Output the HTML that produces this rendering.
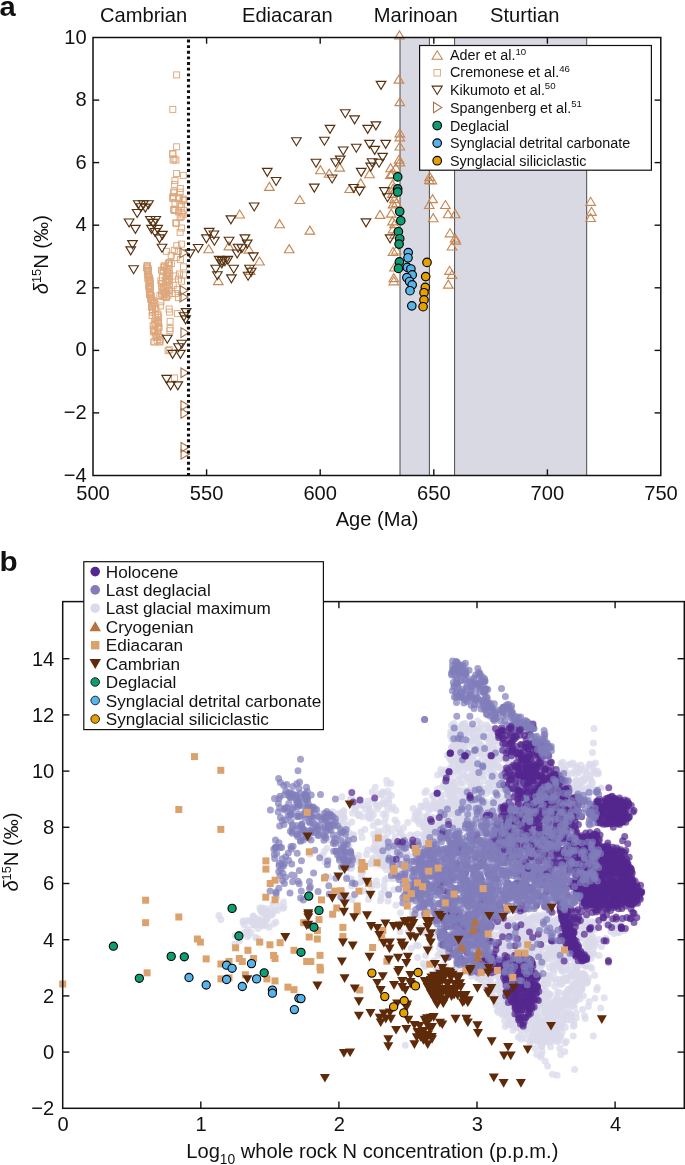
<!DOCTYPE html>
<html lang="en"><head><meta charset="utf-8"><title>Figure</title><style>html,body{margin:0;padding:0;background:#fff}svg{display:block}</style></head><body>
<svg width="685" height="1165" viewBox="0 0 685 1165" font-family='"Liberation Sans", sans-serif' fill="#111">
<rect width="685" height="1165" fill="#fff"/>
<rect x="400.0" y="37.5" width="29.4" height="438" fill="#d9d9e4"/>
<line x1="400.0" y1="37.5" x2="400.0" y2="475.5" stroke="#4a4a4a" stroke-width="1"/>
<line x1="429.4" y1="37.5" x2="429.4" y2="475.5" stroke="#4a4a4a" stroke-width="1"/>
<rect x="454.6" y="37.5" width="132.1" height="438" fill="#d9d9e4"/>
<line x1="454.6" y1="37.5" x2="454.6" y2="475.5" stroke="#4a4a4a" stroke-width="1"/>
<line x1="586.7" y1="37.5" x2="586.7" y2="475.5" stroke="#4a4a4a" stroke-width="1"/>
<g id="a-data">
<rect x="173.6" y="71.9" width="6.0" height="6.0" fill="none" stroke="#dea77c" stroke-width="0.95"/>
<rect x="169.8" y="106.4" width="6.0" height="6.0" fill="none" stroke="#dea77c" stroke-width="0.95"/>
<rect x="173.6" y="143.8" width="6.0" height="6.0" fill="none" stroke="#dea77c" stroke-width="0.95"/>
<rect x="169.8" y="151.1" width="6.0" height="6.0" fill="none" stroke="#dea77c" stroke-width="0.95"/>
<rect x="171.1" y="155.8" width="6.0" height="6.0" fill="none" stroke="#dea77c" stroke-width="0.95"/>
<rect x="169.8" y="150.5" width="6.0" height="6.0" fill="none" stroke="#dea77c" stroke-width="0.95"/>
<rect x="170.1" y="157.1" width="6.0" height="6.0" fill="none" stroke="#dea77c" stroke-width="0.95"/>
<rect x="172.9" y="157.1" width="6.0" height="6.0" fill="none" stroke="#dea77c" stroke-width="0.95"/>
<rect x="173.6" y="170.6" width="6.0" height="6.0" fill="none" stroke="#dea77c" stroke-width="0.95"/>
<rect x="180.3" y="172.4" width="6.0" height="6.0" fill="none" stroke="#dea77c" stroke-width="0.95"/>
<rect x="172.0" y="177.6" width="6.0" height="6.0" fill="none" stroke="#dea77c" stroke-width="0.95"/>
<rect x="171.6" y="181.6" width="6.0" height="6.0" fill="none" stroke="#dea77c" stroke-width="0.95"/>
<rect x="177.3" y="185.5" width="6.0" height="6.0" fill="none" stroke="#dea77c" stroke-width="0.95"/>
<rect x="170.7" y="189.0" width="6.0" height="6.0" fill="none" stroke="#dea77c" stroke-width="0.95"/>
<rect x="170.3" y="193.4" width="6.0" height="6.0" fill="none" stroke="#dea77c" stroke-width="0.95"/>
<rect x="169.8" y="195.6" width="6.0" height="6.0" fill="none" stroke="#dea77c" stroke-width="0.95"/>
<rect x="176.4" y="194.3" width="6.0" height="6.0" fill="none" stroke="#dea77c" stroke-width="0.95"/>
<rect x="180.3" y="196.0" width="6.0" height="6.0" fill="none" stroke="#dea77c" stroke-width="0.95"/>
<rect x="181.2" y="197.4" width="6.0" height="6.0" fill="none" stroke="#dea77c" stroke-width="0.95"/>
<rect x="176.8" y="201.3" width="6.0" height="6.0" fill="none" stroke="#dea77c" stroke-width="0.95"/>
<rect x="178.2" y="203.9" width="6.0" height="6.0" fill="none" stroke="#dea77c" stroke-width="0.95"/>
<rect x="170.7" y="206.5" width="6.0" height="6.0" fill="none" stroke="#dea77c" stroke-width="0.95"/>
<rect x="172.0" y="207.4" width="6.0" height="6.0" fill="none" stroke="#dea77c" stroke-width="0.95"/>
<rect x="179.0" y="210.0" width="6.0" height="6.0" fill="none" stroke="#dea77c" stroke-width="0.95"/>
<rect x="178.2" y="213.5" width="6.0" height="6.0" fill="none" stroke="#dea77c" stroke-width="0.95"/>
<rect x="180.8" y="207.4" width="6.0" height="6.0" fill="none" stroke="#dea77c" stroke-width="0.95"/>
<rect x="171.2" y="189.9" width="6.0" height="6.0" fill="none" stroke="#dea77c" stroke-width="0.95"/>
<rect x="177.1" y="189.2" width="6.0" height="6.0" fill="none" stroke="#dea77c" stroke-width="0.95"/>
<rect x="169.8" y="194.3" width="6.0" height="6.0" fill="none" stroke="#dea77c" stroke-width="0.95"/>
<rect x="175.6" y="195.8" width="6.0" height="6.0" fill="none" stroke="#dea77c" stroke-width="0.95"/>
<rect x="180.0" y="197.2" width="6.0" height="6.0" fill="none" stroke="#dea77c" stroke-width="0.95"/>
<rect x="172.0" y="200.1" width="6.0" height="6.0" fill="none" stroke="#dea77c" stroke-width="0.95"/>
<rect x="178.5" y="201.6" width="6.0" height="6.0" fill="none" stroke="#dea77c" stroke-width="0.95"/>
<rect x="171.2" y="207.4" width="6.0" height="6.0" fill="none" stroke="#dea77c" stroke-width="0.95"/>
<rect x="175.6" y="208.9" width="6.0" height="6.0" fill="none" stroke="#dea77c" stroke-width="0.95"/>
<rect x="180.0" y="211.8" width="6.0" height="6.0" fill="none" stroke="#dea77c" stroke-width="0.95"/>
<rect x="177.1" y="214.7" width="6.0" height="6.0" fill="none" stroke="#dea77c" stroke-width="0.95"/>
<rect x="173.4" y="220.6" width="6.0" height="6.0" fill="none" stroke="#dea77c" stroke-width="0.95"/>
<rect x="178.5" y="225.0" width="6.0" height="6.0" fill="none" stroke="#dea77c" stroke-width="0.95"/>
<rect x="177.1" y="229.3" width="6.0" height="6.0" fill="none" stroke="#dea77c" stroke-width="0.95"/>
<rect x="172.7" y="219.8" width="6.0" height="6.0" fill="none" stroke="#dea77c" stroke-width="0.95"/>
<rect x="166.9" y="327.7" width="6.0" height="6.0" fill="none" stroke="#dea77c" stroke-width="0.95"/>
<rect x="151.8" y="338.8" width="6.0" height="6.0" fill="none" stroke="#dea77c" stroke-width="0.95"/>
<rect x="156.4" y="338.8" width="6.0" height="6.0" fill="none" stroke="#dea77c" stroke-width="0.95"/>
<rect x="166.3" y="346.7" width="6.0" height="6.0" fill="none" stroke="#dea77c" stroke-width="0.95"/>
<rect x="171.5" y="375.0" width="6.0" height="6.0" fill="none" stroke="#dea77c" stroke-width="0.95"/>
<rect x="166.1" y="306.0" width="6.0" height="6.0" fill="none" stroke="#dea77c" stroke-width="0.95"/>
<rect x="166.6" y="309.1" width="6.0" height="6.0" fill="none" stroke="#dea77c" stroke-width="0.95"/>
<rect x="167.1" y="318.3" width="6.0" height="6.0" fill="none" stroke="#dea77c" stroke-width="0.95"/>
<rect x="167.1" y="325.5" width="6.0" height="6.0" fill="none" stroke="#dea77c" stroke-width="0.95"/>
<rect x="174.4" y="310.6" width="6.0" height="6.0" fill="none" stroke="#dea77c" stroke-width="0.95"/>
<rect x="165.1" y="347.7" width="6.0" height="6.0" fill="none" stroke="#dea77c" stroke-width="0.95"/>
<rect x="150.7" y="338.9" width="6.0" height="6.0" fill="none" stroke="#dea77c" stroke-width="0.95"/>
<rect x="156.9" y="338.9" width="6.0" height="6.0" fill="none" stroke="#dea77c" stroke-width="0.95"/>
<rect x="178.5" y="241.1" width="6.0" height="6.0" fill="none" stroke="#dea77c" stroke-width="0.95"/>
<rect x="173.8" y="242.7" width="6.0" height="6.0" fill="none" stroke="#dea77c" stroke-width="0.95"/>
<rect x="171.3" y="247.3" width="6.0" height="6.0" fill="none" stroke="#dea77c" stroke-width="0.95"/>
<rect x="175.4" y="248.3" width="6.0" height="6.0" fill="none" stroke="#dea77c" stroke-width="0.95"/>
<rect x="163.5" y="248.3" width="6.0" height="6.0" fill="none" stroke="#dea77c" stroke-width="0.95"/>
<rect x="168.2" y="252.4" width="6.0" height="6.0" fill="none" stroke="#dea77c" stroke-width="0.95"/>
<rect x="173.3" y="254.5" width="6.0" height="6.0" fill="none" stroke="#dea77c" stroke-width="0.95"/>
<rect x="177.4" y="256.6" width="6.0" height="6.0" fill="none" stroke="#dea77c" stroke-width="0.95"/>
<rect x="180.5" y="263.8" width="6.0" height="6.0" fill="none" stroke="#dea77c" stroke-width="0.95"/>
<rect x="176.4" y="271.0" width="6.0" height="6.0" fill="none" stroke="#dea77c" stroke-width="0.95"/>
<rect x="180.5" y="272.0" width="6.0" height="6.0" fill="none" stroke="#dea77c" stroke-width="0.95"/>
<rect x="172.3" y="273.0" width="6.0" height="6.0" fill="none" stroke="#dea77c" stroke-width="0.95"/>
<rect x="175.4" y="276.1" width="6.0" height="6.0" fill="none" stroke="#dea77c" stroke-width="0.95"/>
<rect x="178.5" y="278.2" width="6.0" height="6.0" fill="none" stroke="#dea77c" stroke-width="0.95"/>
<rect x="170.2" y="282.3" width="6.0" height="6.0" fill="none" stroke="#dea77c" stroke-width="0.95"/>
<rect x="174.4" y="286.4" width="6.0" height="6.0" fill="none" stroke="#dea77c" stroke-width="0.95"/>
<rect x="172.3" y="290.5" width="6.0" height="6.0" fill="none" stroke="#dea77c" stroke-width="0.95"/>
<rect x="175.4" y="294.6" width="6.0" height="6.0" fill="none" stroke="#dea77c" stroke-width="0.95"/>
<rect x="169.2" y="290.5" width="6.0" height="6.0" fill="none" stroke="#dea77c" stroke-width="0.95"/>
<rect x="163.0" y="294.6" width="6.0" height="6.0" fill="none" stroke="#dea77c" stroke-width="0.95"/>
<rect x="156.9" y="292.6" width="6.0" height="6.0" fill="none" stroke="#dea77c" stroke-width="0.95"/>
<rect x="157.9" y="298.8" width="6.0" height="6.0" fill="none" stroke="#dea77c" stroke-width="0.95"/>
<rect x="157.4" y="302.9" width="6.0" height="6.0" fill="none" stroke="#dea77c" stroke-width="0.95"/>
<rect x="144.2" y="262.6" width="6.0" height="6.0" fill="none" stroke="#dea77c" stroke-width="0.95"/>
<rect x="144.2" y="263.1" width="6.0" height="6.0" fill="none" stroke="#dea77c" stroke-width="0.95"/>
<rect x="144.3" y="263.9" width="6.0" height="6.0" fill="none" stroke="#dea77c" stroke-width="0.95"/>
<rect x="143.6" y="264.9" width="6.0" height="6.0" fill="none" stroke="#dea77c" stroke-width="0.95"/>
<rect x="145.0" y="265.8" width="6.0" height="6.0" fill="none" stroke="#dea77c" stroke-width="0.95"/>
<rect x="145.5" y="267.2" width="6.0" height="6.0" fill="none" stroke="#dea77c" stroke-width="0.95"/>
<rect x="144.9" y="267.5" width="6.0" height="6.0" fill="none" stroke="#dea77c" stroke-width="0.95"/>
<rect x="144.8" y="267.7" width="6.0" height="6.0" fill="none" stroke="#dea77c" stroke-width="0.95"/>
<rect x="144.3" y="268.8" width="6.0" height="6.0" fill="none" stroke="#dea77c" stroke-width="0.95"/>
<rect x="144.9" y="271.4" width="6.0" height="6.0" fill="none" stroke="#dea77c" stroke-width="0.95"/>
<rect x="145.4" y="271.9" width="6.0" height="6.0" fill="none" stroke="#dea77c" stroke-width="0.95"/>
<rect x="145.2" y="272.7" width="6.0" height="6.0" fill="none" stroke="#dea77c" stroke-width="0.95"/>
<rect x="146.5" y="274.9" width="6.0" height="6.0" fill="none" stroke="#dea77c" stroke-width="0.95"/>
<rect x="145.3" y="274.6" width="6.0" height="6.0" fill="none" stroke="#dea77c" stroke-width="0.95"/>
<rect x="144.9" y="276.0" width="6.0" height="6.0" fill="none" stroke="#dea77c" stroke-width="0.95"/>
<rect x="146.6" y="276.5" width="6.0" height="6.0" fill="none" stroke="#dea77c" stroke-width="0.95"/>
<rect x="146.9" y="277.4" width="6.0" height="6.0" fill="none" stroke="#dea77c" stroke-width="0.95"/>
<rect x="147.0" y="278.4" width="6.0" height="6.0" fill="none" stroke="#dea77c" stroke-width="0.95"/>
<rect x="146.3" y="279.6" width="6.0" height="6.0" fill="none" stroke="#dea77c" stroke-width="0.95"/>
<rect x="147.1" y="280.5" width="6.0" height="6.0" fill="none" stroke="#dea77c" stroke-width="0.95"/>
<rect x="146.3" y="282.1" width="6.0" height="6.0" fill="none" stroke="#dea77c" stroke-width="0.95"/>
<rect x="146.0" y="282.6" width="6.0" height="6.0" fill="none" stroke="#dea77c" stroke-width="0.95"/>
<rect x="145.9" y="283.8" width="6.0" height="6.0" fill="none" stroke="#dea77c" stroke-width="0.95"/>
<rect x="147.0" y="284.3" width="6.0" height="6.0" fill="none" stroke="#dea77c" stroke-width="0.95"/>
<rect x="147.5" y="284.8" width="6.0" height="6.0" fill="none" stroke="#dea77c" stroke-width="0.95"/>
<rect x="146.3" y="286.7" width="6.0" height="6.0" fill="none" stroke="#dea77c" stroke-width="0.95"/>
<rect x="146.7" y="288.1" width="6.0" height="6.0" fill="none" stroke="#dea77c" stroke-width="0.95"/>
<rect x="146.9" y="289.6" width="6.0" height="6.0" fill="none" stroke="#dea77c" stroke-width="0.95"/>
<rect x="147.1" y="289.9" width="6.0" height="6.0" fill="none" stroke="#dea77c" stroke-width="0.95"/>
<rect x="146.6" y="291.5" width="6.0" height="6.0" fill="none" stroke="#dea77c" stroke-width="0.95"/>
<rect x="147.0" y="291.8" width="6.0" height="6.0" fill="none" stroke="#dea77c" stroke-width="0.95"/>
<rect x="147.3" y="291.7" width="6.0" height="6.0" fill="none" stroke="#dea77c" stroke-width="0.95"/>
<rect x="148.3" y="292.8" width="6.0" height="6.0" fill="none" stroke="#dea77c" stroke-width="0.95"/>
<rect x="147.9" y="294.6" width="6.0" height="6.0" fill="none" stroke="#dea77c" stroke-width="0.95"/>
<rect x="148.5" y="296.1" width="6.0" height="6.0" fill="none" stroke="#dea77c" stroke-width="0.95"/>
<rect x="147.7" y="296.4" width="6.0" height="6.0" fill="none" stroke="#dea77c" stroke-width="0.95"/>
<rect x="150.1" y="297.5" width="6.0" height="6.0" fill="none" stroke="#dea77c" stroke-width="0.95"/>
<rect x="149.9" y="298.9" width="6.0" height="6.0" fill="none" stroke="#dea77c" stroke-width="0.95"/>
<rect x="150.9" y="299.8" width="6.0" height="6.0" fill="none" stroke="#dea77c" stroke-width="0.95"/>
<rect x="149.1" y="300.0" width="6.0" height="6.0" fill="none" stroke="#dea77c" stroke-width="0.95"/>
<rect x="151.4" y="300.6" width="6.0" height="6.0" fill="none" stroke="#dea77c" stroke-width="0.95"/>
<rect x="148.9" y="303.2" width="6.0" height="6.0" fill="none" stroke="#dea77c" stroke-width="0.95"/>
<rect x="149.2" y="303.0" width="6.0" height="6.0" fill="none" stroke="#dea77c" stroke-width="0.95"/>
<rect x="148.4" y="304.2" width="6.0" height="6.0" fill="none" stroke="#dea77c" stroke-width="0.95"/>
<rect x="152.4" y="305.7" width="6.0" height="6.0" fill="none" stroke="#dea77c" stroke-width="0.95"/>
<rect x="152.9" y="305.7" width="6.0" height="6.0" fill="none" stroke="#dea77c" stroke-width="0.95"/>
<rect x="149.8" y="306.8" width="6.0" height="6.0" fill="none" stroke="#dea77c" stroke-width="0.95"/>
<rect x="149.5" y="307.7" width="6.0" height="6.0" fill="none" stroke="#dea77c" stroke-width="0.95"/>
<rect x="149.5" y="309.2" width="6.0" height="6.0" fill="none" stroke="#dea77c" stroke-width="0.95"/>
<rect x="154.8" y="311.0" width="6.0" height="6.0" fill="none" stroke="#dea77c" stroke-width="0.95"/>
<rect x="152.6" y="311.0" width="6.0" height="6.0" fill="none" stroke="#dea77c" stroke-width="0.95"/>
<rect x="149.1" y="312.5" width="6.0" height="6.0" fill="none" stroke="#dea77c" stroke-width="0.95"/>
<rect x="155.1" y="312.8" width="6.0" height="6.0" fill="none" stroke="#dea77c" stroke-width="0.95"/>
<rect x="152.2" y="314.8" width="6.0" height="6.0" fill="none" stroke="#dea77c" stroke-width="0.95"/>
<rect x="155.6" y="314.4" width="6.0" height="6.0" fill="none" stroke="#dea77c" stroke-width="0.95"/>
<rect x="154.1" y="317.0" width="6.0" height="6.0" fill="none" stroke="#dea77c" stroke-width="0.95"/>
<rect x="154.0" y="318.0" width="6.0" height="6.0" fill="none" stroke="#dea77c" stroke-width="0.95"/>
<rect x="151.7" y="319.0" width="6.0" height="6.0" fill="none" stroke="#dea77c" stroke-width="0.95"/>
<rect x="155.4" y="319.5" width="6.0" height="6.0" fill="none" stroke="#dea77c" stroke-width="0.95"/>
<rect x="155.4" y="320.6" width="6.0" height="6.0" fill="none" stroke="#dea77c" stroke-width="0.95"/>
<rect x="152.2" y="321.5" width="6.0" height="6.0" fill="none" stroke="#dea77c" stroke-width="0.95"/>
<rect x="150.2" y="322.5" width="6.0" height="6.0" fill="none" stroke="#dea77c" stroke-width="0.95"/>
<rect x="155.9" y="324.1" width="6.0" height="6.0" fill="none" stroke="#dea77c" stroke-width="0.95"/>
<rect x="155.0" y="324.2" width="6.0" height="6.0" fill="none" stroke="#dea77c" stroke-width="0.95"/>
<rect x="155.8" y="324.4" width="6.0" height="6.0" fill="none" stroke="#dea77c" stroke-width="0.95"/>
<rect x="150.3" y="326.6" width="6.0" height="6.0" fill="none" stroke="#dea77c" stroke-width="0.95"/>
<rect x="151.8" y="327.4" width="6.0" height="6.0" fill="none" stroke="#dea77c" stroke-width="0.95"/>
<rect x="154.6" y="328.8" width="6.0" height="6.0" fill="none" stroke="#dea77c" stroke-width="0.95"/>
<rect x="150.5" y="328.6" width="6.0" height="6.0" fill="none" stroke="#dea77c" stroke-width="0.95"/>
<rect x="152.0" y="329.8" width="6.0" height="6.0" fill="none" stroke="#dea77c" stroke-width="0.95"/>
<rect x="155.2" y="331.4" width="6.0" height="6.0" fill="none" stroke="#dea77c" stroke-width="0.95"/>
<rect x="153.0" y="332.7" width="6.0" height="6.0" fill="none" stroke="#dea77c" stroke-width="0.95"/>
<rect x="153.7" y="333.3" width="6.0" height="6.0" fill="none" stroke="#dea77c" stroke-width="0.95"/>
<rect x="156.7" y="334.3" width="6.0" height="6.0" fill="none" stroke="#dea77c" stroke-width="0.95"/>
<rect x="153.1" y="334.5" width="6.0" height="6.0" fill="none" stroke="#dea77c" stroke-width="0.95"/>
<rect x="156.5" y="336.6" width="6.0" height="6.0" fill="none" stroke="#dea77c" stroke-width="0.95"/>
<rect x="157.2" y="336.9" width="6.0" height="6.0" fill="none" stroke="#dea77c" stroke-width="0.95"/>
<rect x="154.2" y="337.3" width="6.0" height="6.0" fill="none" stroke="#dea77c" stroke-width="0.95"/>
<rect x="166.4" y="259.4" width="6.0" height="6.0" fill="none" stroke="#dea77c" stroke-width="0.95"/>
<rect x="165.3" y="260.7" width="6.0" height="6.0" fill="none" stroke="#dea77c" stroke-width="0.95"/>
<rect x="165.6" y="260.6" width="6.0" height="6.0" fill="none" stroke="#dea77c" stroke-width="0.95"/>
<rect x="168.4" y="260.5" width="6.0" height="6.0" fill="none" stroke="#dea77c" stroke-width="0.95"/>
<rect x="165.8" y="262.2" width="6.0" height="6.0" fill="none" stroke="#dea77c" stroke-width="0.95"/>
<rect x="161.2" y="262.8" width="6.0" height="6.0" fill="none" stroke="#dea77c" stroke-width="0.95"/>
<rect x="160.9" y="264.4" width="6.0" height="6.0" fill="none" stroke="#dea77c" stroke-width="0.95"/>
<rect x="161.4" y="263.7" width="6.0" height="6.0" fill="none" stroke="#dea77c" stroke-width="0.95"/>
<rect x="163.3" y="265.7" width="6.0" height="6.0" fill="none" stroke="#dea77c" stroke-width="0.95"/>
<rect x="166.1" y="267.0" width="6.0" height="6.0" fill="none" stroke="#dea77c" stroke-width="0.95"/>
<rect x="160.3" y="267.0" width="6.0" height="6.0" fill="none" stroke="#dea77c" stroke-width="0.95"/>
<rect x="158.5" y="267.3" width="6.0" height="6.0" fill="none" stroke="#dea77c" stroke-width="0.95"/>
<rect x="159.9" y="268.2" width="6.0" height="6.0" fill="none" stroke="#dea77c" stroke-width="0.95"/>
<rect x="164.6" y="269.0" width="6.0" height="6.0" fill="none" stroke="#dea77c" stroke-width="0.95"/>
<rect x="165.1" y="269.8" width="6.0" height="6.0" fill="none" stroke="#dea77c" stroke-width="0.95"/>
<rect x="166.4" y="270.2" width="6.0" height="6.0" fill="none" stroke="#dea77c" stroke-width="0.95"/>
<rect x="164.6" y="271.1" width="6.0" height="6.0" fill="none" stroke="#dea77c" stroke-width="0.95"/>
<rect x="163.7" y="272.7" width="6.0" height="6.0" fill="none" stroke="#dea77c" stroke-width="0.95"/>
<rect x="163.1" y="273.4" width="6.0" height="6.0" fill="none" stroke="#dea77c" stroke-width="0.95"/>
<rect x="166.6" y="273.8" width="6.0" height="6.0" fill="none" stroke="#dea77c" stroke-width="0.95"/>
<rect x="159.4" y="274.8" width="6.0" height="6.0" fill="none" stroke="#dea77c" stroke-width="0.95"/>
<rect x="163.6" y="275.7" width="6.0" height="6.0" fill="none" stroke="#dea77c" stroke-width="0.95"/>
<rect x="166.1" y="276.4" width="6.0" height="6.0" fill="none" stroke="#dea77c" stroke-width="0.95"/>
<rect x="162.4" y="277.4" width="6.0" height="6.0" fill="none" stroke="#dea77c" stroke-width="0.95"/>
<rect x="166.1" y="277.8" width="6.0" height="6.0" fill="none" stroke="#dea77c" stroke-width="0.95"/>
<rect x="157.9" y="277.9" width="6.0" height="6.0" fill="none" stroke="#dea77c" stroke-width="0.95"/>
<rect x="164.7" y="278.9" width="6.0" height="6.0" fill="none" stroke="#dea77c" stroke-width="0.95"/>
<rect x="165.1" y="278.6" width="6.0" height="6.0" fill="none" stroke="#dea77c" stroke-width="0.95"/>
<rect x="159.0" y="280.3" width="6.0" height="6.0" fill="none" stroke="#dea77c" stroke-width="0.95"/>
<rect x="158.8" y="280.8" width="6.0" height="6.0" fill="none" stroke="#dea77c" stroke-width="0.95"/>
<rect x="164.4" y="282.4" width="6.0" height="6.0" fill="none" stroke="#dea77c" stroke-width="0.95"/>
<rect x="166.5" y="282.8" width="6.0" height="6.0" fill="none" stroke="#dea77c" stroke-width="0.95"/>
<rect x="158.5" y="283.3" width="6.0" height="6.0" fill="none" stroke="#dea77c" stroke-width="0.95"/>
<rect x="160.4" y="284.5" width="6.0" height="6.0" fill="none" stroke="#dea77c" stroke-width="0.95"/>
<rect x="162.6" y="285.5" width="6.0" height="6.0" fill="none" stroke="#dea77c" stroke-width="0.95"/>
<rect x="160.7" y="285.5" width="6.0" height="6.0" fill="none" stroke="#dea77c" stroke-width="0.95"/>
<rect x="166.1" y="286.2" width="6.0" height="6.0" fill="none" stroke="#dea77c" stroke-width="0.95"/>
<rect x="166.6" y="287.4" width="6.0" height="6.0" fill="none" stroke="#dea77c" stroke-width="0.95"/>
<rect x="159.7" y="288.0" width="6.0" height="6.0" fill="none" stroke="#dea77c" stroke-width="0.95"/>
<rect x="163.1" y="287.9" width="6.0" height="6.0" fill="none" stroke="#dea77c" stroke-width="0.95"/>
<rect x="162.1" y="289.6" width="6.0" height="6.0" fill="none" stroke="#dea77c" stroke-width="0.95"/>
<rect x="162.4" y="290.3" width="6.0" height="6.0" fill="none" stroke="#dea77c" stroke-width="0.95"/>
<rect x="158.5" y="291.1" width="6.0" height="6.0" fill="none" stroke="#dea77c" stroke-width="0.95"/>
<rect x="165.0" y="292.2" width="6.0" height="6.0" fill="none" stroke="#dea77c" stroke-width="0.95"/>
<rect x="161.3" y="291.6" width="6.0" height="6.0" fill="none" stroke="#dea77c" stroke-width="0.95"/>
<rect x="163.5" y="293.7" width="6.0" height="6.0" fill="none" stroke="#dea77c" stroke-width="0.95"/>
<rect x="160.0" y="293.4" width="6.0" height="6.0" fill="none" stroke="#dea77c" stroke-width="0.95"/>
<rect x="163.7" y="294.1" width="6.0" height="6.0" fill="none" stroke="#dea77c" stroke-width="0.95"/>
<path d="M234.9 218.0L244.5 218.0L239.7 210.0Z" fill="none" stroke="#c78855" stroke-width="1.15"/>
<path d="M274.8 227.7L284.4 227.7L279.6 219.7Z" fill="none" stroke="#c78855" stroke-width="1.15"/>
<path d="M295.0 203.5L304.6 203.5L299.8 195.5Z" fill="none" stroke="#c78855" stroke-width="1.15"/>
<path d="M203.9 252.7L213.5 252.7L208.7 244.7Z" fill="none" stroke="#c78855" stroke-width="1.15"/>
<path d="M224.0 249.9L233.6 249.9L228.8 241.9Z" fill="none" stroke="#c78855" stroke-width="1.15"/>
<path d="M244.1 253.1L253.7 253.1L248.9 245.1Z" fill="none" stroke="#c78855" stroke-width="1.15"/>
<path d="M254.7 265.0L264.3 265.0L259.5 257.0Z" fill="none" stroke="#c78855" stroke-width="1.15"/>
<path d="M284.4 252.7L294.0 252.7L289.2 244.7Z" fill="none" stroke="#c78855" stroke-width="1.15"/>
<path d="M213.5 284.6L223.1 284.6L218.3 276.6Z" fill="none" stroke="#c78855" stroke-width="1.15"/>
<path d="M245.4 274.4L255.0 274.4L250.2 266.4Z" fill="none" stroke="#c78855" stroke-width="1.15"/>
<path d="M264.6 190.4L274.2 190.4L269.4 182.4Z" fill="none" stroke="#c78855" stroke-width="1.15"/>
<path d="M334.9 171.1L344.5 171.1L339.7 163.1Z" fill="none" stroke="#c78855" stroke-width="1.15"/>
<path d="M315.6 173.7L325.2 173.7L320.4 165.7Z" fill="none" stroke="#c78855" stroke-width="1.15"/>
<path d="M324.4 177.2L334.0 177.2L329.2 169.2Z" fill="none" stroke="#c78855" stroke-width="1.15"/>
<path d="M364.7 177.7L374.3 177.7L369.5 169.7Z" fill="none" stroke="#c78855" stroke-width="1.15"/>
<path d="M355.9 186.9L365.5 186.9L360.7 178.9Z" fill="none" stroke="#c78855" stroke-width="1.15"/>
<path d="M344.9 192.5L354.5 192.5L349.7 184.5Z" fill="none" stroke="#c78855" stroke-width="1.15"/>
<path d="M305.1 234.1L314.7 234.1L309.9 226.1Z" fill="none" stroke="#c78855" stroke-width="1.15"/>
<path d="M375.2 218.4L384.8 218.4L380.0 210.4Z" fill="none" stroke="#c78855" stroke-width="1.15"/>
<path d="M394.7 38.9L404.3 38.9L399.5 30.9Z" fill="none" stroke="#c78855" stroke-width="1.15"/>
<path d="M394.1 83.1L403.7 83.1L398.9 75.1Z" fill="none" stroke="#c78855" stroke-width="1.15"/>
<path d="M395.0 105.6L404.6 105.6L399.8 97.6Z" fill="none" stroke="#c78855" stroke-width="1.15"/>
<path d="M395.0 136.8L404.6 136.8L399.8 128.8Z" fill="none" stroke="#c78855" stroke-width="1.15"/>
<path d="M395.0 140.8L404.6 140.8L399.8 132.8Z" fill="none" stroke="#c78855" stroke-width="1.15"/>
<path d="M395.0 150.0L404.6 150.0L399.8 142.0Z" fill="none" stroke="#c78855" stroke-width="1.15"/>
<path d="M394.3 163.1L403.9 163.1L399.1 155.1Z" fill="none" stroke="#c78855" stroke-width="1.15"/>
<path d="M395.0 165.8L404.6 165.8L399.8 157.8Z" fill="none" stroke="#c78855" stroke-width="1.15"/>
<path d="M385.8 171.7L395.4 171.7L390.6 163.7Z" fill="none" stroke="#c78855" stroke-width="1.15"/>
<path d="M391.0 171.7L400.6 171.7L395.8 163.7Z" fill="none" stroke="#c78855" stroke-width="1.15"/>
<path d="M387.1 177.6L396.7 177.6L391.9 169.6Z" fill="none" stroke="#c78855" stroke-width="1.15"/>
<path d="M387.8 188.1L397.4 188.1L392.6 180.1Z" fill="none" stroke="#c78855" stroke-width="1.15"/>
<path d="M385.7 178.3L395.3 178.3L390.5 170.3Z" fill="none" stroke="#c78855" stroke-width="1.15"/>
<path d="M424.9 180.3L434.5 180.3L429.7 172.3Z" fill="none" stroke="#c78855" stroke-width="1.15"/>
<path d="M424.5 183.6L434.1 183.6L429.3 175.6Z" fill="none" stroke="#c78855" stroke-width="1.15"/>
<path d="M427.1 183.8L436.7 183.8L431.9 175.8Z" fill="none" stroke="#c78855" stroke-width="1.15"/>
<path d="M427.8 202.6L437.4 202.6L432.6 194.6Z" fill="none" stroke="#c78855" stroke-width="1.15"/>
<path d="M424.5 208.5L434.1 208.5L429.3 200.5Z" fill="none" stroke="#c78855" stroke-width="1.15"/>
<path d="M440.6 208.5L450.2 208.5L445.4 200.5Z" fill="none" stroke="#c78855" stroke-width="1.15"/>
<path d="M443.3 217.7L452.9 217.7L448.1 209.7Z" fill="none" stroke="#c78855" stroke-width="1.15"/>
<path d="M450.4 217.7L460.0 217.7L455.2 209.7Z" fill="none" stroke="#c78855" stroke-width="1.15"/>
<path d="M428.4 221.7L438.0 221.7L433.2 213.7Z" fill="none" stroke="#c78855" stroke-width="1.15"/>
<path d="M445.2 236.8L454.8 236.8L450.0 228.8Z" fill="none" stroke="#c78855" stroke-width="1.15"/>
<path d="M450.4 242.0L460.0 242.0L455.2 234.0Z" fill="none" stroke="#c78855" stroke-width="1.15"/>
<path d="M388.3 192.1L397.9 192.1L393.1 184.1Z" fill="none" stroke="#c78855" stroke-width="1.15"/>
<path d="M387.7 197.4L397.3 197.4L392.5 189.4Z" fill="none" stroke="#c78855" stroke-width="1.15"/>
<path d="M389.7 202.6L399.3 202.6L394.5 194.6Z" fill="none" stroke="#c78855" stroke-width="1.15"/>
<path d="M388.3 207.9L397.9 207.9L393.1 199.9Z" fill="none" stroke="#c78855" stroke-width="1.15"/>
<path d="M391.6 206.6L401.2 206.6L396.4 198.6Z" fill="none" stroke="#c78855" stroke-width="1.15"/>
<path d="M386.4 217.1L396.0 217.1L391.2 209.1Z" fill="none" stroke="#c78855" stroke-width="1.15"/>
<path d="M387.7 224.9L397.3 224.9L392.5 216.9Z" fill="none" stroke="#c78855" stroke-width="1.15"/>
<path d="M389.7 227.6L399.3 227.6L394.5 219.6Z" fill="none" stroke="#c78855" stroke-width="1.15"/>
<path d="M388.3 232.8L397.9 232.8L393.1 224.8Z" fill="none" stroke="#c78855" stroke-width="1.15"/>
<path d="M389.7 238.1L399.3 238.1L394.5 230.1Z" fill="none" stroke="#c78855" stroke-width="1.15"/>
<path d="M451.1 244.1L460.7 244.1L455.9 236.1Z" fill="none" stroke="#c78855" stroke-width="1.15"/>
<path d="M447.2 250.0L456.8 250.0L452.0 242.0Z" fill="none" stroke="#c78855" stroke-width="1.15"/>
<path d="M444.8 274.3L454.4 274.3L449.6 266.3Z" fill="none" stroke="#c78855" stroke-width="1.15"/>
<path d="M447.2 278.3L456.8 278.3L452.0 270.3Z" fill="none" stroke="#c78855" stroke-width="1.15"/>
<path d="M443.5 288.1L453.1 288.1L448.3 280.1Z" fill="none" stroke="#c78855" stroke-width="1.15"/>
<path d="M388.3 255.3L397.9 255.3L393.1 247.3Z" fill="none" stroke="#c78855" stroke-width="1.15"/>
<path d="M391.6 254.0L401.2 254.0L396.4 246.0Z" fill="none" stroke="#c78855" stroke-width="1.15"/>
<path d="M389.7 271.0L399.3 271.0L394.5 263.0Z" fill="none" stroke="#c78855" stroke-width="1.15"/>
<path d="M389.0 281.6L398.6 281.6L393.8 273.6Z" fill="none" stroke="#c78855" stroke-width="1.15"/>
<path d="M389.0 284.8L398.6 284.8L393.8 276.8Z" fill="none" stroke="#c78855" stroke-width="1.15"/>
<path d="M585.8 205.3L595.4 205.3L590.6 197.3Z" fill="none" stroke="#c78855" stroke-width="1.15"/>
<path d="M586.7 215.3L596.3 215.3L591.5 207.3Z" fill="none" stroke="#c78855" stroke-width="1.15"/>
<path d="M585.8 221.5L595.4 221.5L590.6 213.5Z" fill="none" stroke="#c78855" stroke-width="1.15"/>
<path d="M133.5 200.7L143.1 200.7L138.3 208.7Z" fill="none" stroke="#55300f" stroke-width="1.15"/>
<path d="M138.6 200.7L148.2 200.7L143.4 208.7Z" fill="none" stroke="#55300f" stroke-width="1.15"/>
<path d="M143.7 200.7L153.3 200.7L148.5 208.7Z" fill="none" stroke="#55300f" stroke-width="1.15"/>
<path d="M136.1 203.7L145.7 203.7L140.9 211.7Z" fill="none" stroke="#55300f" stroke-width="1.15"/>
<path d="M140.5 204.1L150.1 204.1L145.3 212.1Z" fill="none" stroke="#55300f" stroke-width="1.15"/>
<path d="M132.4 209.5L142.0 209.5L137.2 217.5Z" fill="none" stroke="#55300f" stroke-width="1.15"/>
<path d="M145.6 216.5L155.2 216.5L150.4 224.5Z" fill="none" stroke="#55300f" stroke-width="1.15"/>
<path d="M151.0 216.5L160.6 216.5L155.8 224.5Z" fill="none" stroke="#55300f" stroke-width="1.15"/>
<path d="M148.4 219.4L158.0 219.4L153.2 227.4Z" fill="none" stroke="#55300f" stroke-width="1.15"/>
<path d="M146.7 225.3L156.3 225.3L151.5 233.3Z" fill="none" stroke="#55300f" stroke-width="1.15"/>
<path d="M152.9 225.3L162.5 225.3L157.7 233.3Z" fill="none" stroke="#55300f" stroke-width="1.15"/>
<path d="M150.3 228.5L159.9 228.5L155.1 236.5Z" fill="none" stroke="#55300f" stroke-width="1.15"/>
<path d="M157.6 231.4L167.2 231.4L162.4 239.4Z" fill="none" stroke="#55300f" stroke-width="1.15"/>
<path d="M154.7 234.8L164.3 234.8L159.5 242.8Z" fill="none" stroke="#55300f" stroke-width="1.15"/>
<path d="M124.3 219.0L133.9 219.0L129.1 227.0Z" fill="none" stroke="#55300f" stroke-width="1.15"/>
<path d="M130.6 225.3L140.2 225.3L135.4 233.3Z" fill="none" stroke="#55300f" stroke-width="1.15"/>
<path d="M127.7 240.6L137.3 240.6L132.5 248.6Z" fill="none" stroke="#55300f" stroke-width="1.15"/>
<path d="M125.9 246.9L135.5 246.9L130.7 254.9Z" fill="none" stroke="#55300f" stroke-width="1.15"/>
<path d="M157.2 244.2L166.8 244.2L162.0 252.2Z" fill="none" stroke="#55300f" stroke-width="1.15"/>
<path d="M128.8 265.7L138.4 265.7L133.6 273.7Z" fill="none" stroke="#55300f" stroke-width="1.15"/>
<path d="M193.4 244.5L203.0 244.5L198.2 252.5Z" fill="none" stroke="#55300f" stroke-width="1.15"/>
<path d="M185.3 249.8L194.9 249.8L190.1 257.8Z" fill="none" stroke="#55300f" stroke-width="1.15"/>
<path d="M249.4 203.0L259.0 203.0L254.2 211.0Z" fill="none" stroke="#55300f" stroke-width="1.15"/>
<path d="M226.1 215.8L235.7 215.8L230.9 223.8Z" fill="none" stroke="#55300f" stroke-width="1.15"/>
<path d="M204.4 228.4L214.0 228.4L209.2 236.4Z" fill="none" stroke="#55300f" stroke-width="1.15"/>
<path d="M209.1 231.0L218.7 231.0L213.9 239.0Z" fill="none" stroke="#55300f" stroke-width="1.15"/>
<path d="M201.6 234.9L211.2 234.9L206.4 242.9Z" fill="none" stroke="#55300f" stroke-width="1.15"/>
<path d="M209.6 237.2L219.2 237.2L214.4 245.2Z" fill="none" stroke="#55300f" stroke-width="1.15"/>
<path d="M224.3 237.2L233.9 237.2L229.1 245.2Z" fill="none" stroke="#55300f" stroke-width="1.15"/>
<path d="M240.1 234.9L249.7 234.9L244.9 242.9Z" fill="none" stroke="#55300f" stroke-width="1.15"/>
<path d="M242.4 240.1L252.0 240.1L247.2 248.1Z" fill="none" stroke="#55300f" stroke-width="1.15"/>
<path d="M233.3 244.2L242.9 244.2L238.1 252.2Z" fill="none" stroke="#55300f" stroke-width="1.15"/>
<path d="M237.1 244.7L246.7 244.7L241.9 252.7Z" fill="none" stroke="#55300f" stroke-width="1.15"/>
<path d="M232.4 250.0L242.0 250.0L237.2 258.0Z" fill="none" stroke="#55300f" stroke-width="1.15"/>
<path d="M248.5 252.9L258.1 252.9L253.3 260.9Z" fill="none" stroke="#55300f" stroke-width="1.15"/>
<path d="M214.4 256.4L224.0 256.4L219.2 264.4Z" fill="none" stroke="#55300f" stroke-width="1.15"/>
<path d="M217.3 257.3L226.9 257.3L222.1 265.3Z" fill="none" stroke="#55300f" stroke-width="1.15"/>
<path d="M220.1 257.7L229.7 257.7L224.9 265.7Z" fill="none" stroke="#55300f" stroke-width="1.15"/>
<path d="M223.1 256.4L232.7 256.4L227.9 264.4Z" fill="none" stroke="#55300f" stroke-width="1.15"/>
<path d="M217.0 259.9L226.6 259.9L221.8 267.9Z" fill="none" stroke="#55300f" stroke-width="1.15"/>
<path d="M210.9 265.2L220.5 265.2L215.7 273.2Z" fill="none" stroke="#55300f" stroke-width="1.15"/>
<path d="M228.9 265.2L238.5 265.2L233.7 273.2Z" fill="none" stroke="#55300f" stroke-width="1.15"/>
<path d="M244.7 265.2L254.3 265.2L249.5 273.2Z" fill="none" stroke="#55300f" stroke-width="1.15"/>
<path d="M212.6 271.7L222.2 271.7L217.4 279.7Z" fill="none" stroke="#55300f" stroke-width="1.15"/>
<path d="M226.6 274.8L236.2 274.8L231.4 282.8Z" fill="none" stroke="#55300f" stroke-width="1.15"/>
<path d="M243.3 272.2L252.9 272.2L248.1 280.2Z" fill="none" stroke="#55300f" stroke-width="1.15"/>
<path d="M246.4 268.2L256.0 268.2L251.2 276.2Z" fill="none" stroke="#55300f" stroke-width="1.15"/>
<path d="M340.5 109.7L350.1 109.7L345.3 117.7Z" fill="none" stroke="#55300f" stroke-width="1.15"/>
<path d="M349.8 115.8L359.4 115.8L354.6 123.8Z" fill="none" stroke="#55300f" stroke-width="1.15"/>
<path d="M325.2 125.4L334.8 125.4L330.0 133.4Z" fill="none" stroke="#55300f" stroke-width="1.15"/>
<path d="M371.1 121.9L380.7 121.9L375.9 129.9Z" fill="none" stroke="#55300f" stroke-width="1.15"/>
<path d="M362.9 125.4L372.5 125.4L367.7 133.4Z" fill="none" stroke="#55300f" stroke-width="1.15"/>
<path d="M291.6 137.7L301.2 137.7L296.4 145.7Z" fill="none" stroke="#55300f" stroke-width="1.15"/>
<path d="M319.6 137.2L329.2 137.2L324.4 145.2Z" fill="none" stroke="#55300f" stroke-width="1.15"/>
<path d="M364.7 140.3L374.3 140.3L369.5 148.3Z" fill="none" stroke="#55300f" stroke-width="1.15"/>
<path d="M380.9 140.3L390.5 140.3L385.7 148.3Z" fill="none" stroke="#55300f" stroke-width="1.15"/>
<path d="M351.5 144.2L361.1 144.2L356.3 152.2Z" fill="none" stroke="#55300f" stroke-width="1.15"/>
<path d="M369.9 146.4L379.5 146.4L374.7 154.4Z" fill="none" stroke="#55300f" stroke-width="1.15"/>
<path d="M338.4 147.0L348.0 147.0L343.2 155.0Z" fill="none" stroke="#55300f" stroke-width="1.15"/>
<path d="M377.8 153.4L387.4 153.4L382.6 161.4Z" fill="none" stroke="#55300f" stroke-width="1.15"/>
<path d="M335.4 156.1L345.0 156.1L340.2 164.1Z" fill="none" stroke="#55300f" stroke-width="1.15"/>
<path d="M330.8 158.7L340.4 158.7L335.6 166.7Z" fill="none" stroke="#55300f" stroke-width="1.15"/>
<path d="M311.2 159.2L320.8 159.2L316.0 167.2Z" fill="none" stroke="#55300f" stroke-width="1.15"/>
<path d="M367.3 158.7L376.9 158.7L372.1 166.7Z" fill="none" stroke="#55300f" stroke-width="1.15"/>
<path d="M374.3 159.2L383.9 159.2L379.1 167.2Z" fill="none" stroke="#55300f" stroke-width="1.15"/>
<path d="M365.9 163.1L375.5 163.1L370.7 171.1Z" fill="none" stroke="#55300f" stroke-width="1.15"/>
<path d="M356.4 168.3L366.0 168.3L361.2 176.3Z" fill="none" stroke="#55300f" stroke-width="1.15"/>
<path d="M327.3 175.0L336.9 175.0L332.1 183.0Z" fill="none" stroke="#55300f" stroke-width="1.15"/>
<path d="M309.5 184.1L319.1 184.1L314.3 192.1Z" fill="none" stroke="#55300f" stroke-width="1.15"/>
<path d="M348.9 184.5L358.5 184.5L353.7 192.5Z" fill="none" stroke="#55300f" stroke-width="1.15"/>
<path d="M354.7 187.3L364.3 187.3L359.5 195.3Z" fill="none" stroke="#55300f" stroke-width="1.15"/>
<path d="M379.5 187.6L389.1 187.6L384.3 195.6Z" fill="none" stroke="#55300f" stroke-width="1.15"/>
<path d="M382.7 193.7L392.3 193.7L387.5 201.7Z" fill="none" stroke="#55300f" stroke-width="1.15"/>
<path d="M262.5 168.3L272.1 168.3L267.3 176.3Z" fill="none" stroke="#55300f" stroke-width="1.15"/>
<path d="M271.3 177.5L280.9 177.5L276.1 185.5Z" fill="none" stroke="#55300f" stroke-width="1.15"/>
<path d="M361.2 218.8L370.8 218.8L366.0 226.8Z" fill="none" stroke="#55300f" stroke-width="1.15"/>
<path d="M385.3 234.9L394.9 234.9L390.1 242.9Z" fill="none" stroke="#55300f" stroke-width="1.15"/>
<path d="M376.2 81.4L385.8 81.4L381.0 89.4Z" fill="none" stroke="#55300f" stroke-width="1.15"/>
<path d="M162.5 335.2L172.1 335.2L167.3 343.2Z" fill="none" stroke="#55300f" stroke-width="1.15"/>
<path d="M177.0 340.2L186.6 340.2L181.8 348.2Z" fill="none" stroke="#55300f" stroke-width="1.15"/>
<path d="M173.7 343.7L183.3 343.7L178.5 351.7Z" fill="none" stroke="#55300f" stroke-width="1.15"/>
<path d="M167.8 350.3L177.4 350.3L172.6 358.3Z" fill="none" stroke="#55300f" stroke-width="1.15"/>
<path d="M175.6 350.3L185.2 350.3L180.4 358.3Z" fill="none" stroke="#55300f" stroke-width="1.15"/>
<path d="M161.8 375.3L171.4 375.3L166.6 383.3Z" fill="none" stroke="#55300f" stroke-width="1.15"/>
<path d="M165.8 381.8L175.4 381.8L170.6 389.8Z" fill="none" stroke="#55300f" stroke-width="1.15"/>
<path d="M173.0 381.8L182.6 381.8L177.8 389.8Z" fill="none" stroke="#55300f" stroke-width="1.15"/>
<path d="M181.3 308.6L190.9 308.6L186.1 316.6Z" fill="none" stroke="#55300f" stroke-width="1.15"/>
<path d="M179.2 312.7L188.8 312.7L184.0 320.7Z" fill="none" stroke="#55300f" stroke-width="1.15"/>
<path d="M180.8 315.8L190.4 315.8L185.6 323.8Z" fill="none" stroke="#55300f" stroke-width="1.15"/>
<path d="M181.1 442.5L181.1 452.1L189.1 447.3Z" fill="none" stroke="#a8734c" stroke-width="1.15"/>
<path d="M181.1 449.5L181.1 459.1L189.1 454.3Z" fill="none" stroke="#a8734c" stroke-width="1.15"/>
<path d="M181.0 327.8L181.0 337.4L189.0 332.6Z" fill="none" stroke="#a8734c" stroke-width="1.15"/>
<path d="M181.0 367.9L181.0 377.5L189.0 372.7Z" fill="none" stroke="#a8734c" stroke-width="1.15"/>
<path d="M181.0 400.7L181.0 410.3L189.0 405.5Z" fill="none" stroke="#a8734c" stroke-width="1.15"/>
<path d="M181.0 408.6L181.0 418.2L189.0 413.4Z" fill="none" stroke="#a8734c" stroke-width="1.15"/>
<path d="M180.0 248.1L180.0 257.7L188.0 252.9Z" fill="none" stroke="#a8734c" stroke-width="1.15"/>
<path d="M180.0 285.6L180.0 295.2L188.0 290.4Z" fill="none" stroke="#a8734c" stroke-width="1.15"/>
<path d="M180.0 292.3L180.0 301.9L188.0 297.1Z" fill="none" stroke="#a8734c" stroke-width="1.15"/>
<circle cx="397.7" cy="176.9" r="4.25" fill="#109c72" stroke="#000" stroke-width="1.15"/>
<circle cx="397.7" cy="188.8" r="4.25" fill="#109c72" stroke="#000" stroke-width="1.15"/>
<circle cx="397.7" cy="192.0" r="4.25" fill="#109c72" stroke="#000" stroke-width="1.15"/>
<circle cx="399.7" cy="211.5" r="4.25" fill="#109c72" stroke="#000" stroke-width="1.15"/>
<circle cx="400.8" cy="220.7" r="4.25" fill="#109c72" stroke="#000" stroke-width="1.15"/>
<circle cx="398.4" cy="231.7" r="4.25" fill="#109c72" stroke="#000" stroke-width="1.15"/>
<circle cx="399.7" cy="238.7" r="4.25" fill="#109c72" stroke="#000" stroke-width="1.15"/>
<circle cx="399.1" cy="244.1" r="4.25" fill="#109c72" stroke="#000" stroke-width="1.15"/>
<circle cx="399.4" cy="261.8" r="4.25" fill="#109c72" stroke="#000" stroke-width="1.15"/>
<circle cx="398.4" cy="268.4" r="4.25" fill="#109c72" stroke="#000" stroke-width="1.15"/>
<circle cx="408.2" cy="252.6" r="4.25" fill="#56b4e9" stroke="#000" stroke-width="1.15"/>
<circle cx="408.0" cy="257.8" r="4.25" fill="#56b4e9" stroke="#000" stroke-width="1.15"/>
<circle cx="407.3" cy="267.3" r="4.25" fill="#56b4e9" stroke="#000" stroke-width="1.15"/>
<circle cx="410.9" cy="269.0" r="4.25" fill="#56b4e9" stroke="#000" stroke-width="1.15"/>
<circle cx="412.2" cy="274.9" r="4.25" fill="#56b4e9" stroke="#000" stroke-width="1.15"/>
<circle cx="406.9" cy="277.6" r="4.25" fill="#56b4e9" stroke="#000" stroke-width="1.15"/>
<circle cx="409.6" cy="281.5" r="4.25" fill="#56b4e9" stroke="#000" stroke-width="1.15"/>
<circle cx="412.2" cy="284.8" r="4.25" fill="#56b4e9" stroke="#000" stroke-width="1.15"/>
<circle cx="410.0" cy="290.7" r="4.25" fill="#56b4e9" stroke="#000" stroke-width="1.15"/>
<circle cx="411.8" cy="305.8" r="4.25" fill="#56b4e9" stroke="#000" stroke-width="1.15"/>
<circle cx="427.0" cy="262.4" r="4.25" fill="#e69f00" stroke="#000" stroke-width="1.15"/>
<circle cx="425.7" cy="276.6" r="4.25" fill="#e69f00" stroke="#000" stroke-width="1.15"/>
<circle cx="425.3" cy="287.4" r="4.25" fill="#e69f00" stroke="#000" stroke-width="1.15"/>
<circle cx="424.0" cy="292.7" r="4.25" fill="#e69f00" stroke="#000" stroke-width="1.15"/>
<circle cx="424.0" cy="299.9" r="4.25" fill="#e69f00" stroke="#000" stroke-width="1.15"/>
<circle cx="423.1" cy="306.7" r="4.25" fill="#e69f00" stroke="#000" stroke-width="1.15"/>
</g>
<line x1="188.5" y1="39.6" x2="188.5" y2="475.3" stroke="#111" stroke-width="3.1" stroke-dasharray="2.8 2.83"/>
<rect x="93" y="37.5" width="567.8" height="438.0" fill="none" stroke="#111" stroke-width="1.5"/>
<text transform="translate(93.0,499.6) scale(0.987,1)" font-size="20.4" text-anchor="middle">500</text>
<line x1="206.6" y1="475.5" x2="206.6" y2="469.3" stroke="#111" stroke-width="1.4"/>
<line x1="206.6" y1="37.5" x2="206.6" y2="43.7" stroke="#111" stroke-width="1.4"/>
<text transform="translate(206.6,499.6) scale(0.987,1)" font-size="20.4" text-anchor="middle">550</text>
<line x1="320.2" y1="475.5" x2="320.2" y2="469.3" stroke="#111" stroke-width="1.4"/>
<line x1="320.2" y1="37.5" x2="320.2" y2="43.7" stroke="#111" stroke-width="1.4"/>
<text transform="translate(320.2,499.6) scale(0.987,1)" font-size="20.4" text-anchor="middle">600</text>
<line x1="433.8" y1="475.5" x2="433.8" y2="469.3" stroke="#111" stroke-width="1.4"/>
<line x1="433.8" y1="37.5" x2="433.8" y2="43.7" stroke="#111" stroke-width="1.4"/>
<text transform="translate(433.8,499.6) scale(0.987,1)" font-size="20.4" text-anchor="middle">650</text>
<line x1="547.4" y1="475.5" x2="547.4" y2="469.3" stroke="#111" stroke-width="1.4"/>
<line x1="547.4" y1="37.5" x2="547.4" y2="43.7" stroke="#111" stroke-width="1.4"/>
<text transform="translate(547.4,499.6) scale(0.987,1)" font-size="20.4" text-anchor="middle">700</text>
<text transform="translate(661.0,499.6) scale(0.987,1)" font-size="20.4" text-anchor="middle">750</text>
<text transform="translate(86.6,481.5) scale(0.987,1)" font-size="20.4" text-anchor="end">−4</text>
<line x1="93" y1="412.9" x2="99.2" y2="412.9" stroke="#111" stroke-width="1.4"/>
<line x1="660.8" y1="412.9" x2="654.6" y2="412.9" stroke="#111" stroke-width="1.4"/>
<text transform="translate(86.6,418.9) scale(0.987,1)" font-size="20.4" text-anchor="end">−2</text>
<line x1="93" y1="350.4" x2="99.2" y2="350.4" stroke="#111" stroke-width="1.4"/>
<line x1="660.8" y1="350.4" x2="654.6" y2="350.4" stroke="#111" stroke-width="1.4"/>
<text transform="translate(86.6,356.4) scale(0.987,1)" font-size="20.4" text-anchor="end">0</text>
<line x1="93" y1="287.8" x2="99.2" y2="287.8" stroke="#111" stroke-width="1.4"/>
<line x1="660.8" y1="287.8" x2="654.6" y2="287.8" stroke="#111" stroke-width="1.4"/>
<text transform="translate(86.6,293.8) scale(0.987,1)" font-size="20.4" text-anchor="end">2</text>
<line x1="93" y1="225.2" x2="99.2" y2="225.2" stroke="#111" stroke-width="1.4"/>
<line x1="660.8" y1="225.2" x2="654.6" y2="225.2" stroke="#111" stroke-width="1.4"/>
<text transform="translate(86.6,231.2) scale(0.987,1)" font-size="20.4" text-anchor="end">4</text>
<line x1="93" y1="162.6" x2="99.2" y2="162.6" stroke="#111" stroke-width="1.4"/>
<line x1="660.8" y1="162.6" x2="654.6" y2="162.6" stroke="#111" stroke-width="1.4"/>
<text transform="translate(86.6,168.6) scale(0.987,1)" font-size="20.4" text-anchor="end">6</text>
<line x1="93" y1="100.1" x2="99.2" y2="100.1" stroke="#111" stroke-width="1.4"/>
<line x1="660.8" y1="100.1" x2="654.6" y2="100.1" stroke="#111" stroke-width="1.4"/>
<text transform="translate(86.6,106.1) scale(0.987,1)" font-size="20.4" text-anchor="end">8</text>
<text transform="translate(86.6,43.5) scale(0.987,1)" font-size="20.4" text-anchor="end">10</text>
<text transform="translate(100.0,21.8) scale(0.987,1)" font-size="20.4">Cambrian</text>
<text transform="translate(242.0,21.8) scale(0.987,1)" font-size="20.4">Ediacaran</text>
<text transform="translate(373.8,21.8) scale(0.987,1)" font-size="20.4">Marinoan</text>
<text transform="translate(490.0,21.8) scale(0.987,1)" font-size="20.4">Sturtian</text>
<text transform="translate(-0.5,16.0) scale(1.06,1)" font-size="27.5" font-weight="bold">a</text>
<text transform="translate(377.0,526.0) scale(0.987,1)" font-size="20.4" text-anchor="middle">Age (Ma)</text>
<text transform="translate(48.2,294.2) rotate(-90) scale(0.987,1)" font-size="20.4"><tspan font-style="italic">δ</tspan><tspan font-size="13" dy="-7.6">15</tspan><tspan dy="7.6">N (‰)</tspan></text>
<rect x="419.6" y="45.5" width="231.8" height="124.7" fill="#fff" stroke="#111" stroke-width="1.2"/>
<path d="M432.1 59.2L442.3 59.2L437.2 50.8Z" fill="none" stroke="#c78855" stroke-width="1.05"/>
<rect x="433.9" y="69.5" width="6.5" height="6.5" fill="none" stroke="#dea77c" stroke-width="0.95"/>
<path d="M432.1 86.1L442.3 86.1L437.2 94.5Z" fill="none" stroke="#55300f" stroke-width="1.05"/>
<path d="M433.5 102.3L433.5 112.7L441.9 107.5Z" fill="none" stroke="#a8734c" stroke-width="1.05"/>
<circle cx="437.2" cy="125.5" r="4.3" fill="#109c72" stroke="#000" stroke-width="1.15"/>
<circle cx="437.2" cy="143.1" r="4.3" fill="#56b4e9" stroke="#000" stroke-width="1.15"/>
<circle cx="437.2" cy="160.7" r="4.3" fill="#e69f00" stroke="#000" stroke-width="1.15"/>
<text transform="translate(450.0,60.4) scale(0.987,1)" font-size="14.55">Ader et al.<tspan font-size="9.8" dy="-5.8">10</tspan></text>
<text transform="translate(450.0,77.3) scale(0.987,1)" font-size="14.55">Cremonese et al.<tspan font-size="9.8" dy="-5.8">46</tspan></text>
<text transform="translate(450.0,94.9) scale(0.987,1)" font-size="14.55">Kikumoto et al.<tspan font-size="9.8" dy="-5.8">50</tspan></text>
<text transform="translate(450.0,112.6) scale(0.987,1)" font-size="14.55">Spangenberg et al.<tspan font-size="9.8" dy="-5.8">51</tspan></text>
<text transform="translate(450.0,130.6) scale(0.987,1)" font-size="14.55">Deglacial</text>
<text transform="translate(450.0,148.2) scale(0.987,1)" font-size="14.55">Synglacial detrital carbonate</text>
<text transform="translate(450.0,165.8) scale(0.987,1)" font-size="14.55">Synglacial siliciclastic</text>
<g id="b-data">
<g stroke="#dadaeb" stroke-opacity="0.75" stroke-width="7.0" stroke-linecap="round" fill="none">
<path d="M465.2 723.4h0M562.8 1022.8h0M542.6 1031.5h0M454.8 729.1h0M542.4 1027.6h0M397.2 823.1h0M593.5 743h0M526.2 1021.3h0M593.7 954h0M493.9 742h0M498.9 741.2h0M487.5 957.7h0M385.5 818.1h0M361.4 875.5h0M561.8 951.6h0M438.1 976.6h0M449.4 757.8h0M498.7 789.1h0M391.6 874.8h0M502.2 780.4h0M453.9 750.5h0M476.1 781.5h0M455.1 817.7h0M462 756.6h0M555.9 965.2h0M530.7 998.9h0M512.6 922.7h0M579.5 781.3h0M275.9 922.2h0M565.3 994.9h0M581.6 988.9h0M572.6 788.5h0M572.7 992.4h0M514 763.5h0M269.2 927.3h0M501 970.5h0M534.1 933.6h0M518.5 952.3h0M597.5 771.2h0M501.3 784.5h0M542 1045.7h0M491.3 819.2h0M475.2 783.6h0M407.3 873.8h0M442.1 813.2h0M445 949.1h0M591.6 942.5h0M460.6 746.2h0M422.7 840.2h0M283.9 907.2h0M493.1 818.8h0M499.5 810.3h0M501.9 758.6h0M589.7 764.1h0M466.6 768.3h0M581 937.3h0M453.5 726.1h0M487.6 826.9h0M458.1 763.8h0M440.3 836.6h0M516.5 917.2h0M552.7 938h0M433.6 961h0M433.4 889.1h0M413.9 916h0M528.6 797.5h0"/>
<path d="M565.4 940.2h0M500.4 966.5h0M489.1 938.3h0M492.8 735.7h0M561.3 1000.4h0M551.6 1009.9h0M511.8 990.7h0M427.1 842.6h0M458.3 781.8h0M385.8 864.9h0M477.8 729.1h0M555 1035.1h0M454.5 782.3h0M458.4 779.5h0M511.8 800.7h0M470.9 787.1h0M423 843.1h0M482.4 965h0M575.6 944.7h0M571.9 789.8h0M474.9 822.2h0M479 824.3h0M583.7 781.3h0M450.5 834.3h0M475.7 958.1h0M488.8 973.2h0M451.5 725.3h0M547.3 983.6h0M555.4 932.8h0M449.6 828.5h0M474.7 768h0M483.1 980.6h0M558.3 919.2h0M526 805.6h0M516.4 928.9h0M540.2 1021.6h0M489.2 975.8h0M479.3 736.4h0M371.1 863.9h0M464 808.6h0M371.2 886.2h0M532.7 926.4h0M588.1 931.5h0M621 924h0M406.5 845.2h0M492.8 832.1h0M485.1 756.4h0M456.2 729h0M406.6 852.8h0M594 728.5h0M483.5 818.7h0M379.2 805.6h0M570.9 1015.9h0M588.2 941.1h0M443.5 938.1h0M428.2 882.6h0M554.6 1002.3h0M505.3 992.9h0M544.9 994.4h0M577.7 984h0M434 883.9h0M534.6 934.1h0M424.2 870.4h0M498.5 777.4h0M550.5 920.2h0M414.2 895.4h0"/>
<path d="M494.9 809.4h0M454.5 788.1h0M570.8 932.1h0M489.5 729.2h0M388.9 794.8h0M521.5 933.1h0M494.6 817.4h0M516.8 795.4h0M571.4 946.2h0M524.8 995.8h0M444.7 807.5h0M554.2 1040.2h0M450.9 760.5h0M395 820.1h0M528.9 925.9h0M592 930h0M585.7 943.4h0M572.8 983.6h0M535.2 804.3h0M572.1 783.1h0M483 729.3h0M590.7 946.4h0M571.1 976.2h0M433.2 817.4h0M586.4 918.2h0M491.1 779.2h0M516.8 963.5h0M568.6 989.3h0M553.2 948h0M487.7 975.5h0M490.3 755.2h0M576.5 954.7h0M493.3 775.9h0M477.2 779.3h0M391.8 871.1h0M517.3 963.9h0M326.9 848.3h0M546.4 1032.6h0M473.4 798.6h0M552 1004.8h0M508.5 787h0M395.3 836.7h0M477.3 801.7h0M250.8 920.8h0M588.3 978h0M487.1 763.7h0M576.4 952.2h0M499.5 989.9h0M541.5 965.2h0M553.8 941h0M553.8 972.2h0M383.7 863.6h0M499.9 815.1h0M559.7 964.6h0M473.8 739h0M578.6 954.7h0M523.4 808.1h0M457.4 734.9h0M441.6 939h0M601.6 912.6h0M499.2 819h0M378.2 794.1h0M555.5 922.4h0M480.5 820h0M260.4 909.9h0M489.4 754.2h0"/>
<path d="M382.6 792h0M550.7 1003.1h0M493.3 808.6h0M514.3 939.8h0M459.1 742.5h0M579.3 994.2h0M540.4 970.2h0M543 989.9h0M566.5 978.5h0M465.5 790h0M519.1 939h0M473.2 759.1h0M544.6 1039.8h0M273.6 923.9h0M453.7 834.9h0M582 960.4h0M535.2 1027h0M451.8 739.3h0M551.1 1010.8h0M518 928.9h0M566.7 998.5h0M529 961.4h0M532.2 918h0M524.6 938.8h0M368.6 806.3h0M425.8 852.8h0M565.9 962.1h0M564.2 785.5h0M563.6 771.8h0M353.6 834.8h0M431 903.5h0M588.3 1006.4h0M489.8 740h0M471.6 762.6h0M531.2 993.5h0M460.9 790.7h0M550.9 978.9h0M429 913.4h0M522 788.3h0M452.1 780.8h0M518.6 1017h0M556.4 953.3h0M348.6 868.1h0M503.7 746.7h0M483.3 806.5h0M500.2 810.9h0M590 966.7h0M545.6 927.9h0M463.8 727.5h0M465.4 726.4h0M505.2 933.4h0M410.2 924h0M509.7 984.3h0M408.8 872.9h0M486.7 967.6h0M531.9 1028h0M510.3 785.8h0M421.3 908.2h0M519.2 814.4h0M448.9 772.4h0M477.4 959.3h0M431.3 912.4h0M340.4 822.1h0M582.3 958.4h0M360.4 882.3h0M561.8 765.7h0"/>
<path d="M571.8 919.4h0M512.1 764.6h0M494.8 985.3h0M481.9 775.6h0M569.5 933.5h0M530.9 803.6h0M357 858h0M384.6 861.7h0M380.1 858.4h0M488.5 808.7h0M360.9 832h0M567.4 920.7h0M465.2 769.5h0M506.4 790h0M560.3 788.2h0M529.1 827h0M528.2 927.4h0M467.7 764.9h0M451.6 757.5h0M574.5 962.3h0M551.4 927.6h0M550.4 923.2h0M533.5 1009.1h0M522.3 824.3h0M545.8 958.9h0M393.2 878.5h0M462.1 724.7h0M388.7 799.6h0M436.5 807.9h0M541.4 1055.1h0M581.7 933.6h0M529.9 919.1h0M349.8 834.5h0M552.2 1040.4h0M356.6 859h0M571.2 987.8h0M571.8 988.2h0M494.8 833.3h0M535.2 1048.4h0M494.9 824h0M541 935.5h0M564.3 1008.1h0M575.4 930.2h0M531.4 946.2h0M550.3 1035.6h0M474.9 831.3h0M577.8 926.6h0M486.6 806.1h0M479.7 785.2h0M509.3 803.7h0M519.1 811.3h0M513.3 966.4h0M543.3 1012.5h0M442 811h0M520.6 807.6h0M395.6 854.9h0M536.8 1054.4h0M554.7 986.2h0M502.1 928.3h0M397.9 875.6h0M476.8 826.6h0M429.7 854.3h0M471.6 972.4h0M533.4 1004.6h0M532.7 975.6h0M425 910.1h0"/>
<path d="M500.2 822.9h0M496.2 926.9h0M445.6 966.2h0M528.3 804.1h0M559.8 1035.4h0M461.4 801.8h0M254.8 918.2h0M410.7 861.6h0M549.8 1032.5h0M527.9 789.7h0M454 954.5h0M496.9 1004.1h0M530 968.2h0M501.3 786.1h0M548.1 1014.4h0M477.5 977.8h0M461.7 743.4h0M531.4 1035.6h0M478.9 802.9h0M556.7 951.9h0M347.1 876.8h0M530.9 1006.8h0M515.2 1002.6h0M572.1 973.6h0M409.5 903.1h0M492 761.6h0M500.5 1000.7h0M520.6 1029.7h0M492.9 952.6h0M589.6 793h0M549.3 951.2h0M368.9 816.6h0M438.2 841h0M557.2 997h0M557.6 1030.2h0M538.1 969.7h0M512.3 813.3h0M512.3 957.1h0M467.2 777h0M534.2 816.4h0M478.4 965.6h0M597.4 987.6h0M472.9 727.8h0M529.7 961.7h0M498 782.5h0M540.5 1057h0M446.1 825.1h0M572.2 1003.6h0M266.3 918h0M447.9 815.5h0M495.4 935.1h0M596 790h0M553.6 1012.3h0M488.9 991.3h0M515.6 981.5h0M470.8 767.8h0M403.9 861.1h0M557.7 1016.8h0M506.7 922.9h0M576.2 932.6h0M502.8 941.4h0M505.4 975.3h0M455.6 822.5h0M502 1009h0M476 830.3h0M530.6 952.8h0"/>
<path d="M396.6 878h0M276.7 897.6h0M513.6 935.6h0M364.8 829.5h0M485.1 945.1h0M475 750.6h0M537 1038.7h0M480.6 832.9h0M520.8 988.3h0M566.7 921.2h0M545.5 928.3h0M582.8 973.7h0M358.8 815.6h0M490.2 830.4h0M437.6 886.9h0M456.6 946h0M600.7 1008h0M401.8 922.5h0M438.9 804.9h0M468.7 802.1h0M444.7 816.4h0M507.2 821.7h0M512.1 798h0M494.4 776.1h0M492.9 966.5h0M451.2 797.9h0M478.7 798.2h0M534.1 978.8h0M552.9 957.2h0M494 820.5h0M530.8 1041.4h0M503.7 978.8h0M482.8 788.9h0M485.4 770.6h0M537 812.8h0M481.4 957.9h0M567.7 990.1h0M505.5 974.9h0M453.2 794.5h0M409.5 888.4h0M416.9 871.6h0M576.5 969.5h0M574.8 975.3h0M527.4 967h0M421.9 806.5h0M511 811.1h0M437.4 789h0M368 800.9h0M500 779.5h0M512.6 945.4h0M543.7 984.3h0M566.6 787.4h0M488.3 760.2h0M574.9 1000.8h0M393.7 889.7h0M522.2 944.5h0M523.7 914.4h0M552.2 1028.1h0M543.3 989.5h0M439.7 788.5h0M351.6 802.4h0M457.6 767.1h0M536.4 1033.1h0M497.5 815.4h0M512 772.4h0M465.1 971.8h0"/>
<path d="M445.5 957.7h0M479.6 963.4h0M524.9 966.2h0M571.9 951.4h0M518.6 962.8h0M412.1 911.8h0M516.9 979.3h0M386.3 862.2h0M559.8 917.9h0M553.4 965.1h0M531.3 935.4h0M248.5 935h0M255.6 937.4h0M496.1 972.4h0M446.5 788.5h0M342.1 890.9h0M565.9 939.3h0M343.7 856.2h0M570.4 1001.3h0M532.4 936.8h0M505.6 924.4h0M543.3 1035.7h0M542.7 1005.2h0M479.7 813h0M283.6 902h0M478.4 794.9h0M493.8 997.3h0M428.8 810.6h0M455.3 971.1h0M548.5 999.7h0M502.2 1014.9h0M482.9 973.3h0M505.4 977.9h0M416.8 818.9h0M462 806h0M507.6 999.2h0M547.9 957.7h0M570 1020.1h0M529.8 1042.6h0M489.4 929h0M417.7 957.4h0M497 825.9h0M424.9 966.6h0M554.4 938.7h0M584.5 1015.8h0M504 1008.4h0M500.8 823h0M456.4 800.7h0M546.2 929.6h0M530.5 965.7h0M568.3 952.3h0M494 820.6h0M566.2 927.4h0M430 938.9h0M573.6 1020.8h0M387.8 827.6h0M411.4 948.3h0M395.9 905.3h0M383.2 792.4h0M507.7 981.3h0M502 745.2h0M512.3 966.6h0M429 856.3h0M487.8 821.7h0M532.7 812.5h0M574.1 954.9h0"/>
<path d="M341.9 796.7h0M396.8 841.2h0M558.6 962h0M484.8 804.9h0M511.2 807.5h0M475.2 781.6h0M589.2 1001.7h0M525.1 1000.7h0M535.9 974.3h0M453.1 801.8h0M561.1 1027.2h0M497.6 748.3h0M595.5 763h0M554.8 1001h0M499.9 968.3h0M383.5 830.4h0M420.9 852.4h0M560.6 934.5h0M386.2 847.6h0M534.6 920.6h0M368.5 816.6h0M586.5 774h0M541.3 1032.3h0M495.5 756.3h0M264.3 913.2h0M543.8 914.5h0M573.5 949.7h0M365.4 809.2h0M565.2 1014.8h0M504.7 816.5h0M525.2 790.3h0M529.4 946.3h0M392.2 859h0M475.8 788.6h0M359.3 814h0M340.7 843.3h0M537.8 917h0M492.7 961h0M266.3 915.9h0M440.7 769.5h0M247.3 936.8h0M489.9 786.1h0M497.1 800.4h0M435.8 889h0M566.5 979.5h0M508.6 1006.5h0M386.1 828.2h0M518.4 1001.6h0M562.8 937.8h0M527.1 921.1h0M562.4 772.3h0M592.5 752.5h0M524.3 956.1h0M542.3 923.4h0M507.8 1024.2h0M515.4 1008.6h0M528.1 803.1h0M451.8 749.9h0M239.1 935.8h0M513.3 802.7h0M575.5 767.5h0M524.5 796.2h0M482.2 958.1h0M535 997.5h0M538.1 932.9h0M471.7 803.9h0"/>
<path d="M606.5 923.7h0M453.7 830.4h0M527.3 1024.4h0M480.2 979.8h0M540.3 987.5h0M541.2 976.7h0M558.5 940.1h0M540.3 1026.1h0M581.3 916.6h0M439.4 947.8h0M521.6 961h0M560.3 984.6h0M430.2 831.1h0M426.1 840.3h0M516.2 947.2h0M351.8 803.4h0M581.9 989.1h0M593.3 1036.1h0M537.7 1006.9h0M577.3 785.6h0M533.6 810.9h0M563.6 959.8h0M431.3 899.2h0M391 863.2h0M375.4 804h0M433.4 839.5h0M566.9 944.7h0M533 801.5h0M479.6 964.3h0M501.6 963.4h0M566.2 1020h0M563.1 943.8h0M508.8 800.6h0M495.2 831.2h0M419.2 812.9h0M453.4 759.4h0M466.6 796h0M566.8 947.2h0M479.5 775.4h0M594.9 998.2h0M481.8 798.6h0M523.2 930.9h0M583.6 976.9h0M259.5 919.7h0M581.7 977.3h0M479.4 749.1h0M432.2 795.7h0M592.7 765.1h0M548 925.3h0M517.4 1010.4h0M562.2 1005.6h0M548.6 914.8h0M558.8 1040.3h0M585.6 944.8h0M507.1 781.2h0M587.8 981.6h0M556.2 921.7h0M589.8 765h0M408.8 893.4h0M435.5 915.3h0M540.7 964.8h0M577.9 982.1h0M571.5 924.7h0M475.4 798.7h0M498.4 780.4h0M496.8 952.8h0"/>
<path d="M525.1 1017.3h0M499.2 741.4h0M528.3 807h0M568.9 946.5h0M586.1 923.7h0M471.8 800.1h0M386 813.2h0M533.9 816.5h0M481 744.9h0M386.6 878.4h0M450 799.4h0M563.9 1001.4h0M362.6 816.7h0M510.6 1020.6h0M499 959.1h0M347.2 846.3h0M460.5 825.6h0M525.5 1018.1h0M525.3 976.2h0M541.5 1046.7h0M580.9 765h0M529.8 954h0M464.4 819.4h0M551.6 927.1h0M545.8 1015.1h0M438.9 824.7h0M542.7 920.5h0M452 758.4h0M570.7 938.7h0M261.4 912.1h0M518.6 823.6h0M501 768.2h0M451.2 805.2h0M506.7 1004.4h0M568.4 969.4h0M544.7 933.2h0M515.6 769.6h0M566.9 980.8h0M492.1 938.6h0M423.5 817h0M565.4 992.5h0M510.2 786.5h0M564.7 770.3h0M517.2 795.1h0M469.8 828h0M340.1 843.2h0M585.9 980.6h0M452.1 829.6h0M430.4 908.3h0M424.6 835.9h0M506 972.4h0M563.4 1000.8h0M531.6 799.5h0M499.1 813.6h0M542.5 1030.8h0M441.4 795.6h0M462.4 746.2h0M520.2 998h0M497.4 787.2h0M250.4 921.6h0M446 794.5h0M573.4 1026.3h0M560.5 1027.8h0M546.1 1019.8h0M539.6 976.3h0M598.5 773.6h0"/>
<path d="M373.4 814.7h0M492.1 767.6h0M498.4 983h0M336.7 824.2h0M547.9 1034.4h0M486.6 725h0M586.7 983.3h0M480.8 754.6h0M564.9 1043.1h0M405.6 890h0M373.3 848.4h0M547.3 1005.3h0M534.7 944.4h0M570.9 965.7h0M509.6 936.4h0M522.8 933.9h0M434.6 802.3h0M546 1030h0M445 958.1h0M480.5 771.1h0M438.1 928.7h0M382.5 802.9h0M576.2 991.3h0M585 976h0M401.6 846.9h0M469.9 789.9h0M560.7 1026.6h0M474.5 809.8h0M580.9 952.9h0M524.9 1023.9h0M347.5 897.9h0M511.6 953.1h0M449.8 829.5h0M418.3 811.2h0M567.5 774.1h0M366.4 854.6h0M474.8 754.2h0M410.9 856.4h0M497.9 948.9h0M579.4 952h0M515.3 809.8h0M459.5 765.8h0M615.7 927.6h0M430.1 947.5h0M558.4 1025.3h0M458.7 758.7h0M541.4 1028.5h0M534.6 944.4h0M570.5 928h0M478.6 763.5h0M518.9 798.2h0M505.1 781.6h0M460.6 740.7h0M527.5 816.1h0M530.8 996h0M562.3 1031.9h0M513 789.6h0M482.9 766.5h0M550 1023.5h0M482.8 768.7h0M525.9 1020.1h0M500.7 942.5h0M522.3 949.3h0M504.1 776.1h0M585.8 767.9h0M364.6 880.4h0"/>
<path d="M477.2 751.4h0M506.2 759.9h0M443.5 785.3h0M579.8 769.2h0M393.8 828.6h0M409.1 886.5h0M524.3 974.8h0M458.3 769.4h0M496.5 970.6h0M446.7 827.4h0M392.4 830.7h0M573.9 972.9h0M358.4 815.1h0M576 920.2h0M518.2 778.1h0M505.4 781.7h0M528.2 940.3h0M504.1 990.1h0M539.1 1038.9h0M509.8 821.9h0M377.9 822.2h0M451.3 951.6h0M532.5 967h0M388.1 791.1h0M492.8 954.7h0M345.6 829.9h0M488.7 830.6h0M451.6 754.2h0M567.3 794.4h0M508.6 994.9h0M436.8 826.6h0M500.7 933.9h0M575.9 780.5h0M565.9 948.3h0M576.8 991.5h0M418.7 894.4h0M518.8 789.3h0M484.2 948.3h0M538.9 1004.4h0M493.4 799.9h0M445.1 802.3h0M460.6 791.8h0M530.3 1012.9h0M442.6 806.1h0M457.9 831.8h0M279.3 906.3h0M487.4 825.1h0M519.9 792.4h0M436.2 808.1h0M478.5 950.5h0M576.4 967.1h0M462.1 798.4h0M518.3 1027.7h0M542.2 1025.4h0M388 901.1h0M556.1 1020.1h0M546.1 998.2h0M568.1 1004.7h0M550.5 994.5h0M544 981.9h0M484.5 775.5h0M592.8 936.9h0M406.6 845.1h0M589.8 932.7h0M506.4 952h0"/>
<path d="M492.3 752.2h0M489.4 789.4h0M542.1 1051.3h0M423.3 827.3h0M456.3 741.5h0M445.3 769.9h0M456.8 744h0M462.3 764.1h0M411.3 872.1h0M512.4 999.8h0M545.4 1032.2h0M535.8 1014.9h0M416.4 814.8h0M470.5 792.7h0M494.9 791.1h0M506.3 822.5h0M527.5 979.6h0M533.7 942.1h0M555.1 943h0M527.7 919.2h0M491.5 826.6h0M258.1 928.5h0M372.1 792.1h0M535.7 977.4h0M351.1 868.4h0M423.3 963.4h0M447 820.6h0M555 941.4h0M416.1 945.3h0M509.8 1014.2h0M534.5 1025.7h0M577.3 967.2h0M558.3 964.8h0M484 780.8h0M555.3 1028.4h0M385.5 838.5h0M455.6 787.3h0M564.2 768.5h0M377.1 885.2h0M508.5 756.5h0M548.2 984.1h0M599 939.4h0M495.3 740.5h0M494.8 925.3h0M487.1 940.1h0M484.1 753.6h0M518.4 799.7h0M508.6 1009h0M504.7 1005.8h0M499.2 934.7h0M550.6 1036.8h0M545.4 1011.7h0M604.2 997.7h0M500.2 934.6h0M523.2 964.7h0M567 955.5h0M483 951.6h0M429.3 841.1h0M501.4 820h0M458.9 817.4h0M450.5 802.9h0M267.6 911.2h0M469.3 740.9h0M485.2 985.4h0M507.9 926.7h0"/>
<path d="M350.5 799.3h0M452 822.8h0M536.2 999.5h0M504.7 775.9h0M501 984h0M516.7 996.4h0M530.3 812h0M538.5 950.5h0M583.9 779.5h0M516.2 960.1h0M560.1 1023.4h0M511.7 765.8h0M431.6 843.9h0M392.4 842h0M530.4 807.1h0M520.9 923.7h0M235.3 935.4h0M427.2 815.7h0M433.7 796.6h0M499.4 988.5h0M488.6 967.2h0M485.1 965.9h0M358.7 855.2h0M532.2 1020.8h0M552.6 950.6h0M415.1 813.6h0M449.9 938.7h0M530.9 941.9h0M497.9 765.4h0M559.4 1001h0M506.6 773.2h0M538.7 1021.8h0M444.3 928.8h0M525.7 804h0M528.3 975.3h0M476.2 791.8h0M378.5 833.2h0M566.3 970.6h0M505.4 990h0M407.7 822.6h0M556.2 1013.8h0M479.7 956.3h0M546.2 925.1h0M413.1 808.4h0M452 733.1h0M569.2 941.5h0M262.6 926.1h0M344.6 852h0M443.7 914.6h0M596.7 989.8h0M324.9 861.7h0M496.2 751.7h0M560.4 959.3h0M552.6 924.9h0M426 834.5h0M534.8 930.3h0M421.4 844.9h0M496 767.6h0M461.9 822.9h0M378.4 838.8h0M412.6 897.1h0M533.7 1017.3h0M489 952h0M454.8 757.1h0M534.1 999.5h0"/>
<path d="M526 813.9h0M501.1 979.4h0M394.4 849.5h0M457.3 731.1h0M473.8 824.4h0M400 855.7h0M561.9 971.1h0M426.1 933.1h0M545 946.9h0M426.4 842.3h0M424.2 824.8h0M395.9 810.4h0M547.2 932.9h0M328.6 859.9h0M519.3 956.9h0M325.4 821.4h0M523.5 995.9h0M430.4 887.2h0M560.4 773.9h0M494.4 822.3h0M532.9 1018.6h0M429.1 805.2h0M505.9 1005.6h0M554.4 1036.3h0M505.3 923.9h0M511.4 991.7h0M509.5 814.1h0M550.1 959.1h0M520.3 994.8h0M559.9 963.9h0M420 928.1h0M533.4 916.5h0M443.4 964.8h0M458.9 759.2h0M428 841.4h0M513.4 761.1h0M486.3 738.4h0M463.8 741.3h0M528.4 923.8h0M378 831.1h0M520.8 950h0M363.2 805h0M491.2 824.6h0M545 1019.8h0M595 771h0M351 855.5h0M371 811.8h0M468.8 733.2h0M590.2 923.7h0M507.4 994h0M581.9 919h0M488.6 752.8h0M520 941.4h0M428.7 935.9h0M449.5 753.9h0M254.8 924.7h0M483.9 972.6h0M582 984.1h0M362 837.5h0M549.3 1038.4h0M323.7 836.5h0M462.1 728h0M561.9 946.5h0M485.1 789.1h0M402.7 858.4h0"/>
<path d="M387.5 807.3h0M494.9 800.9h0M557.5 992.1h0M494.6 954h0M549 1018.4h0M556.3 981.8h0M419.3 824.1h0M218.8 915.5h0M381.5 844.2h0M441.8 800.6h0M530.6 955.5h0M510.6 1018.8h0M510.3 1007.5h0M435.9 890.8h0M543.3 1028.8h0M453.8 833h0M525.4 954.3h0M585.4 965.9h0M563.6 979.9h0M515.7 809h0M371.3 818.2h0M447.8 772.8h0M510.4 796.7h0M499.7 756.6h0M563.2 958.1h0M505.2 919.9h0M541.9 1028.9h0M352.7 813.3h0M578.2 952.4h0M513.5 1007.3h0M492.2 832.1h0M537.9 931.6h0M541.2 1043.5h0M561.5 1006.6h0M507.5 802.2h0M522.8 997.7h0M253.7 918h0M514.9 803h0M477.6 720.9h0M575.5 937h0M376.4 880.9h0M444.9 774.8h0M520.7 992.1h0M570 957.4h0M562.8 943.5h0M513.3 996.5h0M552.2 1009.8h0M343.2 812.3h0M586.2 789.2h0M440 816.1h0M251.2 932.6h0M387.4 858.3h0M508.7 797.7h0M590.1 786.1h0M539 1005.4h0M551.5 945.3h0M524.5 939h0M569.9 1006.6h0M418.3 819.3h0M563 978.9h0M565.4 961.6h0M452.3 812.7h0M556 1032.3h0M317.6 814.4h0M508.2 1014.3h0"/>
<path d="M428.2 894.7h0M512.9 976h0M443.8 815.1h0M480.8 951.4h0M582.6 976.6h0M499 978.7h0M459.8 738.4h0M475.8 780.7h0M550.8 1038.5h0M408 841.8h0M494.2 775.1h0M487.9 820.3h0M575.4 1000.3h0M559.9 953.5h0M512 968.9h0M624.1 930.8h0M506.9 1004.7h0M351.9 798.4h0M497.3 1010.8h0M522.1 940.7h0M518.1 916.9h0M549.7 1038.2h0M525.4 782.2h0M533.6 969.8h0M537.7 1017.7h0M469.2 831.3h0M524.6 820.6h0M410.6 930h0M523.1 958.4h0M454.5 758.5h0M493.2 750h0M547.9 975.2h0M494.4 775.4h0M262.5 923.9h0M540.6 939.8h0M479.3 744.1h0M384.8 880.3h0M491.2 770.9h0M455.9 791.3h0M426.6 907.8h0M463.5 753.9h0M533.8 986.1h0M492.3 996.4h0M373.8 849.5h0M501.5 825.2h0M559.8 783.9h0M524.1 1011.5h0M417.4 834h0M525.8 922.3h0M369.1 818.3h0M484.1 936.2h0M436.5 806.6h0M472.2 786.7h0M376 850.7h0M520.6 984.6h0M570.9 922.9h0M461 729.8h0M465.1 816h0M472 740.7h0M564.2 979.9h0M576.2 1013.3h0M570.2 794.3h0M492.3 753.1h0M383.9 799.9h0M322.9 828.2h0"/>
<path d="M487.3 961.8h0M452.7 736.5h0M438.2 971.1h0M544.4 993.8h0M450.7 731.8h0M474.6 762.7h0M421.6 843.6h0M414.2 890.4h0M557.1 1075.3h0M253.8 924.9h0M443.5 774.2h0M576 773.8h0M539.4 930.8h0M513.1 937h0M507.9 821.5h0M503.1 769.3h0M524.5 996.5h0M591.4 788.4h0M543 997.8h0M253.2 916h0M579.8 792.2h0M548.2 952.8h0M468.4 779.4h0M498.9 957.1h0M507.7 817.2h0M611.1 920.8h0M453.1 745.6h0M535.8 1010.7h0M420.3 872.5h0M512.9 1030.2h0M277.5 910.4h0M469.8 779.7h0M540.2 1008h0M547.6 957.1h0M487.1 958.7h0M601.4 946.4h0M559.7 961h0M492.4 973.6h0M406.9 878.1h0M595.3 929.1h0M363.1 871.6h0M384.6 803.9h0M403.7 837h0M465 747.6h0M577.9 788.3h0M456.3 814.1h0M513 777.9h0M496.4 957.3h0M453.4 745.6h0M440 794.5h0M426.6 832.6h0M494.6 785.5h0M537.8 1029.6h0M433.4 825.2h0M391.4 795.6h0M243 921.9h0M499.8 954.1h0M355.4 808.6h0M440.1 796.8h0M541.4 956.9h0M384 885.5h0M464.8 732.9h0M472.9 817.4h0M561 763.3h0M500.9 797h0"/>
<path d="M587.4 959.4h0M526.1 821.8h0M508.8 763.8h0M482.9 746.7h0M354.7 809.5h0M400.4 845.3h0M512.4 1024.1h0M530.8 974.1h0M463.9 775.6h0M417.9 821.2h0M494.1 964.8h0M572.6 954h0M551.8 954h0M507.9 807.9h0M517.4 971.1h0M514.9 1012.6h0M574.2 1000.4h0M437.1 819.3h0M488.8 740.6h0M424.6 807.2h0M486.3 801.8h0M506.4 789.2h0M595.4 943.2h0M580.3 921.2h0M562.6 970.2h0M479 832.4h0M497.7 827.5h0M531.8 1034.2h0M466.1 796.5h0M450.6 786.9h0M507.4 822.3h0M564.3 977.5h0M514.5 783.5h0M560.5 1027.5h0M606.2 939.1h0M545 923.4h0M515.6 1017.9h0M477.8 750.3h0M508 961.4h0M511.1 1010.6h0M452 785.2h0M485.5 974.9h0M441.4 903.2h0M519.2 947h0M531.6 984.4h0M398.8 844.2h0M492.7 730.4h0M527.6 997h0M486.1 976.3h0M581 780.1h0M423.1 895.4h0M549.2 1016.2h0M459.6 790.4h0M477.3 738h0M474.4 802.3h0M457.4 815h0M485.3 833.3h0M492.5 989.3h0M575.9 930.7h0M518.8 952.7h0M413.8 884.9h0M553.1 970h0M351.8 867.1h0M381.4 893.7h0M508.8 985.8h0"/>
<path d="M525.8 793.2h0M519.3 951.7h0M508 946.7h0M384 847.9h0M473.5 969.5h0M480.7 950.1h0M582.2 986h0M458 954.7h0M459.7 741.4h0M539 986.1h0M507 965.9h0M542.1 1027.1h0M432.9 876.7h0M454.3 728.3h0M329.2 839.7h0M388.3 852.8h0M345.9 845.4h0M384.3 890.4h0M520 804.8h0M471.2 821.3h0M574.9 946.3h0M559.8 1048.4h0M481.2 747h0M455.6 771h0M476 957.7h0M531.7 1039.8h0M424.8 792.4h0M504.8 998.3h0M504 820.9h0M521 1017.9h0M468.6 729h0M477.7 742.6h0M569.8 788.9h0M536.1 918.9h0M523.8 1010.1h0M397.9 852.6h0M388.7 802.5h0M576.8 952h0M499.4 781.6h0M477.3 806.4h0M478.9 772.4h0M479 740.1h0M460.7 737.2h0M373.2 800.2h0M459.4 816.2h0M560.1 933h0M454.8 837.1h0M363.7 891.1h0M490.6 754.4h0M508.3 922.3h0M503 950.8h0M434.5 921.8h0M546.8 1036.5h0M525.2 818.1h0M544.3 983.5h0M252 920.4h0M387.2 783.2h0M544.6 923.1h0M471.6 802h0M485.8 806.1h0M493.2 821.8h0M386.7 780.5h0M562.8 917.6h0M516.6 790h0M509.4 758.4h0"/>
<path d="M533.4 917.6h0M561.9 962.1h0M492.8 746.4h0M540.1 1003.3h0M347.2 839.1h0M511.5 1002.7h0M500.3 780.8h0M529.2 931.5h0M566.4 1041.5h0M564.1 770.5h0M320.2 813.8h0M517.3 776h0M572.4 956.9h0M545.6 955.2h0M534.4 964.5h0M509.9 810.4h0M491.6 991.4h0M505.2 1026.5h0M450.5 735.8h0M539.7 932.6h0M448.1 785.8h0M518 1017.8h0M432.2 932.6h0M511.7 796h0M504.6 1020.8h0M540.3 1041.9h0M261.6 921.3h0M486.8 764.5h0M443.4 967.3h0M341.9 846.7h0M446.2 828.3h0M541.4 955.4h0M431 914.8h0M440.7 953.8h0M513.8 756.6h0M515.1 784.6h0M573.1 985.9h0M557.2 1014.2h0M474.3 973.3h0M578.7 972.7h0M459.2 803.8h0M592.3 938.8h0M506.3 944.5h0M505.9 941.7h0M470.2 825.5h0M454 723.5h0M546 990.4h0M485.2 986.9h0M567 938.2h0M581.8 973.7h0M386.5 869.8h0M520.6 966.6h0M544 937.3h0M511.5 771.6h0M420.8 806.1h0M505.7 782.3h0M535.6 941.9h0M557.3 958.9h0M418.2 898.3h0M375 849.1h0M432.4 818.3h0M507.6 992h0M570.9 996.2h0M557.9 1010.3h0M568.5 764.8h0"/>
<path d="M381.5 856.9h0M509.4 1024.4h0M471.1 760.3h0M478.5 787.3h0M515.5 1017.3h0M445.9 814.7h0M544.7 1021.9h0M522.6 794.2h0M512.8 803.9h0M468.9 969.1h0M519.9 790h0M455.5 967.8h0M343.8 810.7h0M491.4 775.3h0M343.1 814.4h0M505.8 948h0M526.8 1028.9h0M549.5 1031.1h0M470.7 813.7h0M537.4 955.5h0M491.3 728.8h0M447.2 973.6h0M509.2 922.9h0M455.5 805h0M549.9 928.2h0M564.6 942.2h0M465.6 742.3h0M482.3 748.6h0M499.9 961.3h0M463.8 762.3h0M517.6 935.5h0M495.9 989.8h0M459.7 817.6h0M506.9 1010.6h0M560.5 1008.2h0M456.7 823.6h0M520.7 964.5h0M497.7 805h0M348.4 832h0M433.6 835.7h0M410.4 866.3h0M510.2 953.6h0M585.7 966.1h0M488.6 729.3h0M234.8 944.3h0M588.1 947h0M459.1 815h0M452.5 789.4h0M396.5 848.1h0M549.3 994.5h0M471.7 786.2h0M495.3 972.3h0M490.3 928.7h0M532.7 1001.4h0M341.4 818.5h0M519 827.4h0M537.4 1040.9h0M443.6 978.5h0M343.4 823.5h0M576.3 1018h0M572.5 1003.7h0M547.7 1028.6h0M440.8 773.4h0M592.9 773.1h0M490.1 791.3h0"/>
<path d="M577.2 991h0M477.6 783.3h0M390.9 783.4h0M544.4 1023.1h0M563.3 963.7h0M574.1 1025h0M532.3 997.9h0M465.5 799.9h0M459.2 777.3h0M429.9 833.6h0M496 781.7h0M468.9 782h0M488.1 727.3h0M504.6 746.5h0M487 813.7h0M440.4 802h0M502.5 953.3h0M512.4 962.8h0M455.1 805.2h0M529.1 953.3h0M502.3 926.8h0M489.4 805.1h0M465.2 741.5h0M581.8 927.9h0M554.1 921.5h0M403.5 827.7h0M400.1 832.7h0M475.2 974.3h0M562.4 945.5h0M505.5 999.7h0M574 999.3h0M465.5 758.1h0M434.5 830.8h0M447.3 837h0M566.5 936.9h0M570.3 764.3h0M437.8 955.6h0M394.9 846.9h0M420.1 868h0M541.4 1045.5h0M579.4 926.7h0M601 788h0M577.1 977.6h0M571.1 1000.2h0M504 918.8h0M445.2 808.1h0M259.2 924.6h0M481.3 760.7h0M401.6 862.8h0M258.8 924.3h0M445.4 783.5h0M511.8 945h0M472.6 734.6h0M454.6 761.3h0M579.1 772.6h0M538.8 1024.2h0M513.5 764.5h0M542 1041.3h0M541.4 1032.5h0M538.4 938.1h0M424.8 822.4h0M510.3 931.2h0M451.1 757.3h0M545.9 1034.6h0M463 801.5h0"/>
<path d="M468.2 756.5h0M574.5 772.1h0M401.2 833.1h0M562.1 983.7h0M384.4 822.6h0M482.4 934.1h0M425.6 955.6h0M428.3 886.2h0M552 938.6h0M507.5 784.6h0M513.8 979.6h0M423 834.6h0M507.9 928.6h0M540.9 1040.1h0M401.4 868.9h0M517.1 809.5h0M561.1 950.8h0M540.4 1001.9h0M500 984.9h0M426.4 790.7h0M381.6 794.6h0M494.6 817.5h0M490.2 735.8h0M549.5 954.7h0M523.7 821.6h0M421.3 892.4h0M502.5 936.4h0M441.4 821.7h0M619.5 932h0M457.3 750.1h0M495.6 988.4h0M585.1 951.9h0M509.9 1021.2h0M566.1 944.6h0M530.2 982.8h0M542.7 954.2h0M518.2 1037.2h0M549.1 1042.5h0M507.9 777.2h0M441.7 812.8h0M519.2 820.4h0M352.2 899.6h0M498.4 967h0M438 833.9h0M478.2 745.4h0M478.8 768.8h0M420.2 851.5h0M572.9 763.1h0M545.8 1020.1h0M513.6 991.5h0M523.3 953h0M477.4 965.2h0M537.4 1013.5h0M486.7 976.7h0M479.5 939.4h0M457.5 810.1h0M487.7 767.2h0M452.6 835.7h0M464.8 828.4h0M544.3 1035.1h0M541.5 954h0M501.5 921.1h0M554.4 921.1h0M577.2 947.3h0M494 730.1h0"/>
<path d="M549.1 994h0M508.6 780.5h0M492.8 820h0M533.5 800.8h0M403.3 890.5h0M564.8 1051.7h0M391.4 873.4h0M520.5 989.8h0M615.1 929.3h0M570.9 975.4h0M555.4 964.3h0M525 822.5h0M540.4 931.7h0M447.3 785.1h0M545.7 958.9h0M539.1 985.8h0M422.3 822.4h0M498.2 802.2h0M566 963.9h0M526.6 1003.2h0M534.7 1027.4h0M528.3 792.9h0M526.3 1029.6h0M522 984.1h0M347.7 825.2h0M462.4 736.3h0M571 1014.5h0M560.3 1004.2h0M429.3 825.5h0M274.5 910.2h0M534.8 1013.2h0M456.2 744.1h0M610.9 931.5h0M370.4 816.1h0M498.6 1006.3h0M478 762.1h0M405.1 878.5h0M340.4 813.7h0M372.6 858.4h0M486.2 941.1h0M455 754.9h0M260.4 923.7h0M438 970.3h0M375.2 787.2h0M432.8 980.8h0M477.9 731.8h0M509.7 1011.2h0M492.8 997.8h0M560.5 966.7h0M519.5 809.7h0M574.6 1007.1h0M534.5 1024.2h0M433.3 833.3h0M578.7 790.8h0M408.6 931.6h0M454.8 796.7h0M534.1 956.7h0M503.5 1001.2h0M495.4 1004.7h0M545.5 1012.5h0M529.3 1021.1h0M451.8 771.6h0M429.6 921.2h0M442.2 825.9h0M544.1 963.7h0"/>
<path d="M525.2 811.2h0M342.3 830.5h0M507.4 932.2h0M504.6 942.2h0M501 978.5h0M563.9 1019.9h0M571.5 773.2h0M540.9 930.7h0M409.1 878.6h0M495.9 966.7h0M567.6 945.8h0M509.3 1023.7h0M391.5 809h0M460.7 827.7h0M523.4 941.5h0M477.6 950.5h0M430.4 911.7h0M495.6 775.2h0M370.7 862.7h0M539.1 938.5h0M316.1 831h0M461.4 744h0M501.1 952.8h0M489.9 804.2h0M575.6 920.8h0M384 866.6h0M417.9 889.7h0M523.7 1010.2h0M509.5 785.6h0M333.2 821.1h0M439.1 837h0M475.6 794.8h0M444.1 834.6h0M415.8 848.1h0M481.7 968.6h0M560.2 968.4h0M515.2 966.4h0M524.9 1033.2h0M540.4 916.9h0M491.5 750.2h0M427.9 859h0M341.4 865.9h0M449.7 823.8h0M513 962.3h0M399.1 829.5h0M498.4 990.1h0M463.6 739.6h0M457 979.1h0M469.8 822.9h0M503 770.9h0M433.7 801.7h0M259.8 908.1h0M322.7 854.9h0M493.3 833.6h0M457.9 965.2h0M522.3 810.1h0M571.9 787.4h0M493.2 759h0M614 933.4h0M474.9 822.4h0M522.9 778.4h0M433 805.6h0M482.2 770.3h0M419.4 915h0M472.6 968.2h0"/>
<path d="M561.1 952.7h0M446.3 803.7h0M533.7 808.4h0M561.3 1001.6h0M504.5 780.7h0M592.3 767.8h0M488.1 961.5h0M403.5 838.3h0M557 919.8h0M512.5 800h0M454.4 791.7h0M451.2 805.7h0M476.9 750.1h0M418.3 945.8h0M475.2 972.2h0M471.1 754.5h0M496.6 813h0M522.1 952.9h0M476.5 974.9h0M580.1 788.2h0M502.7 824.4h0M529.1 929h0M526.1 957.8h0M575.7 967.4h0M344.6 830.9h0M495.1 759.7h0M543.8 1027.2h0M364.3 864.7h0M478.5 977.9h0M529.3 925.7h0M525.8 1038.6h0M534.9 944.5h0M481.4 811.9h0M471.5 976.3h0M549.7 1030.6h0M544.2 1041.9h0M462.6 972.1h0M451.5 747.7h0M518.9 803.7h0M521.5 969.4h0M392.8 874.4h0M476.6 773.8h0M479.5 752.5h0M487 761.4h0M491.2 771.1h0M467.9 754.7h0M491.3 758.3h0M410.4 863h0M452.2 761.5h0M384.5 857.1h0M539.5 998h0M585.3 1018.5h0M551.7 967.1h0M239.3 941.1h0M560.7 1054.5h0M391.7 845.3h0M540.3 1005.8h0M579.3 956.1h0M254.4 925.1h0M427.9 819.5h0M505.5 777h0M574.2 788.5h0M506.2 824.3h0M324.3 851.4h0M513.6 831.1h0"/>
<path d="M400.6 873.4h0M525 938.9h0M400.7 848.2h0M270.7 912.8h0M414 915.7h0M547.7 1066h0M549.5 967.7h0M494.5 819.1h0M536.5 1029.4h0M406.9 882.3h0M429.6 822h0M489.7 965.7h0M508 799.5h0M529.9 942.3h0M538.2 975.4h0M576 933.7h0M529 805.6h0M503.5 790.2h0M424.7 827.2h0M528.4 1000.5h0M535 998.2h0M551.1 966.1h0M502.4 826.1h0M530.2 919.9h0M516.5 964.6h0M510.1 762.3h0M431.7 977.1h0M454.9 745.3h0M532.6 815.2h0M567 916.7h0M490.4 790.3h0M562.6 980.3h0M583.9 778.2h0M547.6 958.1h0M272.9 903.9h0M527.1 961.9h0M583.8 778.9h0M520.4 950.1h0M452.9 774.3h0M406.6 873.7h0M558.8 979.5h0M523.1 798.4h0M486.3 793.6h0M480.1 977.4h0M257.7 919h0M512.3 777.6h0M481.6 944.1h0M574.9 983.7h0M490 959.7h0M505.4 970h0M432.3 868.2h0M478.5 958.2h0M579.6 982.9h0M462.4 829.7h0M446.9 780.6h0M521.9 999.5h0M544.7 1033.3h0M480.6 957.8h0M475.3 825.5h0M432.3 818.6h0M558.1 918.7h0M533.2 1033.3h0M481.3 797.6h0M479.7 804.3h0M343.9 816.8h0"/>
<path d="M462.3 726.3h0M558.7 952.5h0M551.7 1018.8h0M559.2 992.5h0M528.4 989.4h0M358.9 804.4h0M522.9 919.5h0M493.4 801h0M450.4 795h0M504.1 777.6h0M573.9 976.4h0M377.4 808.9h0M525.2 792.8h0M437.6 774.9h0M434.5 934h0M506.9 796.5h0M589.4 954.9h0M518.6 955.3h0M547.4 939.7h0M581.8 786.9h0M502.5 977.7h0M538.7 985.8h0M506.1 825.3h0M558.2 948.7h0M426.4 923.7h0M323.3 835.9h0M490.1 953.1h0M574.1 789.8h0M490.9 943.5h0M254.6 921.5h0M525.1 942.9h0M494 804.8h0M525.3 929.9h0M460.6 762.7h0M506.2 813.3h0M550.6 1046.7h0M591.6 929.9h0M505.8 823.8h0M479.4 970.7h0M375.8 850.4h0M510.4 1019.8h0M567.7 790.8h0M561.8 934.7h0M574.6 1069.5h0M549.3 948.8h0M591.2 931.6h0M503.7 752.9h0M596.7 773.8h0M540.9 1042.3h0M540.5 920.2h0M538.4 965h0M515.6 995.2h0M576.3 920.5h0M446.3 829.4h0M437.1 793.9h0M501.7 967.6h0M345.2 849h0M557.5 965.7h0M520.6 1000.6h0M515.9 952.7h0M488.4 784h0M437.8 894.7h0M506 1000.1h0M543.3 956.9h0M501.8 810.7h0"/>
<path d="M524.5 785.9h0M257.7 938.7h0M377.8 847.7h0M592.8 943.5h0M515.5 1027.6h0M575.2 790.5h0M443 950.6h0M389.5 865.9h0M451 805.8h0M388 846.4h0M474.7 769.3h0M579.9 983h0M537 1036.6h0M566.2 930.8h0M585.5 794.5h0M590.2 779.3h0M522.6 805.6h0M522.8 933.1h0M471.9 756.2h0M372.4 860.7h0M515.3 1020.6h0M569.5 945h0M502.8 801.6h0M349.2 862.7h0M534.7 970.5h0M379.9 854.3h0M407.4 881.5h0M583.4 995.8h0M484.3 976h0M564.5 997.9h0M425.6 890.8h0M360.2 800.1h0M480.6 973.6h0M523.4 949.9h0M437.9 833.8h0M490.2 982.1h0M351.7 822h0M529.6 989.8h0M528 814.5h0M369.2 809.1h0M586.3 951.5h0M447.4 755.3h0M538 936.5h0M547.8 1019h0M480 767.5h0M399.4 849h0M431.2 870.6h0M458.1 816.2h0M488.8 825.6h0M515.8 778.9h0M412.8 914.7h0M488.3 737.1h0M502.5 980.1h0M536.7 810.9h0M381.4 794.4h0M471.5 787.9h0M563.9 939.8h0M542.7 941.3h0M442.3 826.9h0M446 814.2h0M497.4 927h0M574.6 936.8h0M471.9 775.2h0M370.9 884.4h0M568.4 956h0"/>
<path d="M523.8 995.5h0M533 1038h0M546.6 1040.8h0M406.6 893h0M430.4 826.2h0M584.6 981.7h0M576.7 781.2h0M430.8 808.8h0M547.9 939.8h0M536.1 928.5h0M543 916.5h0M418.8 843.9h0M524.5 820.5h0M563.2 785.3h0M518.5 933.4h0M516 1020.1h0M505.6 939.9h0M522.5 1024.2h0M584 926.4h0M533.9 992.2h0M423.9 931.1h0M493.7 739.1h0M357.4 861.6h0M416.6 842.7h0M544.9 1007h0M482.4 794.8h0M562 922.8h0M500.1 944.2h0M512.6 929.5h0M466.6 760.2h0M244.2 924.7h0M518.1 947.5h0M346.9 840.9h0M443 824.3h0M490.3 745.1h0M527.6 810.5h0M514.2 982.8h0M444.5 832.4h0M451.4 813.9h0M541.8 947.8h0M494 774.7h0M460.4 742.9h0M555.3 945.6h0M429.5 840.6h0M524.4 803.6h0M491.8 749h0M397.2 850.3h0M500.3 993.1h0M562.8 762.2h0M375.3 838.5h0M433.1 806.6h0M500.4 808.4h0M508.3 776.1h0M245 932.6h0M427.9 828.9h0M449.6 805h0M373.3 825.4h0M528.6 805.8h0M473 781.1h0M521.6 946.1h0M342.2 815.2h0M565.6 783.8h0M385.2 852.9h0M565.1 770.1h0M511.2 1002.6h0"/>
<path d="M576.6 998.8h0M526.6 1027.2h0M536.2 922.5h0M485.7 956.8h0M348.2 864.3h0M479 830h0M463 808.5h0M492 948.7h0M565.8 781.7h0M505.8 821.2h0M487.6 823.5h0M525.3 809.1h0M556.1 955.1h0M511.2 975h0M489.5 825.6h0M510.7 919.1h0M575.7 1000.8h0M552.9 1030.1h0M556.3 1005.7h0M560.9 1037.1h0M518.9 818.3h0M507.8 925.3h0M375.2 840.5h0M495.5 975.4h0M498.4 955.9h0M392.1 878.7h0M338.5 813.8h0M509 1013.3h0M483.7 734.5h0M466.7 728.5h0M491.4 969.8h0M561.8 959.7h0M594.5 922.6h0M554.6 1029h0M490.8 977.8h0M463.1 802.4h0M554.2 1007h0M498.2 824.6h0M528.8 939h0M502.1 817.1h0M592.9 941.6h0M496.6 828.1h0M563.1 928.7h0M414.2 818.9h0M499.4 958.3h0M484.2 734.4h0M384.7 866h0M427.9 817.4h0M497.5 806.6h0M432.6 847.4h0M577.4 934.5h0M481.1 724.1h0M247.8 929.1h0M499.5 787.5h0M451.4 796.5h0M565 1013.4h0M270.5 908.7h0M436.2 808.4h0M503 946.8h0M594.6 975.2h0M407.2 855h0M439.8 953.6h0M506.1 932.3h0M503.9 974.8h0M558.2 1012.3h0"/>
<path d="M505.9 1007.3h0M568.7 1001.7h0M470.4 811.4h0M524.3 1003.4h0M517.5 942.8h0M451.9 747.2h0M503.1 996.9h0M570.9 1019.2h0M466 758.9h0M263.5 921.9h0M465.4 776.9h0M491.9 781.6h0M271.2 915.6h0M426.7 839.7h0M414.8 835.7h0M253.3 916.6h0M521.3 1039.3h0M461.7 794.3h0M490.7 985.4h0M538.2 1038.6h0M454.8 806.9h0M558.1 949.1h0M511.2 792.3h0M524.2 787.9h0M522.7 827.6h0M552.8 1021.3h0M498.9 759.2h0M520 1035.7h0M501.3 1011.7h0M417.8 855.9h0M544.9 1031.9h0M351.6 885.9h0M475.9 788.1h0M527.2 946.5h0M509.4 957.2h0M462.8 724.6h0M573.2 1036h0M503.4 755.3h0M580 989.9h0M399.9 931.8h0M592.2 921.7h0M525.2 979.2h0M505.1 778.6h0M528.5 927.9h0M419.5 881.3h0M575.6 786.3h0M525.3 961.7h0M266.6 919.5h0M499.1 758.4h0M380.1 865h0M497 965.2h0M533.5 949.2h0M577.2 785.2h0M510.8 941.9h0M589.7 946.5h0M373.7 834.2h0M493.3 772.7h0M565.4 1027.3h0M557.5 1008.6h0M586.3 928.4h0M380.3 900.8h0M468.8 766.4h0M383.1 814.2h0M563.9 787.1h0M500 961.8h0"/>
<path d="M518.3 1012.8h0M455 748.3h0M426.3 804.2h0M266.3 925.6h0M547.7 977.5h0M569.1 780.2h0M562.6 1019.5h0M510.7 1016.9h0M496.8 947h0M465.3 751.3h0M265.3 912.6h0M239.7 933.7h0M558.1 1024.9h0M512.5 827.2h0M548.2 915.1h0M507.7 948.6h0M473.3 730.5h0M410.5 835h0M541.3 963h0M565.6 960.4h0M577.5 940.5h0M469.4 763.4h0M583.1 964.2h0M494.7 815.1h0M494 762.1h0M535.3 1028.7h0M552.4 1074.2h0M518.4 790h0M473.6 797.8h0M591.3 780.4h0M545.2 1061.3h0M481.5 807.7h0M536.7 1002.5h0M533.8 995.1h0M499.4 767.6h0M502.5 958.7h0M449.8 785.4h0M400.5 912.7h0M463.6 724.2h0M434.5 827.2h0M513.3 1004.8h0M488.2 945.2h0M580.7 782.3h0M511.1 1023.7h0M495.7 754.5h0M477.9 748.4h0M519.7 944.6h0M443.6 772.5h0M577.8 944.2h0M449.1 791.1h0M458.8 821.5h0M325.2 814.7h0M505.5 819.5h0M272.5 913.9h0M497.8 948.6h0M500.8 940.6h0M582.5 1009.6h0M496.6 821.4h0M538.1 1035.8h0M513.7 1020.1h0M582.5 964.8h0M577.6 994.8h0M618 932.7h0M517.3 996.9h0M565.9 935.4h0"/>
<path d="M220.9 919.6h0M493.1 960.5h0M573.7 989.9h0M375.8 856.9h0M542.1 1025.9h0M415 844.4h0M450.9 795.5h0M487.8 959.8h0M522.6 988.2h0M463.8 732.6h0M538.3 915.2h0M478.7 936.1h0M472.1 728.7h0M556.3 929.2h0M580.2 983.9h0M417.9 903h0M532.8 980.6h0M475.2 777.2h0M546.3 1023.2h0M512.6 926.6h0M578.1 956.3h0M345.2 853.4h0M530.9 941.2h0M392.9 869.8h0M259.2 921.7h0M487.4 815.2h0M571.9 947.7h0M521.4 1009.9h0M554.7 948.4h0M525.9 797.5h0M582.7 979.4h0M384.9 845.7h0M565.8 1013.7h0M505.1 781.2h0M504.9 808h0M573.3 931.1h0M530.3 983.3h0M433 832.1h0M384.2 838.3h0M569.2 945.1h0M247.6 920.4h0M489.2 979h0M509.6 1001.5h0M561.5 1015.4h0M591.8 968.5h0M544.9 979.5h0M552.5 1014.8h0M450.5 767.8h0M505.6 982.1h0M282.9 908.3h0M457.4 824.3h0M360.2 805.2h0M478.6 975.9h0M352 879.6h0M434.9 892.5h0M529.1 803.6h0M580.7 975.7h0M605.7 938.5h0M447.9 789.4h0M499.8 948.8h0M524.4 925.1h0M508.2 1024.8h0M574.5 925.8h0M512.4 955.7h0M533.1 807.8h0"/>
<path d="M515.7 989.3h0M587.9 936.9h0M571.1 947.8h0M548 954.3h0M505.9 1016.2h0M534.8 964.2h0M554.9 978.4h0M563.5 772.2h0M547.1 1007.1h0M478.9 777h0M267.2 918.7h0M549.4 976.2h0M429.4 828.7h0M557 926.5h0M368.4 899.4h0M519.3 979.3h0M611.1 927.7h0M525.1 1002.6h0M516.6 945.6h0M263.7 922.3h0M503.6 929.8h0M567.7 994.7h0M568.6 790.7h0M473.5 773.2h0M490.2 945.6h0M476.9 777.6h0M537.5 937.1h0M310 854.3h0M510.2 827.8h0M459.7 802.2h0M548.6 927h0M377.9 821.9h0M533 822.5h0M539.6 917.6h0M531.3 803.6h0M352 804.9h0M544.3 934.4h0M585.9 771.2h0M557 1011.9h0M523.9 983.7h0M541.1 922.8h0M542.1 936.1h0M515.6 958h0M503.1 757.6h0M501.4 993.2h0M468.1 799.3h0M558.3 920.8h0M545.7 977.4h0M461.4 727.7h0M502.2 781.5h0M528.7 985h0M528.8 937h0M459.1 771h0M494 813.1h0M495.8 1003.5h0M511 799h0M498.5 1012.4h0M486 820.1h0M350.4 878.8h0M573 974.5h0M488.4 806.3h0M499.7 996.6h0M581.1 769.8h0M567.8 777.7h0M348.6 841h0"/>
<path d="M318.3 821.1h0M568.5 1012h0M485.3 763.2h0M526.2 788.5h0M536.4 1041.4h0M524.4 967.9h0M581.6 938.2h0M544.2 1002.3h0M474.9 789.5h0M499.4 977.6h0M377 805.9h0M402.1 867.9h0M508.7 821.4h0M405.3 1045.2h0M585.5 799.4h0M368.4 814.5h0M591.1 958.2h0M479.8 736.3h0M403.4 855.8h0M462.3 783.1h0M573.1 931.8h0M557.5 1034.2h0M594.7 945.3h0M505.5 777.6h0M579.9 999h0M471.6 745.6h0M492.8 970.3h0M576.6 765.8h0M500.6 964.9h0M455.8 798.5h0M451.6 735.3h0M436.9 970.3h0M547 921h0M438.1 919.7h0M511.3 766.6h0M555 1014.3h0M473.5 736.4h0M367.8 849.9h0M449.5 773.7h0M614.5 924.1h0M499.9 753.6h0M510.9 797.4h0M592.8 953.2h0M386.7 851h0M561.7 1006.6h0M246.9 932.3h0M446.9 788h0M501.4 757.4h0M417.3 881.6h0M416.8 898.2h0M469.3 753.9h0M480.9 978.1h0M326.6 817.9h0M349 845.7h0M467 807.4h0M475.4 751.1h0M577 789.5h0M455.3 746.8h0M507.7 1015.9h0M515.6 988.4h0M401.6 860.7h0M572.5 1005.2h0M575.2 971.1h0M567.3 933.4h0M546.5 1040.6h0"/>
<path d="M530.5 995.9h0M484.3 809.4h0M567.5 977.8h0M528.4 1020.8h0M451 768h0M578.8 791.1h0M394.4 843.5h0M491.2 804.8h0M592.5 941.9h0M489.7 782.8h0M558.1 941.2h0M493.2 765.2h0M581.9 927.1h0M452.4 950.7h0M491 985.1h0M534.3 945.3h0M454.7 827.3h0M556.9 999h0M491.4 828.6h0M243.4 920.7h0M490.9 933.5h0M501.7 787h0M464.5 806.1h0M454.1 783.3h0M444.7 773.6h0M570 1013.8h0M410.7 871.5h0M433.5 833.9h0M484.7 974.6h0M329.1 877.2h0M527.3 819.4h0M506.8 979.2h0M569.3 794.2h0M542.2 1032.8h0M557.4 1041.8h0M344.4 819.1h0M344.2 831.9h0M381.1 898.5h0M520 804.9h0M478.6 953.7h0M521.9 955.8h0M425.2 932.9h0M532.9 1010h0M460.2 802.6h0M494.5 810h0M562.3 772.2h0M511.6 804.2h0M574.7 984.7h0M265.1 908.5h0M555.1 1026.9h0M537.7 819.1h0M520.4 937.8h0M590 776h0M389.5 842.4h0M461.3 766.8h0M429.1 863.7h0M507.2 942.8h0M484.5 789.2h0M525 1010h0M352.8 835h0M464.1 753.5h0M263.6 913.8h0M513 770.2h0M528.4 931h0M332.9 811.8h0"/>
<path d="M503 930.7h0M393.1 806.9h0M359.1 815.5h0M374.6 845.7h0M599 955.6h0M503.5 1007.3h0M262.6 908.1h0M520.5 943.6h0M517 970.4h0M574.7 932.3h0M597.1 789.9h0M471.8 773.6h0M479.3 727.8h0M570.1 1004.2h0M504.3 805.8h0M587.7 951.8h0M503.6 1013.5h0M457.9 727.7h0M521.6 991.7h0M425.9 801h0M587.9 788.2h0M453.4 764.3h0M375.5 842.9h0M539.5 1017.7h0M526.5 946.7h0M533.5 919.4h0M592.5 783h0M470.9 971h0M453.2 746.3h0M387.8 833.1h0M411.8 864.1h0M564.5 925h0M473.4 764.8h0M432.6 911.2h0M414.2 872.8h0M593.7 948.1h0M584.5 973.9h0M369.4 894.3h0M567 958.7h0M460.9 783.3h0M588.7 797.7h0M495.5 834.3h0M510.5 976.1h0M269.3 912.5h0M588 926.4h0M462.6 775h0M528.6 1028.3h0M584.6 928.5h0M477.8 819.2h0M521.8 979.2h0M341.1 838.1h0M497.6 815.6h0M540.5 1026.4h0M511.5 952.5h0M451.1 813.4h0M426.7 826.9h0M589.4 944.7h0M502.8 824.4h0M487.7 746.4h0M553.9 1023.6h0M532.8 795.1h0M566.3 921.2h0M439.3 985.1h0M502.3 946.1h0M559.3 1005.2h0"/>
</g>
<g stroke="#54278f" stroke-opacity="0.7" stroke-width="7.0" stroke-linecap="round" fill="none">
<path d="M496.6 829.2h0M611.3 874.8h0M592.8 862.6h0M607.7 909.1h0M585 900.2h0M588.9 839.5h0M515.1 985.8h0M585.8 881.6h0M622.5 893.1h0M466 880.1h0M524.1 987.2h0M507.7 968.6h0M579.8 844.9h0M522.3 973.5h0M612 852.5h0M510.4 980.7h0M613.5 882.9h0M533.3 981.6h0M600.1 852.3h0M602 806.3h0M574.9 948.3h0M611.4 867.6h0M488.6 967h0M578.6 867h0M572.5 938.2h0M446.9 920.8h0M598.7 869.5h0M593.5 813.4h0M601 848.3h0M587.5 879.9h0M624.5 852.5h0M568.4 871.8h0M633.8 884.3h0M458.8 918.3h0M612.2 796.2h0M624.2 864.2h0M591.8 810.3h0M562.8 913.8h0M519.4 999.1h0"/>
<path d="M513.3 974.4h0M502.3 870.9h0M618.4 816.1h0M576.2 851.2h0M628 873.9h0M611.6 853.5h0M571.3 910.3h0M449.5 921.2h0M617.7 868.6h0M580.8 882.8h0M583.7 893.8h0M609.9 816.1h0M572.3 936.4h0M615.9 854.9h0M624 883.4h0M573.3 838.8h0M606.3 885h0M545.6 817.9h0M576.4 813.4h0M587.3 886.6h0M508.4 751.2h0M594.1 811.5h0M555.9 790.9h0M601.7 810.5h0M617.9 869.3h0M530.5 868.3h0M498.8 961.5h0M539.8 879.2h0M519.1 974.9h0M618.3 864.3h0M483.9 961h0M511.6 967h0M613.6 897h0M581.1 848.2h0M593.4 814.2h0M597.6 874.4h0M563.9 862.4h0M533 791.9h0M620.1 852.8h0"/>
<path d="M534.2 988.9h0M613.9 894.8h0M601.9 853h0M609.2 872.3h0M588 842.9h0M571.6 944h0M577.7 909.7h0M639.8 897.5h0M587.5 885h0M471.8 901.1h0M580.2 877h0M526.6 973.7h0M469.7 884.6h0M614.9 901.5h0M584.1 958.1h0M606.8 884h0M530.3 979.9h0M597.4 877.4h0M603.9 867.9h0M514.1 835.1h0M539 859.7h0M496.5 916.5h0M602.6 912.5h0M455.2 914.3h0M567 944.8h0M510.1 975.4h0M468.1 935.2h0M578.4 855.4h0M509.3 996.7h0M500.9 849.6h0M516.2 966.7h0M607.6 904.9h0M547.1 903.7h0M534.7 808.5h0M594.2 848.2h0M530.4 871.6h0M579.9 897.7h0M575.6 870.6h0M482.9 865.3h0"/>
<path d="M590.5 905.1h0M572.7 887h0M518.6 791.4h0M618.6 869.4h0M568.2 945.6h0M614.3 874h0M597.8 897.9h0M636.7 891.4h0M630.2 867.7h0M539.3 790h0M526.9 874h0M608.2 807.1h0M583.1 863.3h0M628.3 877.1h0M529.4 1006.9h0M532.8 889.4h0M517.9 882.9h0M620 813.1h0M590.4 882.6h0M617 870.6h0M531.2 986.3h0M510 968.7h0M587.3 908.7h0M607.5 847h0M540.5 805.8h0M625.9 868.3h0M622.5 809.7h0M475.3 916.1h0M497.5 921.4h0M614.2 886.9h0M516.5 1002.2h0M620 814.9h0M515.3 998.3h0M525.2 971.2h0M591.2 880.1h0M573.1 918h0M578.7 947.2h0M587.2 858.8h0M525.6 966.1h0"/>
<path d="M616.4 817.5h0M591.7 875.3h0M609.1 818.8h0M610.7 854.6h0M592.8 859.3h0M561.2 826.6h0M591.3 885.7h0M599.1 892.6h0M607.8 857.5h0M511.5 971.8h0M635 881.1h0M609 818.4h0M595.9 850.1h0M606.5 814.6h0M580.6 842.1h0M568.8 791.6h0M630.9 908.7h0M506 979.9h0M624.5 874.7h0M632.3 872.9h0M605.5 855.6h0M604.5 897.5h0M570 936.6h0M568.4 921.8h0M504 961.8h0M553.9 823.5h0M525.9 762.2h0M526.5 828.2h0M599.7 799.3h0M584.7 868.5h0M629.2 857.3h0M606.6 807.2h0M525.3 776.8h0M589.1 898.1h0M498.6 904.5h0M616.9 819.4h0M623.3 859.9h0M636.6 884h0M523.3 965.6h0"/>
<path d="M606 802.6h0M522.5 874.9h0M635.3 895.8h0M590.4 840.1h0M570.7 807.6h0M548.5 843.1h0M596.4 856.3h0M508.3 1002.5h0M526.8 846.1h0M576.7 855.4h0M589.8 842.2h0M546.1 868.6h0M536.4 986.4h0M595.6 861.1h0M526.9 998.2h0M613.6 866.7h0M620.2 864.9h0M600.1 807.1h0M536.6 992.9h0M461 926.9h0M582 869.7h0M580.4 956.1h0M604.3 872.3h0M528.6 1012.9h0M575.3 843h0M619.1 816.2h0M622.5 882.7h0M505.3 909.7h0M508 993.5h0M552.6 802h0M593 865.4h0M623.5 808.9h0M490.7 961h0M532.4 813.7h0M613.9 810.8h0M536.7 873.3h0M570.6 931h0M505 955.6h0M535.1 985h0"/>
<path d="M522.8 1010h0M607.7 866.5h0M603.6 901h0M566.4 794h0M521.4 756.7h0M581.5 843h0M612.2 900.3h0M621.5 862.8h0M584.7 849.7h0M565.6 926.8h0M566.7 827.5h0M464.6 845.4h0M522 970.6h0M565.2 916.2h0M500 855.6h0M523.2 982.6h0M494.3 957.2h0M525.8 1017.6h0M621.1 858.8h0M521.8 764.3h0M626.5 809.8h0M550.1 861h0M572.3 822.9h0M575.9 810.6h0M593.9 902.3h0M622.9 874.1h0M527.1 962.7h0M621.6 858.2h0M538.2 976.3h0M537.5 794.3h0M614.2 872.9h0M569.3 860.2h0M527.5 1006h0M504.5 900.3h0M610.3 892.2h0M636.7 894.8h0M619.3 869.9h0M630.9 893.2h0M453.6 953.4h0"/>
<path d="M623.5 876.8h0M473.3 887h0M578.6 882.4h0M537.5 987.3h0M613 859.8h0M492.4 918.5h0M520.8 752.9h0M622.5 870.4h0M610.8 819.4h0M505.9 973.2h0M601.7 860.7h0M615.4 900.2h0M592.6 887.1h0M484.9 844.2h0M468.9 916.2h0M587.9 845.6h0M516.1 730.8h0M587.4 863.7h0M494.9 846.7h0M540 874.1h0M521.7 757.8h0M624 810.8h0M536.3 796.7h0M539.2 869.2h0M576.9 952.2h0M589.3 890.7h0M615.7 816.2h0M573.5 886h0M558 805h0M630.6 897.6h0M590.7 890h0M573.9 828.3h0M582.9 866.2h0M624.7 873.5h0M621.1 926.8h0M540.3 837.4h0M554.1 849.3h0M529.6 776.8h0M580 887.5h0"/>
<path d="M494.4 964.1h0M537 807.7h0M523.8 971.8h0M628.9 871.5h0M623.3 896.2h0M519.1 795.5h0M503.7 963.5h0M543.9 752.6h0M627.7 875.1h0M565.9 939.7h0M591.6 810.8h0M569.6 848.5h0M537.2 838.3h0M575.5 859h0M589 877.2h0M587.4 836.4h0M578.4 811h0M588.9 836.7h0M620.1 860.4h0M604.4 875.2h0M492.6 963.9h0M623.3 901.5h0M600.3 862.2h0M448.1 871.1h0M605.9 860.7h0M583.9 899h0M594.2 882.8h0M615.1 884.8h0M534.2 1006.9h0M491.7 876.5h0M571.7 949h0M579.3 838h0M636.4 898.7h0M595.3 884.2h0M586.9 835.9h0M503.8 785.1h0M593.3 903.3h0M452.3 922.5h0M539.9 790.1h0"/>
<path d="M531.6 992.9h0M574.7 857.7h0M581.5 878.9h0M603.2 853.9h0M604.2 846.8h0M569.2 867.6h0M586.4 900.4h0M618.8 899.4h0M491.7 969.6h0M602.8 808.5h0M584 957.4h0M502.4 846.7h0M506.6 840.1h0M618.7 801.7h0M588.1 871.3h0M613.1 883.4h0M529.4 962.8h0M563.9 914.6h0M600 812.3h0M534.3 984h0M465.6 873.1h0M613.3 866.5h0M510.8 788.2h0M598.5 862.7h0M609.4 814.2h0M581.9 961.1h0M436.3 920.4h0M589.6 856.4h0M584 901.9h0M512.7 972.9h0M587.6 885.8h0M597.6 853.4h0M617 905.2h0M525.1 866.1h0M515.6 995h0M492.6 968.2h0M585.7 880.4h0M612.1 896.9h0M580.2 841.2h0"/>
<path d="M573.3 938.4h0M485 964.4h0M626.1 868.2h0M602.3 857.6h0M527.1 825.5h0M618.7 884.8h0M625.9 850.6h0M601.6 904.5h0M610.7 824h0M608.2 805.6h0M623.6 876h0M507.7 973.8h0M545.3 771.8h0M607 904.6h0M564.1 926.6h0M551.4 795.5h0M623.9 861.4h0M526.8 758.9h0M550.3 909.5h0M517.8 890h0M625.6 866.2h0M567.3 929.5h0M606.1 897.8h0M519.6 1018.3h0M612.1 804h0M626.1 865h0M595.8 851.1h0M601 853.3h0M596.2 907.4h0M514.6 853.4h0M568.1 926.1h0M621.7 803.5h0M562.4 908.4h0M547.7 777.8h0M580.4 920.6h0M603.5 897.1h0M537.7 809.6h0M622 802.3h0M530.4 779.4h0"/>
<path d="M627.2 881.9h0M584.8 874.9h0M549.1 808.9h0M561.5 908.9h0M446.1 917.8h0M499.2 836.9h0M526.4 799.1h0M590.8 866.4h0M528.6 972h0M602.2 852.4h0M501.6 730.3h0M561.3 909.1h0M574.6 942.7h0M509.6 830.1h0M566 912.3h0M530.2 989.4h0M595 811.3h0M595.4 888h0M619.2 820.5h0M625.4 906h0M561.5 910.3h0M609.9 853.8h0M564.5 824.1h0M517.5 724.5h0M532.7 868.2h0M609.1 805.2h0M553.9 862h0M527.4 987.1h0M518.3 774.6h0M575.7 863h0M568.5 852.3h0M631.7 903.8h0M517.8 1014.8h0M562.7 883.1h0M575.4 954.8h0M599.4 839.9h0M597.2 836.4h0M528.3 769.9h0M613 902h0"/>
<path d="M521.8 775.8h0M608.6 889.1h0M607.5 798.6h0M594.6 818h0M542 803.9h0M561.7 781h0M598.8 879.4h0M605.4 850.1h0M597.1 877h0M607.8 843.1h0M526.5 964.7h0M564.8 911.4h0M531.4 963h0M478 963.8h0M608.4 816.1h0M617.7 900.8h0M632.8 912.6h0M601.4 903.8h0M499.9 838.1h0M583.1 960.6h0M523 971.5h0M575.5 874.2h0M598.6 885.6h0M556.6 792.6h0M460.7 959.6h0M549.1 797.4h0M558.2 823.8h0M573 950.7h0M595.5 895.7h0M601.3 881.7h0M600.4 813.3h0M568.4 927.9h0M603.7 858.9h0M592.2 815.5h0M625.8 822.2h0M612.2 884.7h0M531.1 1001.7h0M586 906.6h0M613.1 817.9h0"/>
<path d="M565.2 930.4h0M461.1 926h0M451.1 912.4h0M591.2 876.7h0M613.9 806.9h0M509 801.9h0M640.7 892h0M503.4 918.3h0M631.9 903.9h0M529.7 784.4h0M614.5 900.4h0M591.3 893h0M570.2 936.7h0M577.5 953h0M512.1 968.9h0M522.1 829.1h0M505 980.8h0M583.3 888.1h0M632.9 895.9h0M529.9 851.2h0M606.9 817.5h0M489 941.6h0M612.6 878h0M564.3 911.3h0M620.5 822.8h0M452.5 916.9h0M575.7 949.1h0M622.2 885.7h0M595.6 834.5h0M498.8 735.6h0M544.8 881h0M585.2 880.2h0M576.4 814.5h0M592.6 837.2h0M577.3 841.9h0M616 806.8h0M620.4 853.9h0M536.3 773.2h0M534.7 746.7h0"/>
<path d="M608.9 860.5h0M532.2 889.8h0M560.7 890.3h0M537 999.5h0M510.9 960.1h0M597.9 854.8h0M608 907.5h0M597.2 882.6h0M617.8 899.8h0M614.4 855.6h0M530.7 888h0M522.9 844.8h0M566.4 931.2h0M586.6 873h0M540.3 822.2h0M529.7 795.5h0M585 846.6h0M510.1 846.9h0M553.6 876h0M586.6 959.4h0M479.8 902.9h0M606.9 893.2h0M511.2 1000.6h0M606.4 823.4h0M608.9 902.9h0M542.7 813h0M578.9 954.1h0M596.2 845.7h0M579.8 851.6h0M632.9 881.9h0M491.4 917.1h0M561.1 907.6h0M622.3 822h0M589.6 837.2h0M612.7 864.2h0M589.4 877.2h0M589 845.3h0M627.4 875.6h0M513.3 1002.6h0"/>
<path d="M595.6 888.8h0M605.4 861.9h0M502.9 812.3h0M578.8 856.8h0M494 954.1h0M561.1 838.2h0M589.3 883.5h0M585.6 877.4h0M626 901.7h0M527.4 811.7h0M455.9 897.7h0M597.5 851.5h0M533.8 782.1h0M599.9 889.9h0M595.5 861.1h0M514.1 999.6h0M560.6 901.9h0M604.4 872.6h0M594.3 840.8h0M550.6 809.4h0M525.4 878h0M614 905.2h0M541 895.9h0M567.3 831.3h0M529.1 966.3h0M489.1 957.3h0M491.6 872.9h0M609.6 883.1h0M570.4 939h0M581.7 842.5h0M601.3 880.8h0M598.5 886.8h0M511 991.1h0M616.5 898.1h0M641.7 892.5h0M561.5 910h0M510 814h0M570.1 860.8h0M578.6 802.4h0"/>
<path d="M588.1 839.7h0M583.9 877h0M494.3 962.6h0M619.3 816.2h0M593.7 811h0M589.7 856.1h0M615.1 889.8h0M528 786.7h0M510 780.5h0M594.1 852.2h0M626.7 862.2h0M561.7 919.3h0M603.5 883.6h0M517.8 963.6h0M553.7 813.7h0M566.1 887.8h0M520.2 735.3h0M597.2 863.7h0M640.3 899.3h0M583.5 955.6h0M527.4 993.3h0M544.4 838.8h0M521 823.7h0M608 850.2h0M571.1 865.8h0M542.2 833.1h0M532.3 962.8h0M546.7 821.3h0M618.6 805.6h0M596.8 868.4h0M624.7 880.7h0M513.6 963.6h0M522.2 758.7h0M516.4 955.5h0M439.1 890h0M586.1 884.5h0M585.1 867.4h0M607.3 845.8h0M584.5 865.6h0"/>
<path d="M586.1 873.5h0M602.1 852.9h0M573.8 858.5h0M515.4 958.8h0M556.1 879h0M527.8 748.5h0M581.2 893.7h0M542.3 819.5h0M523 988.9h0M513.8 962.7h0M583.5 847.7h0M582.9 843.6h0M576.1 941h0M640.6 885.3h0M440.6 885.2h0M621.1 812.7h0M596.7 863.6h0M517.3 768.2h0M531.1 851.6h0M526.2 792.1h0M528.8 756.6h0M584.2 844h0M506 985.6h0M531.8 1001.2h0M611.4 820.7h0M531 970.3h0M589.7 869.2h0M544.3 753.5h0M628.4 886.8h0M517 842.4h0M621.4 879.8h0M597.1 831.5h0M576 922.8h0M577.8 921.6h0M573.4 799.1h0M500.6 860.1h0M613.4 863.6h0M563.4 907.5h0M618.6 858.2h0"/>
<path d="M571 936.2h0M480.8 862.6h0M584.1 959h0M620.5 890.1h0M506.2 979.6h0M610.9 818.7h0M606.6 915h0M518.1 962.1h0M523.3 843.2h0M519 784.1h0M631.5 881.6h0M611.8 867.2h0M587.4 853.7h0M599.5 863.9h0M522.5 955.1h0M536.6 747.6h0M576.8 864.4h0M585.1 890h0M528.8 960.1h0M622 812h0M604.3 879.4h0M516.2 986.2h0M613.3 800.3h0M552.8 794.8h0M511.3 733.3h0M508.7 746h0M601.1 855.8h0M516.9 848h0M603 858.8h0M618.6 816.7h0M634.5 895h0M575.2 884h0M512.7 976.3h0M622 870.4h0M608.4 804.9h0M543.2 780.1h0M511.9 991.4h0M538.8 991.5h0M580 847.1h0"/>
<path d="M535.1 797.3h0M575.3 946.7h0M536.5 993h0M594.4 805.8h0M597.2 885.8h0M506 811.2h0M624.9 896.8h0M615.9 859.5h0M547.1 820.4h0M613.3 827.3h0M625.9 816h0M578.4 824.5h0M462 853.6h0M627.7 864.7h0M596.3 804.7h0M506.5 835.5h0M613.7 854.5h0M467.1 952.7h0M583.8 895h0M536.5 765.5h0M498.7 732.7h0M529.4 899.7h0M494 971.5h0M580.2 838.4h0M460.8 958.5h0M507 962.8h0M448.4 917.2h0M505 772.9h0M600.4 904.8h0M562.7 935.9h0M491.6 972.7h0M595.4 900.7h0M532 1006.6h0M564.4 912.2h0M554.9 803h0M624.9 890.6h0M609.1 861.7h0M510.4 775.4h0M513.2 973.3h0"/>
<path d="M623.6 812.9h0M541.7 775.6h0M476.6 879.5h0M606.4 851.9h0M571.7 858.5h0M527.6 966.4h0M574.4 919.4h0M529.1 976.5h0M532.9 966.1h0M567.3 927.4h0M562.1 916.4h0M620.3 865.3h0M579.4 847.6h0M527.2 774.8h0M605.8 874.1h0M455.2 939.7h0M620.6 817.7h0M574.7 797.6h0M561.4 819h0M511.4 846.7h0M576 853.2h0M556.3 834.6h0M513.8 986.3h0M542.9 873.2h0M598.4 800.2h0M549.9 778.1h0M583 860.4h0M565.8 939.5h0M581.3 957.3h0M511.8 1001.2h0M544 813.5h0M628.5 803.1h0M577.1 849.6h0M615.1 851.8h0M449.1 904.8h0M536.7 865.2h0M588.7 904.7h0M563.7 810.2h0M511.7 832.6h0"/>
<path d="M512.8 740.4h0M482.1 896.2h0M563.8 836.4h0M581.5 872h0M520 764.8h0M556.8 832h0M563.7 850.2h0M442.6 902.9h0M529.9 999.5h0M612 881.7h0M564.1 923.7h0M617.2 810.6h0M534.2 974.7h0M601 900.8h0M601.1 856.1h0M508.9 989.9h0M633 811.9h0M466.9 865.7h0M476.7 971.6h0M451.4 878.7h0M617.5 863.7h0M601.1 812.7h0M594.4 876.9h0M558 805.8h0M560.9 909.7h0M591.8 810.8h0M610.6 862.5h0M627.5 870h0M571.6 798.1h0M510.3 970.9h0M614.7 798.5h0M524.8 986.4h0M542.2 787.7h0M577.8 895h0M617.2 823.7h0M507.4 819.8h0M608.8 850.8h0M596.7 857.2h0M498.4 961.9h0"/>
<path d="M564.3 919.2h0M483.5 962.2h0M603.3 882.9h0M447 924.1h0M526 827.9h0M617 803.5h0M618.5 895.1h0M600.1 817.3h0M600 806.8h0M599.7 811.9h0M592.5 884.2h0M455.2 916.6h0M593.8 908h0M596.1 813.3h0M532 900.3h0M586.9 889.4h0M557.3 852h0M609.3 870.4h0M562.6 910.5h0M627.7 899.9h0M624.9 892.3h0M616.4 811.8h0M599.4 902.5h0M597.1 816h0M565.6 908.8h0M575.1 945.3h0M617.1 851.9h0M575.7 865.7h0M501.4 807.2h0M546.2 801.7h0M581.2 842.5h0M529.7 961.6h0M527.9 1005.8h0M583.9 848.5h0M575.1 821.6h0M444.3 891h0M554.5 815.2h0M523.9 1005.9h0M454.2 914.7h0"/>
<path d="M568.6 813.8h0M594.4 884.2h0M526.9 835.8h0M588.7 855.1h0M606.8 854.4h0M531.7 975.2h0M592.9 859.2h0M592.6 851h0M503.6 977.4h0M583.1 959.8h0M610.2 852.7h0M611.9 868.8h0M518.3 830.2h0M588.2 858.3h0M622.1 866.7h0M596.3 855.4h0M616.6 817.6h0M526.4 993.5h0M522.2 798.1h0M617 815.6h0M524.9 991.7h0M549.8 802.3h0M627 865.5h0M583.7 891h0M612.9 900.4h0M564.6 915.9h0M587.8 877.5h0M502.9 842.9h0M600.8 810.3h0M581.2 853.9h0M518.6 983.9h0M595.6 859.2h0M622.7 806.4h0M638.8 891.5h0M598.2 907.1h0M536.5 785.6h0M616.6 860.3h0M518.9 976.5h0M557.9 901.1h0"/>
<path d="M549.5 777.8h0M501.2 736h0M630.7 884.4h0M598 822.7h0M514.3 975h0M506.1 735.8h0M578.4 852h0M507.7 989.9h0M572 935.8h0M593 882h0M630.3 893.4h0M515 1007.9h0M580.8 951.2h0M442.6 945h0M634 810.4h0M485.4 966.1h0M440.2 936h0M604.5 893.2h0M611.2 805.4h0M498.5 970h0M606.9 894.1h0M626.8 882.1h0M581.2 887.2h0M591.5 876.7h0M579.4 854h0M576.3 868.4h0M566.2 794.3h0M595.1 899.3h0M633.9 895.8h0M605.4 807.5h0M576.2 880h0M596.1 886.4h0M584.8 856.3h0M535.8 778.8h0M529 764.1h0M585.1 842h0M530.4 1013.6h0M611 881.6h0M600.7 905.9h0"/>
<path d="M520.6 1006.2h0M597.5 899.9h0M576.5 851.3h0M530.6 979.1h0M592.4 852.5h0M591.2 889.4h0M501.1 968.2h0M545.7 769h0M560.6 910h0M592.1 868.3h0M620.7 808.7h0M605.4 815.5h0M569.4 935.8h0M618.5 908.8h0M593.3 846.6h0M605.8 800.8h0M496.2 962.1h0M618.5 861.3h0M630.8 892.3h0M516.5 736.7h0M559.2 799h0M515 1004.9h0M447.9 891.9h0M519.5 848.9h0M636.7 896.4h0M637.3 893.6h0M527 760.8h0M629.9 894.1h0M532 963.5h0M582.2 905.7h0M575.3 926.7h0M585.8 833h0M515.9 883.4h0M519.4 908.5h0M597.4 898.2h0M601.4 879.5h0M537.1 753.5h0M519.3 753.7h0M588.1 852.6h0"/>
<path d="M441.8 917.8h0M617.2 799.9h0M444.8 915.1h0M579.3 887h0M606.1 805.5h0M603 885.4h0M570.1 935.9h0M634 922.4h0M526.7 769.8h0M631.6 904.5h0M588.2 843.6h0M609.2 879.9h0M604.8 891.9h0M624.7 879.9h0M564 913.2h0M555.1 801.4h0M559.2 790.6h0M615 898.6h0M578.1 945.3h0M621.8 891.1h0M618.9 866.4h0M538.4 757.7h0M636 897.8h0M609.8 849.2h0M475.3 839.7h0M622.6 882.1h0M573.9 840.3h0M519.4 1004.2h0M516.9 1002.4h0M513.2 750.3h0M532.5 780.4h0M630.2 900.9h0M581.4 956.3h0M630.2 878.2h0M618.1 823.1h0M517.2 990.2h0M606.1 823.9h0M632.5 891.4h0M486.3 969.1h0"/>
<path d="M564.3 881.4h0M611.7 899.1h0M597.9 803.6h0M513.9 816.4h0M604.1 820h0M619.9 895.1h0M503.7 965.7h0M562.4 913.4h0M551.4 865.4h0M590 832.4h0M570.6 936.7h0M634 913.3h0M613 847.2h0M544 828.2h0M533.9 765.9h0M491.1 925.7h0M571.9 935h0M521.9 861.2h0M595.6 839h0M608.4 899.5h0M587.3 890.1h0M536.8 789.3h0M582.9 860.5h0M536.7 979.1h0M591.9 871.2h0M615 890.4h0M592.5 846h0M588.8 873.4h0M566.5 920.4h0M623.5 814.5h0M594.9 891.2h0M537.8 799.4h0M607.6 823.8h0M564.9 922.2h0M550.3 762.2h0M520.6 778h0M511.4 755.8h0M520.4 1002.4h0M614.6 881h0"/>
<path d="M454 943.1h0M455.4 845h0M591.7 850.4h0M608.8 861.7h0M562.3 914.1h0M513.5 765.2h0M630.4 867.9h0M595.5 893.1h0M621.4 857.1h0M522.6 1017.6h0M559.8 940.7h0M549.4 794.6h0M451.2 843.7h0M593.4 900.8h0M460.4 936.4h0M621.9 908.4h0M612.3 817h0M446.3 902.5h0M533.6 990h0M601.2 876.5h0M527.1 889.1h0M540.1 813.9h0M594.8 899.4h0M507.9 969h0M525.5 744.1h0M511.7 752h0M623.5 881.7h0M613.2 860.5h0M575.9 954.7h0M629.9 886.2h0M585.1 885h0M575.8 833.9h0M580.3 867.4h0M490.7 891.5h0M566 926.7h0M523.7 1001.9h0M498.6 942.5h0M597.2 802h0M491.4 913.5h0"/>
<path d="M598.8 891.8h0M622.2 903.5h0M614.9 798.7h0M599.8 871.8h0M531.9 774.2h0M511.9 728.8h0M618.8 810.2h0M603.8 868.3h0M609.3 867.7h0M517.2 726.4h0M529.2 961.2h0M568.9 944.7h0M586.5 840.7h0M488 873.9h0M609 797.6h0M603.2 824.3h0M522.3 759.5h0M624.4 873.3h0M613.9 883.4h0M531.4 960.2h0M569.6 930.9h0M631.3 805.6h0M580.4 893.7h0M598.6 893h0M607.3 888.4h0M510.1 823.9h0M620.4 800.2h0M591.5 899h0M563 906.6h0M502 731.1h0M560.9 936.6h0M620.7 875.3h0M534.5 770.7h0M590.8 836.5h0M570.9 908.8h0M521.1 954.7h0M628.1 895.3h0M565.6 930.3h0M543.7 802h0"/>
<path d="M582.3 847.9h0M528.1 852.2h0M628.7 893.2h0M558.7 859.1h0M622.7 871.1h0M562.5 782h0M615.6 882h0M587.3 891.1h0M494.2 916.2h0M489.8 968.9h0M529.3 1008.8h0M579.4 857.4h0M538.1 838h0M574.1 859.5h0M599.7 805.3h0M536.9 846.8h0M436.7 915.5h0M595 862.4h0M504 965.2h0M498.2 850.6h0M443.3 943.6h0M448.3 957.2h0M632 887.7h0M557.9 875.6h0M598.6 927.6h0M600.5 879.2h0M583.4 840.9h0M518.4 965.7h0M570.1 926.6h0M507.4 893.6h0M486.6 833.2h0M587.7 876.9h0M597.6 858.4h0M584.3 896.4h0M606 804.8h0M596.9 878.8h0M572.3 934.3h0M611.9 814.3h0M619.5 809.1h0"/>
<path d="M537.3 752h0M573.8 916.9h0M580.1 843.8h0M614.7 865.2h0M580.2 876.2h0M616.7 811.8h0M519.1 1008.6h0M609.2 904.9h0M598.8 920.5h0M516.5 975.9h0M507.4 957h0M626.2 874.8h0M558 821.3h0M586.3 843.9h0M621.7 851.7h0M593.7 834.9h0M626.2 891.1h0M561.9 798h0M600.1 879h0M595.6 841h0M579.8 877.4h0M598.7 812.7h0M586.6 914.8h0M577.3 869h0M602.3 876.3h0M515.4 960.3h0M456.9 863.7h0M589.5 813.7h0M442.6 881.3h0M565.8 921h0M480.5 891.9h0M540.3 833.2h0M571.4 931.8h0M586.8 957.4h0M529.8 999.9h0M527.6 1003.9h0M566.7 912.5h0M556.2 861.8h0M477.7 928.9h0"/>
<path d="M600.3 880.1h0M606.6 806.1h0M510.8 887.7h0M514.9 995h0M607.5 902.3h0M617.2 863.6h0M570.2 931.9h0M486.9 968.7h0M623.8 809h0M521.7 973h0M591.9 904.1h0M627 874.2h0M582.7 842.4h0M576.8 947.8h0M632.8 881.2h0M615.3 872.9h0M583.2 874h0M584.9 845.2h0M524.7 865.7h0M472.3 935.5h0M611 802h0M608.3 889.8h0M592.3 900.4h0M518.9 973.2h0M595.2 872.8h0M592.4 839.3h0M611.4 821.5h0M534.3 867.5h0M591.4 884.6h0M572 934.9h0M582.1 881.3h0M608.1 862.1h0M622.7 876.7h0M513.9 973.8h0M576 863.6h0M569.4 946.5h0M438.9 890.2h0M546.3 892.4h0M517.4 1010.2h0"/>
<path d="M621.1 903.7h0M518.7 856.7h0M513.7 1001.5h0M483.3 961.4h0M615.8 803.7h0M490.9 941.3h0M588.9 903.7h0M613.5 856h0M622.6 879.7h0M631.3 903.7h0M456.7 851.9h0M626 902.1h0M572.6 950.3h0M469.6 888.4h0M577.3 884h0M557.4 811.3h0M444.8 921.3h0M597.4 903.9h0M592.1 912.5h0M615.6 884h0M532.5 991h0M593.3 869h0M591 858.2h0M603.9 849.6h0M521.3 972.6h0M515.4 993.2h0M518.7 809h0M520.7 983.7h0M522.3 1001.1h0M580.7 865.1h0M573.1 931.4h0M612.7 857.5h0M520.5 1024.1h0M530.8 827.9h0M632.7 882.2h0M499.9 905.8h0M565.9 923.7h0M606.7 813.4h0M592.7 877.9h0"/>
<path d="M631.5 869.4h0M566.3 935.5h0M504.8 966.7h0M585.4 850.2h0M616.4 890h0M577.9 868.8h0M529.3 785.3h0M635.2 896.1h0M589.2 844.2h0M583.5 884.4h0M609.1 883.8h0M533 985.7h0M499.7 860h0M596.1 805.8h0M622.7 889.4h0M619.7 876.4h0M620 862.1h0M522.1 891.9h0M541.4 777.2h0M605 857.3h0M601.9 846.7h0M563.8 924.3h0M626.4 818.9h0M605.8 885.1h0M588.9 894.6h0M640.6 893h0M590.2 895.2h0M536.2 768.2h0M593 858.3h0M624.9 804.4h0M635.7 886.3h0M616.5 888.3h0M583.5 873.1h0M484.2 970.3h0M456.3 926.7h0M630.3 869.1h0M599 808h0M623 865.2h0M490 963.4h0"/>
<path d="M553.9 782h0M626 886.1h0M574 931.9h0M594.9 874.1h0M510.2 964.3h0M545.8 794.6h0M523.8 757.9h0M616.5 890.7h0M519 991.6h0M576.3 892.2h0M594.8 902.7h0M583.3 837.4h0M440.5 912.2h0M635.7 895h0M454 909.4h0M617.1 888.8h0M600.1 902.2h0M529.1 1010.3h0M632.1 879.4h0M619.5 889.3h0M518.7 1018.5h0M560.2 808.1h0M563.1 914.5h0M579.3 884.9h0M549.4 789.1h0M582.6 874.9h0M620.5 808.4h0M448.8 853.9h0M453.7 920.9h0M621.6 813.6h0M621.7 884.2h0M620.8 849.8h0M529.2 848.5h0M625.6 886.1h0M614 816.9h0M543.9 844.8h0M625.2 894.2h0M581.4 853h0M597.3 894.3h0"/>
<path d="M552.4 834.6h0M564.2 917.3h0M617.4 881.3h0M503.5 738.2h0M608.6 904.8h0M618.8 817.3h0M509.1 739.9h0M548.6 885.1h0M612.9 800.7h0M504 863h0M616.2 906.2h0M573.5 863h0M505 822.6h0M533.3 777.1h0M465 941.9h0M620.1 878.8h0M518.4 971.5h0M601.1 877.9h0M584.4 903.1h0M620.8 889.2h0M565.6 811.3h0M621.2 858.1h0M528.9 813.5h0M522.3 792.3h0M530.7 832.9h0M561.7 814.4h0M621.5 878.4h0M593.5 810.4h0M563.9 912.4h0M594.7 857.5h0M529.2 995.9h0M578.6 916.7h0M616.6 894.7h0M506.5 768.1h0M524.2 988.9h0M637.1 886.8h0M509.1 980.8h0M620 851.5h0"/>
<path d="M459.6 914h0M600.8 878.7h0M628 863.5h0M610 893.4h0M570.9 935.4h0M575.8 829.5h0M627.8 804.9h0M596.7 801.3h0M457 917h0M526.1 766.3h0M499.8 844.1h0M587.6 849.4h0M628.9 804.1h0M597.1 870.5h0M591.3 878.9h0M613 804.9h0M440.3 871.1h0M516.1 996.2h0M452.4 918.1h0M451.4 917.9h0M592.8 852.5h0M540.5 854.8h0M601.4 861.9h0M633 889.8h0M618.4 860.7h0M531.9 782.7h0M629 817h0M525.4 988.3h0M476.9 942.2h0M519.9 988.7h0M451 918.4h0M572.5 952.5h0M539.4 763.9h0M616.1 861.4h0M505.2 894.2h0M561.5 916.2h0M493.4 958.4h0M610.2 860.7h0"/>
<path d="M593.5 862.8h0M517.3 959h0M606.3 805.6h0M456.9 918.8h0M488.2 851.9h0M486.5 927.4h0M605.2 856.8h0M518.8 849.3h0M620.1 864h0M524.9 858.5h0M612.4 900.5h0M581.6 848.1h0M528.8 733.8h0M535.8 976.1h0M564 913.6h0M567.8 908.2h0M513.8 981.1h0M519.6 974.9h0M611.5 796.8h0M615.5 858.8h0M590.9 888.4h0M627.2 892.6h0M596.2 817.4h0M558.6 803.2h0M608.2 924.9h0M618 905.3h0M629.6 876.9h0M458.3 923.4h0M571.2 947.1h0M624.3 802.3h0M564.8 915.1h0M592.8 842.7h0M622.4 918.4h0M507 872.3h0M512.9 728.8h0M628.7 879.8h0M621.9 875.5h0M580.4 845.3h0"/>
<path d="M597.6 898.8h0M459.7 924.3h0M559 785.1h0M584.8 903.1h0M517.3 874.3h0M521.4 858.6h0M584.6 954.7h0M576.2 876.8h0M573.9 932.9h0M605.8 798.7h0M595.5 804.5h0M617.8 819.2h0M528.4 984.6h0M599.2 868.9h0M453.9 912.1h0M583 875.7h0M617.6 863.8h0M514.7 788.1h0M535.2 766.5h0M605 864.9h0M536.9 811.3h0M600.1 835.1h0M576.7 885.7h0M575.7 882.5h0M557.6 805.3h0M545 852.3h0M616.8 847.9h0M580.6 875.9h0M528.6 962.4h0M514.1 820.2h0M614.4 902.4h0M595.5 875.6h0M492.6 967.6h0M585.3 865.3h0M615.1 848.7h0M568.5 928.6h0M484.9 958.3h0M455.7 917.6h0"/>
<path d="M566.9 811.7h0M523.3 976.7h0M539.4 874.6h0M523.4 988.9h0M619.5 798.1h0M553.9 829.6h0M565.9 848.7h0M515.6 982h0M530.7 994.4h0M522.5 978.9h0M486.9 957.1h0M615.7 813h0M505.3 964h0M602.3 861.2h0M625.2 809.8h0M589.7 845h0M526.5 831.1h0M518.4 964.8h0M581 880.1h0M573.5 884.9h0M578.2 841.5h0M587.2 858h0M529.5 959h0M598.6 809.8h0M592.7 862.2h0M616.8 883.1h0M605.8 806.2h0M611.3 870.2h0M609.4 798.4h0M616.7 865.4h0M516.8 984.3h0M635.3 901.8h0M509.4 973.7h0M520.6 760.4h0M628.9 904.1h0M598.7 819.7h0M518.3 756.2h0M574.7 945.2h0"/>
<path d="M637.5 903.3h0M613.7 907.5h0M609.8 875.6h0M602.9 854.1h0M526.7 968.5h0M621.1 894.6h0M596 873.1h0M621.8 890.1h0M619 893.2h0M587.4 896.9h0M623.3 821.8h0M620.6 862.5h0M607.3 854.7h0M582.7 872.9h0M535.5 974.5h0M621.4 881.8h0M576.6 873.9h0M495.8 966.6h0M612.9 823.5h0M568.2 787.8h0M563 920.7h0M607.8 892h0M608.1 853.9h0M616.3 869.8h0M508 841.9h0M619 811.1h0M444.7 882.4h0M615.8 810.4h0M556.5 794.4h0M532.7 840.1h0M621 890.2h0M570.2 924h0M598 816.2h0M528.2 1015.2h0M582.6 899.6h0M569 922.9h0M568.5 934.7h0M630.1 887.5h0"/>
<path d="M544.3 804.5h0M584.2 897.9h0M627.9 872.8h0M551.4 828.3h0M586.9 860.4h0M587.8 872.2h0M578.1 864.6h0M597 854.6h0M632.8 901.4h0M491.6 956.9h0M517.2 770.3h0M487.4 942.4h0M514.6 770.2h0M634.9 898.5h0M603 917.4h0M523.7 769.4h0M515.4 777.2h0M549.1 870.5h0M591.3 904.4h0M468.4 850.8h0M471.7 916.9h0M471.4 944.4h0M593.1 900.4h0M512.3 818.4h0M499.7 853.1h0M602.4 822.4h0M595.9 881.6h0M585.4 958.2h0M639.1 890.9h0M461.8 847.6h0M566.4 913.5h0M600.4 813.7h0M622.9 860h0M598.3 839.4h0M622.7 868.9h0M586 881.6h0M615.3 903.1h0M586.1 855.6h0"/>
<path d="M603.2 870.2h0M589.3 883.5h0M617.1 862.9h0M603.3 882.3h0M570.9 940.5h0M531.3 813.4h0M619.2 817.4h0M556.3 790.7h0M592.9 851.2h0M450.2 898.4h0M568.7 933.2h0M450.5 880.1h0M628.5 903.3h0M517.4 792.9h0M532 995.7h0M527.1 976.1h0M518.6 959.8h0M611.2 808.4h0M603.5 890h0M625.4 815.9h0M561.5 915.2h0M520.4 1001.4h0M618.3 896.4h0M625 799.9h0M583 894h0M572.6 937.4h0M521.2 997h0M621.1 866h0M600.5 850.1h0M558.4 781.8h0M522.4 987.9h0M508.3 851.2h0M613.2 855.3h0M552.5 831.2h0M613.9 858.1h0M611.4 888.2h0M540.9 795.4h0M524 776.8h0"/>
<path d="M569.1 917.4h0M447 926.5h0M457.8 851.8h0M623.2 898.5h0M602 901.1h0M578.5 888h0M620.2 804.4h0M579.8 870.6h0M578 893h0M443.5 931.4h0M575.9 865.5h0M609.8 876.3h0M609.1 898.3h0M598.6 886h0M526.7 987.1h0M606.5 901.1h0M511.2 767.1h0M638.9 894.5h0M619.3 855.9h0M620.6 873.2h0M583.7 887h0M528 749.2h0M571.5 884h0M515.3 997.2h0M536.5 905.5h0M595.8 910.2h0M517.9 973.6h0M581.8 898.6h0M599.5 805.7h0M574 948.9h0M592.6 867.7h0M508.6 783.9h0M566.4 935.1h0M548.1 848.6h0M610.2 877.2h0M584.6 837.5h0M584.8 901.1h0M575.8 956.2h0"/>
<path d="M620.3 810.7h0M588.4 886.4h0M479.7 875.7h0M581.1 867.5h0M483.7 936.7h0M454.8 922h0M562.2 927.9h0M456.8 869.3h0M630.4 890h0M586.6 848.4h0M595.7 856.1h0M526.6 847.1h0M581.5 845.8h0M598.1 871.8h0M580.6 959.1h0M465 961.6h0M610.7 850.7h0M583.5 850.1h0M532.7 974.2h0M520.3 910.9h0M575.8 911.7h0M540.3 799.3h0M613.3 815.6h0M604.4 888.2h0M523.1 986.9h0M515.6 1008.9h0M597.8 891.7h0M611 866.1h0M605.8 850.6h0M522.2 978.8h0M597.2 845.5h0M532.1 994.7h0M517.7 1007.5h0M514.5 976.1h0M498.8 965.1h0M589.5 849.5h0M564.3 851.4h0M605.9 908.8h0"/>
<path d="M522.9 756.8h0M589.9 865.8h0M536.2 984.9h0M610.9 890.6h0M627.5 801h0M596.9 811.1h0M621.7 887.5h0M513.3 997.6h0M586.2 896.7h0M526.8 999h0M578.2 960.8h0M486.5 954.6h0M584.4 897h0M562.2 911.5h0M581.5 870h0M625.9 884h0M459.8 918h0M522.8 977h0M534.1 999.2h0M438.2 878h0M563.3 920.8h0M461.8 946.8h0M517.1 830.8h0M524.3 825h0M482.9 962.7h0M619.6 824.4h0M623.1 864.8h0M509.7 836h0M563.3 917.9h0M625.4 928.6h0M579.8 861.3h0M620.7 820.9h0M616.9 803h0M563.9 915.6h0M602.5 873.2h0M545.7 802.6h0M565.7 934.9h0M524.3 998h0"/>
<path d="M528 818.2h0M612.9 810.8h0M599.1 808h0M508.3 992.4h0M517.1 789.9h0M509.5 744.1h0M592.4 809.4h0M614.5 887.6h0M627.9 818.4h0M589.7 867.9h0M597.3 843.9h0M620.5 815.9h0M608.1 806.3h0M593.5 873h0M603.7 848.7h0M577 864.6h0M627 814.9h0M566.8 925.3h0M598.1 884.4h0M617.6 850.1h0M518 775h0M454.7 922.5h0M610.3 804.9h0M615.3 804.3h0M557.6 847.9h0M577.2 857.5h0M610.3 815.1h0M565.9 926h0M547.6 798.4h0M576.7 951.1h0M607.2 871.4h0M525.8 826.5h0M573.8 868.4h0M602.3 859.6h0M581.2 953.2h0M587.5 887h0M593.8 866.9h0M444 914.5h0"/>
<path d="M504.3 974.8h0M537.3 806.1h0M547.7 755.7h0M600.9 907h0M486.6 960h0M599.6 900h0M514.5 990.7h0M569.3 915h0M517.3 967.3h0M592.4 856h0M590.3 901.3h0M566.4 931.5h0M596.2 847.9h0M531.9 812.8h0M518 833.2h0M531.1 973.8h0M595.8 890h0M576.9 946.8h0M626.9 917.6h0M597.5 809.5h0M449.5 948.5h0M517.4 753.5h0M516.8 985h0M575.1 842.7h0M593.2 882h0M521.6 817.9h0M564.1 914.7h0M451.1 926h0M595.2 873.3h0M595.6 852.1h0M603.9 809.7h0M576.7 832.6h0M579.8 852.5h0M588.2 867.7h0M616.5 812.8h0M614.2 855h0M524 909.3h0M564.6 911.5h0"/>
<path d="M549 875.4h0M582.5 868.5h0M575.3 838.9h0M578.7 881.6h0M571.9 881.3h0M607.2 902.1h0M604.3 870.4h0M506.2 991.6h0M636.6 901h0M582.9 845.6h0M522 1010h0M575.6 861.8h0M621 893.5h0M550.2 907.1h0M621.5 869.5h0M596.3 843.9h0M556.2 769.5h0M526.3 1003.2h0M627.7 875h0M592.9 877h0M589.5 898.2h0M611.8 892.5h0M531.4 774.3h0M592.8 874h0M513.9 855.3h0M455.7 915.4h0M600.4 823h0M567.1 912.1h0M623.6 812.6h0M628.9 894.2h0M600.1 808.9h0M588.4 898.1h0M531.3 984.8h0M605.5 882.6h0M436.6 918.2h0M609.9 869.3h0M616.5 902.6h0M524.1 1022h0"/>
<path d="M594.1 834.1h0M598.9 895.7h0M563.3 921.6h0M519 957.5h0M520.3 883.5h0M613 890.9h0M569.3 922.8h0M579.2 836.5h0M614.6 800.5h0M596.5 836h0M520.8 980.5h0M528.2 1002h0M558.3 844.8h0M619.8 875.7h0M595 865.7h0M631.2 872.2h0M527.9 886.5h0M529.5 754.4h0M622.2 898.1h0M615.7 880.2h0M518.8 1020.3h0M514.9 1013.9h0M582.4 841.5h0M511.8 742.9h0M572.1 944.4h0M495.9 949.7h0M528 997.8h0M532.2 854.3h0M571.2 821.1h0M598.2 863h0M533.3 993.3h0M580.6 887.4h0M611.2 853.2h0M583.9 866.9h0M593.8 867.3h0M450 873.1h0M575.5 805.8h0M536.6 840h0"/>
<path d="M631.8 877.5h0M545 806.7h0M585.9 958.9h0M587 848.4h0M614.6 904.9h0M564.1 911.9h0M575.3 881.9h0M496.3 945.2h0M492.7 841.2h0M569.4 934.5h0M492.8 889.2h0M575 860.8h0M569.7 947.3h0M601.6 816.1h0M584.7 875.4h0M513.9 988.7h0M632.9 892h0M597.3 858.2h0M565.8 943.3h0M565.8 924.8h0M482.6 886.3h0M538.1 800.2h0M519.3 794.4h0M582.1 842.8h0M497.7 969.5h0M629.7 872.8h0M517.6 970h0M622 821h0M608 892.7h0M545.4 769.1h0M579.9 852.5h0M548.9 810.3h0M516.2 845.6h0M629.2 816.9h0M614.6 872.4h0M624.7 871.8h0M575.2 871h0M513.2 992.4h0"/>
<path d="M595.7 874.5h0M623.6 815.3h0M562.1 796h0M505.1 857.4h0M514.6 955.3h0M531.7 783.4h0M596.7 904.9h0M542.8 802h0M595.5 886.7h0M509.2 972.5h0M584.8 894.4h0M579.4 877.8h0M604 883.8h0M597.7 862.3h0M544 778.3h0M595.7 868.1h0M519.9 826.1h0M512.6 775.2h0M518.6 993.7h0M583.5 847.9h0M599.9 854.3h0M490 899.8h0M601.6 884.1h0M466.7 903.4h0M495.6 968.3h0M594.3 902.1h0M521.3 834h0M592 893.9h0M623.5 814.8h0M538.8 896.2h0M624.2 804h0M598.4 860.9h0M516.1 998.4h0M626.2 892h0M571.8 932.2h0M485.8 962.7h0M527.3 988.8h0M574.4 939.9h0"/>
<path d="M522.2 904.5h0M620.6 808.2h0M522.8 1024.5h0M617.8 874.2h0M541.1 757.9h0M583.2 870.6h0M562.5 917.4h0M599.9 894.7h0M457.8 846.5h0M569.9 929.5h0M516 961.1h0M546.4 838.6h0M505.7 995.9h0M511.4 965.9h0M610.8 807.6h0M522.5 993.3h0M540.9 774.6h0M560.8 908.3h0M590.7 898.1h0M521 1012.8h0M624.7 814.7h0M575.1 952.6h0M599 844.9h0M518.9 768h0M518 802.2h0M522.3 965.3h0M570.5 824.1h0M618.7 810.1h0M605.8 863.7h0M524.7 981.4h0M619.8 807.4h0M552.1 912.3h0M567 913.6h0M507.7 770.1h0M619.9 900.2h0M598.9 808.7h0M520.2 853.3h0M534.2 867.3h0"/>
<path d="M508 853.7h0M545.6 790.5h0M606.2 849.5h0M622.4 803.6h0M502.3 731.3h0M601.4 859.6h0M536 826.8h0M578.6 952.5h0M594.6 858.7h0M578.2 845h0M503.1 960.8h0M504.3 960.7h0M576.5 892.1h0M609.3 800.5h0M603.6 866.5h0M532.5 974.3h0M615.5 804.7h0M593.2 813h0M519.7 886.3h0M447.3 916h0M624.7 882.9h0M618.1 896.5h0M594.6 855.3h0M568.9 800.3h0M558 778.8h0M567.6 895.5h0M507.3 977h0M559.4 815.4h0M618.1 883.5h0M575.8 868.6h0M484.1 899.8h0M553.7 853.9h0M536.4 977.4h0M525.1 1018.1h0M617.7 803.9h0M601.4 875.6h0M549.5 823.3h0M577.3 839.1h0"/>
<path d="M511.4 805.6h0M573.7 869.7h0M606.2 804.2h0M599 900.8h0M623.9 869h0M515.9 1005.9h0M592.9 897.6h0M536.5 864.9h0M597.2 803.7h0M588.7 858.8h0M623 877.5h0M586.2 890.2h0M590.3 873.8h0M633.2 896.6h0M588.5 844.6h0M613.1 813.3h0M499 850.3h0M626.6 859.2h0M448.1 910.2h0M448.1 851.4h0M502.7 860.7h0M599.1 861.8h0M522.5 775.9h0M502.6 936.7h0M565.4 935.1h0M447.1 921.7h0M571.2 947.1h0M539.8 854.4h0M518.9 986.9h0M513.1 960.9h0M604.7 904.1h0M527.3 985.5h0M518.1 966.4h0M587.2 861.7h0M526.3 970h0M461.3 847.8h0M526.2 994.1h0M587.1 871.6h0"/>
<path d="M458.2 851.8h0M475.9 911.5h0M628.4 868.1h0M481.3 879h0M487.7 955.7h0M619.5 897.8h0M526.3 759.7h0M579.9 841.3h0M580.5 865.2h0M583 891.1h0M634.4 897.3h0M577.3 892.2h0M576.4 951.6h0M610.5 810h0M520 997.3h0M533.9 1000.4h0M533 742.9h0M596.8 880.8h0M531.9 1008.4h0M609.3 811.8h0M571.3 863h0M526.4 1006.9h0M568.7 947.4h0M518.3 792.1h0M535.5 841.3h0M550.5 791.1h0M512.8 997.6h0M524 819.9h0M583.5 840.9h0M551 782.6h0M587.6 894.8h0M589 883.2h0M551 882.7h0M611.7 927.6h0M526.1 739.4h0M604.3 894.7h0M501.8 970.3h0M541.4 885.1h0"/>
<path d="M550.5 824.2h0M602.6 898.4h0M483.7 860h0M596.9 879.6h0M628.7 903.3h0M579 850h0M584.6 890h0M575.2 950.1h0M525.1 973.2h0M516.1 966.3h0M513.8 979.6h0M609.2 813.5h0M618.8 884.2h0M478.1 867h0M583.7 853.8h0M538.5 787.5h0M601.6 896.2h0M501.3 816.2h0M442.5 879.2h0M590.3 840h0M630.9 871.1h0M607.1 806h0M606.7 877.2h0M537.4 775.7h0M587.1 888.7h0M597.9 849.1h0M469.1 894.5h0M590.6 843.2h0M605 879.4h0M636.8 917.4h0M630.6 894h0M503 829.9h0M596.5 817.8h0M616.3 919.1h0M576.8 895.9h0M560.1 911.3h0M604.8 880h0M594.4 887.4h0"/>
<path d="M586.2 884h0M599.8 864.6h0M577.5 890.8h0M510.9 786.2h0M624.2 854.2h0M559.9 907h0M537.2 791.5h0M522.1 959.5h0M625.3 887.2h0M597.7 872.4h0M545.8 843.5h0M570 925.1h0M496.4 878.5h0M636.3 899.4h0M502.8 738.7h0M590.6 883.2h0M521.2 964.2h0M534.8 880.5h0M620.1 853.5h0M602.6 801.9h0M468.3 914.7h0M533.6 823.3h0M548.6 786.6h0M574.6 886.7h0M508.5 883.6h0M623.6 804.5h0M463.9 929.1h0M476.8 834.7h0M603.7 859.8h0M605.7 867.6h0M560.9 872.8h0M502.8 811.8h0M534.2 850.8h0M508.3 836.9h0M602.4 864.3h0M633.1 904.3h0M596.3 912.1h0M559 775.5h0"/>
<path d="M534.5 972.8h0M590.5 851.8h0M620.2 815h0M442.1 913h0M619.6 867h0M559.4 796.6h0M618.2 887.7h0M615.3 804.1h0M512.1 993.4h0M621.9 821.4h0M615.5 822.5h0M590.5 810.8h0M544.7 906.6h0M554.7 812.4h0M538.8 877h0M599.3 815.7h0M537.5 986.5h0M529 842.8h0M494.6 835.8h0M475.4 858h0M557.2 791.4h0M581.2 911.8h0M585.6 876.7h0M619.4 859.6h0M621.9 818.6h0M577.1 853.3h0M606 821.8h0M626.3 803.6h0M538.6 800h0M544.8 763.7h0M573.1 932h0M610.6 910.4h0M634.2 900h0M599.8 885.3h0M549.2 871.2h0M615.7 821.8h0M607 891.4h0M628.1 805.9h0"/>
</g>
<g stroke="#807dba" stroke-opacity="0.7" stroke-width="7.0" stroke-linecap="round" fill="none">
<path d="M290 893h0M558.3 819.6h0M482.5 702h0M297.7 801.7h0M458.9 670.4h0M492.5 826.6h0M549.5 861.1h0M499.5 784.7h0M484.6 864.8h0M278.3 803.2h0M548.3 865.9h0M464.4 895h0M509.9 728.2h0M484.5 690.5h0M573.3 824h0M296.7 834.4h0M513.7 849.3h0M506.3 811.6h0M552.9 830.3h0M476.9 940.3h0M528.2 867.1h0M285.5 877.2h0M501.8 782.7h0M391.4 875.8h0M468.9 825.3h0M547.8 899.5h0M480.3 937.9h0M568.8 862.5h0M565.3 781.1h0"/>
<path d="M452.8 850.8h0M506.3 823.1h0M427.2 903.1h0M538.5 881.7h0M510.4 873h0M522.2 827h0M461.6 872h0M572.3 899.3h0M484.6 924.9h0M501.7 857.9h0M508.3 706.9h0M470 904.8h0M434 873.7h0M456.8 716.2h0M472.4 869.2h0M455.8 850.5h0M444.8 923.3h0M547.8 882h0M464.9 852.1h0M463.7 674.3h0M436.7 916.8h0M453.5 901.1h0M525.2 884.3h0M497.3 879.3h0M480.1 673.7h0M533.6 796.8h0M416.5 859.8h0M544.7 815h0M453.5 865.5h0"/>
<path d="M486.3 912.6h0M478.2 685.7h0M445.7 852.9h0M335.5 818.8h0M474.9 962.2h0M506.6 704.9h0M566.9 876.9h0M513.2 885.7h0M352.5 860h0M519.8 866.8h0M570.5 850.2h0M342.9 859.3h0M558.6 882.8h0M556.9 865.6h0M568.4 846.7h0M446.7 939.5h0M438.6 851.6h0M539.6 819.5h0M504.9 841.7h0M525.6 730.8h0M482.8 767.1h0M451.7 901.6h0M304.6 812.4h0M508 708.8h0M490.5 957.3h0M484.1 853.5h0M434 841.9h0M454.2 728h0M423.8 864.8h0"/>
<path d="M424.4 905.2h0M455.9 697.6h0M401.9 874.3h0M427.3 886.7h0M503.4 853.2h0M569.6 904.6h0M550.7 886.4h0M467.7 753h0M495.6 893.8h0M395.4 875.1h0M570 820.4h0M445.4 898.7h0M472.6 945.3h0M427.7 865.2h0M508.9 831.8h0M482.5 906h0M525.6 784.5h0M506.4 894.1h0M522.7 899.1h0M290.5 797.8h0M436.6 847.9h0M486.8 837.2h0M506.5 854.7h0M513.1 869.6h0M428.2 855.4h0M302.9 830.3h0M420.3 888.6h0M518.8 721.6h0M485.2 885.7h0"/>
<path d="M502.3 820.2h0M432.1 857.5h0M454.4 697.1h0M574.5 902.6h0M523.6 828.2h0M511.8 864.1h0M452.7 880.5h0M455.2 696.5h0M482.7 933.2h0M478.7 840.1h0M438.8 903.5h0M557.6 849.5h0M457.7 950.9h0M562.9 796.9h0M522.6 803.6h0M471.1 845.2h0M555.2 798.8h0M557.8 810.1h0M421.3 880.9h0M555.5 844.6h0M455.2 888.6h0M276.2 846.8h0M467.8 698.8h0M491 841.1h0M388.4 847.2h0M333.3 843.4h0M291.3 813.4h0M534.2 874.9h0M314.8 850.2h0"/>
<path d="M402.8 897.5h0M491.4 856h0M389.2 858h0M526.5 908.6h0M340 855.4h0M562.6 842.2h0M444.4 913h0M534.8 893h0M301.8 824.1h0M297.1 825.8h0M504.7 899.9h0M479.9 898.2h0M525.2 866.4h0M492.2 776.3h0M463.7 923h0M538.6 842.7h0M418.8 865.5h0M524 833.8h0M456 661.5h0M552.8 811.2h0M465.5 824.8h0M472.5 929.7h0M473.9 903.9h0M342 853.1h0M304.7 817.8h0M427.9 864.6h0M464.1 878.8h0M301.3 890.9h0M521.7 867.8h0"/>
<path d="M491.4 707.6h0M528.9 727.3h0M543.2 830.5h0M452.5 921.8h0M559.6 801.8h0M474.4 704.7h0M449.9 849h0M516.2 846.6h0M339.5 857.8h0M446.4 940.3h0M536.4 812.9h0M336 851.1h0M480.1 691.5h0M560.9 862.6h0M343.9 857.2h0M394 845.9h0M470.1 868.6h0M561.9 851.7h0M426.6 894.5h0M329.3 893.9h0M505.3 836h0M463.2 883.5h0M539 869.7h0M475.2 799.5h0M459.1 674.4h0M546 907.3h0M520.5 894.7h0M335.5 843.3h0M553.9 839.2h0"/>
<path d="M432.7 891.7h0M572.7 894.2h0M565.2 820.3h0M421.9 905.1h0M456.3 679.9h0M311.4 832.9h0M526.9 862.8h0M456 938.1h0M310.6 806.8h0M292.2 833.2h0M511.6 705.9h0M436.3 861h0M421.9 858.7h0M532.8 869h0M509.3 803.8h0M482.4 953.1h0M429.8 837.6h0M413.1 871.1h0M521.2 784.3h0M458.1 738.5h0M418.9 907.5h0M526.4 872.9h0M556.7 886.5h0M531.3 728.2h0M468.9 916.3h0M486.5 826.8h0M544.5 843.9h0M308.4 838h0M487.1 714.5h0"/>
<path d="M468.3 869.3h0M328.8 885.7h0M551 816.7h0M451.7 674.9h0M516.6 877.1h0M446.3 869.6h0M325.4 820.8h0M441.1 933.7h0M436.1 895.3h0M456 847.7h0M445.4 882.8h0M560.9 885.5h0M491.6 848.8h0M329.7 814.9h0M504.7 826.6h0M528.6 856.9h0M524.9 726.9h0M548.1 843h0M513.8 843.9h0M525.3 720.6h0M464.4 698h0M479.1 904.2h0M560.9 851.9h0M327.6 861h0M476.3 854.7h0M479.1 789.3h0M303.3 840h0M570 857.2h0"/>
<path d="M510.1 823.6h0M503.7 853.9h0M404.1 848.5h0M427 911.8h0M470.7 922.5h0M469.2 847.9h0M476 699.5h0M282.6 880.4h0M307.1 813.6h0M485.3 946.1h0M539.8 803.9h0M488.7 926.5h0M542.3 902.3h0M329.9 824.9h0M452.5 661h0M472.2 845.2h0M414.9 884.8h0M290.4 814.8h0M413.6 876.3h0M548.1 842.8h0M501.8 862.6h0M279 865.5h0M284.1 808.8h0M552.9 787.2h0M474 678h0M461.8 808.1h0M309.4 881.4h0M406.9 861.4h0"/>
<path d="M542.3 875.6h0M473.4 913.9h0M462.4 759.8h0M338 835h0M471.8 937.6h0M548.7 790.6h0M424.7 719.6h0M488 886.1h0M333.2 834.9h0M506.6 883.8h0M276 893.8h0M572.8 837.6h0M332.8 824.8h0M527 807.9h0M492.9 709.4h0M503.7 894.7h0M502.5 840.7h0M470.7 972.5h0M566.3 837.5h0M480.5 688.8h0M481.4 680.8h0M525.4 815.5h0M463.4 892.3h0M449.6 940.3h0M470.7 849.7h0M485.2 913.7h0M467.2 791.9h0M346.6 878.5h0"/>
<path d="M530.5 875.5h0M545 848.2h0M457.8 936.8h0M432 885.9h0M441.1 880.6h0M464.5 948.5h0M571.9 826.1h0M412 898.9h0M565.6 900.8h0M460.8 696.3h0M545.2 889.1h0M502.9 707.3h0M521.5 865.7h0M497.2 898.2h0M494 911.8h0M464.1 886h0M547.1 791.5h0M559.7 880.7h0M526.8 888.2h0M500.2 903.4h0M544.7 817.1h0M569.5 841.8h0M303.5 829.4h0M302.5 805.9h0M433.1 862.4h0M459.3 941.6h0M517.9 893.5h0M448.7 839.4h0"/>
<path d="M507.9 814.4h0M459.5 955.8h0M438.9 918.6h0M446.7 905.9h0M460.8 666.6h0M507.5 791.4h0M276.7 853.6h0M527.1 893.8h0M469.7 927.2h0M404.4 840.5h0M554.7 789.2h0M477.8 698h0M434 887.9h0M566.1 856.1h0M388.2 842.1h0M305.4 795.2h0M462 856.1h0M473.7 699.6h0M460.7 696.9h0M317.3 826.6h0M460.2 941.6h0M280 847.5h0M491.5 883.8h0M473.1 682.7h0M533.2 896.9h0M458.2 812.4h0M529.2 839.9h0M520.6 856.5h0"/>
<path d="M563.8 773.6h0M276 892h0M422.5 906.7h0M553.9 901.4h0M440.6 873.7h0M445.4 848.9h0M519.7 844.8h0M473.3 842.1h0M279.7 826.1h0M532.3 802.9h0M347.1 844.8h0M344.4 862.2h0M508.8 856.8h0M482.5 884.8h0M401.8 846.4h0M532.8 857.1h0M516.3 816.6h0M532.2 725.6h0M494.8 712.1h0M483.5 891h0M290.5 797.1h0M424.5 719.5h0M305.8 812.1h0M552.5 850.6h0M479.5 841.9h0M429.9 896.7h0M408 884.1h0M563.9 780.6h0"/>
<path d="M558.9 853.5h0M481.6 935h0M453.9 853h0M344.9 852.2h0M459.5 673.3h0M426.9 883h0M501.8 829.2h0M555.6 817.5h0M307.7 798.9h0M464.4 918.2h0M458 959.3h0M293.1 846.3h0M492.8 910.4h0M545 857.7h0M320.5 794.6h0M463.5 935.5h0M523.6 882.1h0M433.9 911.9h0M421.2 858.8h0M469.9 696.2h0M530.4 804.6h0M537 841.8h0M556.6 839.4h0M416.9 886.7h0M280 875.4h0M317.5 816.1h0M534.7 884.2h0M497.9 913.3h0"/>
<path d="M285.9 807.5h0M518.8 858.5h0M329.8 827.9h0M535.6 817h0M449 892.2h0M346.1 829.6h0M485.9 866.6h0M523.9 815.5h0M480.3 840.8h0M549.6 830.3h0M564.1 861.4h0M530.2 802.8h0M510.6 840.8h0M468.4 912.2h0M435.9 883h0M270 891h0M463.6 671.1h0M569 882h0M524.3 894.8h0M490.5 706.7h0M415.4 881.1h0M490.8 958.8h0M309.5 888.6h0M466.1 849.8h0M341.4 847.7h0M477 879.5h0M329 829.5h0M556.1 786.6h0"/>
<path d="M502.5 709.9h0M467.3 863.5h0M521.6 867.9h0M478.6 853.9h0M562 842.6h0M492.8 835.2h0M465.3 691h0M557.3 804.3h0M540.4 878.5h0M484.8 693.9h0M495.7 829.2h0M554.5 897.8h0M444.2 925.5h0M353.7 839h0M495.2 714.2h0M489.8 856.7h0M464.2 869.3h0M457.6 683.6h0M306.2 836.3h0M484.7 967.6h0M457 869.3h0M443.5 921.4h0M298.7 800h0M547.7 868.8h0M551.2 801.7h0M457 942.3h0M565.2 899.6h0M426.6 901.9h0"/>
<path d="M462.1 937.5h0M467.9 906.7h0M473.7 894.4h0M481.2 882.6h0M552.8 893.2h0M478.5 684.1h0M294.2 875.5h0M341.6 866.9h0M297.6 836.6h0M275.5 839.9h0M464.5 865.7h0M570.1 862.1h0M328 824.8h0M291.7 875.1h0M556.1 872.8h0M458.2 687.2h0M570.9 836.7h0M487.6 933.7h0M494.9 835.8h0M280 796.3h0M554.7 860.9h0M314.7 809.4h0M325.5 876.8h0M455.2 939.5h0M462.4 942.5h0M559.4 776.4h0M447.4 809.1h0M415.8 853.5h0"/>
<path d="M473 906.1h0M421.1 874.5h0M514.3 820.4h0M285.8 791.1h0M471.2 690.4h0M505.7 844.4h0M444.1 902.8h0M471.8 824.1h0M292.8 786.5h0M515.1 824.5h0M445.6 835.8h0M485.3 830.4h0M479.1 807.9h0M505.2 852.1h0M458.3 935.1h0M535.8 830.8h0M486.3 954.6h0M562.6 883.1h0M488.6 905.8h0M481.8 825.6h0M477.5 845.5h0M282.9 873.2h0M313.4 806.9h0M433.2 844.9h0M528 901.2h0M569.5 813.6h0M466.6 945.9h0M485.8 915.8h0"/>
<path d="M469.2 838.9h0M327.2 814.5h0M546.1 861.1h0M400 854.7h0M438.4 880.2h0M520.8 857.9h0M319.7 857.7h0M455.2 666h0M298.2 834.3h0M528.4 807.1h0M501.2 808.1h0M557.1 873.6h0M458 868h0M441.9 934.8h0M444.7 936.5h0M414.3 889.2h0M526.9 891.9h0M510.6 708.2h0M448.6 952.2h0M309.5 830.4h0M511.3 858.7h0M550.8 819.9h0M300.7 840.4h0M531.2 861.2h0M520.6 858.6h0M414.8 914.1h0M294 807.3h0M448.3 897.8h0"/>
<path d="M472.4 682h0M572.9 855.9h0M518.7 888h0M497.7 858.8h0M326.8 811.4h0M565.2 906.5h0M453.7 671.5h0M274.7 858.5h0M493 852.8h0M542.7 819.5h0M299.6 782.1h0M471.1 971.5h0M425.5 877.6h0M324.6 827.1h0M567.3 846.5h0M484.9 847.2h0M279 842.7h0M492.2 847.8h0M496.1 829.3h0M471 894.5h0M546.2 861.7h0M506.2 875.6h0M448.7 849.9h0M430.9 875h0M487.3 698.4h0M460.7 883.4h0M455 890.8h0M490.6 902.2h0"/>
<path d="M492.6 715h0M484.6 748.5h0M482.6 843.8h0M418.4 883.1h0M502.4 860h0M449.3 864.3h0M393.2 863.2h0M415.7 909.6h0M397.7 876.4h0M477.8 668.4h0M414.8 871.8h0M566.2 815.9h0M452.7 828.1h0M494.4 713.9h0M475.8 700.3h0M284.5 794.8h0M467.9 944.8h0M462.9 670.6h0M476.3 967.6h0M319.6 825.1h0M537.5 893h0M526.4 867.3h0M399.2 879.7h0M550.1 816.4h0M485.9 929h0M412.3 845.2h0M558.3 864.9h0M507.6 795.4h0"/>
<path d="M460.7 752.4h0M539.1 872.6h0M559.2 796h0M561.8 873h0M300.6 898h0M461 931.1h0M471.4 686.4h0M551.2 878.5h0M520.2 845.5h0M301.7 825.9h0M532.7 872.3h0M478.6 674.1h0M471.3 840.5h0M472.9 955.1h0M480.7 859.6h0M511.4 715.3h0M542.2 818.2h0M481.5 934.5h0M497 832.9h0M442.4 857h0M442.2 857.7h0M419.7 906.4h0M299.1 788.3h0M329.1 825.5h0M533.1 726.8h0M518.7 723.4h0M309.9 822.8h0M422.2 852.3h0"/>
<path d="M467.7 814.3h0M489 703.7h0M304.3 837h0M517.6 810.3h0M484.4 856.8h0M464.2 900.7h0M428.9 852.9h0M499.3 856.2h0M450.7 842.9h0M458 665.7h0M492.6 890.8h0M452.4 690.8h0M515.5 793h0M459.6 672.7h0M563.3 902.7h0M480 682.4h0M472.3 969.7h0M510.9 835.5h0M441.5 859.9h0M422.3 882.5h0M511.2 841.8h0M572.9 844.8h0M566.1 857.7h0M487.4 706.4h0M412.3 889.8h0M495.8 851.4h0M476.9 888.4h0M551.1 883.9h0"/>
<path d="M323.9 840.2h0M446.8 855.3h0M484.4 846.6h0M474 708.6h0M545.5 836.9h0M467.1 836.4h0M493.8 830.3h0M284.5 863.8h0M542.5 819.4h0M499.5 894.9h0M545 796.8h0M308.4 804.1h0M454.3 685.8h0M548.4 826h0M533.9 809.7h0M299.5 804.9h0M483.4 926h0M570.9 872.6h0M527.9 872.2h0M434.5 882.9h0M522.1 725.2h0M457.9 839.5h0M443.3 931.6h0M561.6 902.8h0M510.6 854.3h0M461 916.9h0M575.3 895.9h0M566.3 811.4h0"/>
<path d="M435.9 876.9h0M465 851.3h0M573.2 897.7h0M485.3 856.2h0M515.5 716.2h0M335.9 878.2h0M566.9 837.1h0M481.4 914.6h0M399.3 876.7h0M565.7 854.8h0M486.7 893.8h0M561.9 801.6h0M305 793.7h0M419.4 858.7h0M528.3 722.8h0M517.3 864.6h0M500.9 721.1h0M449.4 880.4h0M279.3 863.3h0M556.2 898.6h0M558.2 802h0M523.3 840h0M468.7 959.6h0M495.5 868.9h0M462 880.4h0M461.6 866.9h0M491.2 856.8h0M567.8 879.7h0"/>
<path d="M467.2 847.5h0M562.9 830.4h0M526.9 859.9h0M424.1 870.1h0M503.9 707.6h0M291.1 814.8h0M554.1 778.5h0M549.8 864.8h0M553.5 890.7h0M490.7 898.4h0M506.1 836.9h0M333.7 851.3h0M489 951.1h0M298.6 828.3h0M494 851.3h0M421.6 893.5h0M474.5 750.4h0M423 873.8h0M498 858.6h0M527 721.5h0M520.6 716.9h0M541.8 801.3h0M544.7 801h0M492.8 901.8h0M482.2 676.8h0M538.5 833.3h0M462 924.8h0M522.9 884.6h0"/>
<path d="M563.3 850h0M543.1 896.7h0M511.7 888.9h0M497.3 864h0M465.1 902.9h0M561.1 866.5h0M278.6 778.6h0M324.6 817.5h0M453.3 682.6h0M532 797.9h0M479.1 840.3h0M283.9 824.5h0M481.1 685h0M480.7 923h0M491.1 866.9h0M301.7 824.6h0M518.7 717.2h0M503.1 708.2h0M564 824.4h0M476 879h0M496.4 718h0M517.4 722.1h0M512.3 891h0M478.5 925.4h0M485 917.9h0M540.5 868.3h0M344.9 859.5h0M523.8 881.5h0"/>
<path d="M463.5 863.7h0M568.8 815.3h0M466.5 889.1h0M550.5 807.7h0M430.1 856.4h0M571.5 820h0M543.9 830.4h0M465.5 680.1h0M448.3 832.8h0M476.7 697.4h0M416.7 871.3h0M463.4 879.3h0M565.8 905.2h0M543.9 812.2h0M533.3 893.5h0M549.9 793.1h0M449.5 858.9h0M512.3 728.4h0M546.3 887h0M496.2 836.1h0M348.2 840.3h0M504.8 721.5h0M515.8 720.6h0M447.9 848.6h0M468.5 807.6h0M411.8 861.6h0M291.7 863.9h0M490.7 944.2h0"/>
<path d="M295.2 795.4h0M475.8 693.5h0M485 966.8h0M506.4 907.5h0M454.8 892.8h0M476 856.2h0M504.9 895.5h0M438.7 931.9h0M504.1 707.1h0M559.5 831h0M475.7 907.5h0M311.8 816h0M479 965.9h0M429.1 889.6h0M565 889h0M570.2 845.1h0M547.8 883.5h0M452.2 893.1h0M449 925.9h0M472.2 918.7h0M483 702.5h0M283.7 785.6h0M456.1 834.9h0M516.5 821.6h0M301.5 860.8h0M533.1 899.8h0M551 822.7h0M305.5 831.4h0"/>
<path d="M446.7 867.9h0M445.2 915.5h0M527.9 827.3h0M298.8 804.9h0M514.1 847.6h0M457.9 912h0M304.5 814.9h0M461 951.4h0M425.8 875.7h0M503.8 889.8h0M451.3 859.2h0M568.7 841.4h0M471.3 884.2h0M418.6 877.7h0M317.5 829.7h0M433 853.2h0M544.4 813.4h0M405.7 843.8h0M507.8 871.6h0M461.9 697.8h0M444.2 870.2h0M414.2 861.6h0M463.2 963.5h0M287.6 808.3h0M473.7 962.7h0M468 920.7h0M468.3 824.9h0M478.8 905h0"/>
<path d="M514.2 897.2h0M299.9 793.5h0M481.7 800.4h0M526.6 879.3h0M532.4 874.6h0M292.2 827.9h0M325.3 835.9h0M275.6 847.8h0M457.8 929.4h0M449.2 881.6h0M333.3 817.1h0M287.9 792.6h0M440.6 829.4h0M485.8 830.9h0M486.6 701h0M449.9 843.1h0M315.4 832.4h0M483.6 736.6h0M451.7 941.4h0M446.2 870.8h0M486.4 822.4h0M462.5 874.1h0M325.6 828.5h0M486 709.3h0M508.7 851.2h0M283.4 866h0M553.2 866.2h0M528.8 908.9h0"/>
<path d="M347.3 861.9h0M403.8 902.3h0M471.1 688.6h0M537.3 793.8h0M470.6 695.1h0M479.2 675.6h0M506.4 851.9h0M469.3 681.5h0M496.7 859h0M524.9 786.4h0M523.6 836.2h0M505.7 789.4h0M482.1 934.7h0M289.3 796.3h0M524.6 859.5h0M513 783.5h0M340.7 896.9h0M436.8 847.5h0M468 925h0M527 879.8h0M466.6 970h0M529.5 859.8h0M472.3 890.4h0M462.8 802.1h0M402.7 903h0M436.2 844.2h0M486 890.1h0M304.5 799.6h0"/>
<path d="M517.3 827.9h0M527.4 818.9h0M414.1 890.2h0M468.3 924.8h0M486.2 901.1h0M502 862.7h0M483 911.6h0M484.7 681.5h0M429.2 861.8h0M458.2 696.8h0M282.3 820.8h0M536.2 793.6h0M474.9 945.2h0M557.5 880.4h0M418.4 880.8h0M420.1 858.3h0M477.3 811.9h0M472.8 957.1h0M486.7 696.6h0M474.3 852.7h0M474.1 894.1h0M435.7 866.4h0M429.2 865.2h0M473.9 946.3h0M317.9 835.6h0M519.3 837.4h0M490.4 876.2h0M484.2 857.4h0"/>
<path d="M475.7 683.4h0M565.8 891.9h0M310.3 886.8h0M533.5 896.2h0M280.4 817.5h0M460.9 846.3h0M508 709.3h0M471.9 929.7h0M483.9 854.8h0M477.9 700.6h0M563.2 882h0M483.5 692.3h0M544.9 851.6h0M460.3 691.8h0M565.9 820.7h0M506.3 889.1h0M440.7 838.5h0M561.8 806.8h0M481.7 863.1h0M445.6 934.1h0M414 883.9h0M465.9 941.1h0M448.5 872.4h0M344.8 851.4h0M450.5 870.8h0M487.3 955.6h0M478.5 704.2h0M464 861.4h0"/>
<path d="M522.1 885.6h0M527.2 835.5h0M567.9 856.8h0M520.2 728.9h0M531 805.1h0M503.9 893.5h0M512.2 728.1h0M478.5 905.8h0M564.3 908.6h0M491.6 880.5h0M350.5 850.9h0M555.9 864.3h0M533.7 728.5h0M484.4 936.9h0M480.7 877.8h0M573.4 853.9h0M542.1 795.1h0M430.4 888.2h0M545.3 901h0M499.8 864.9h0M290.9 821.5h0M500.9 827.1h0M566.3 810.7h0M460 965h0M534.2 908.7h0M495.8 859h0M462.8 940.8h0M456.7 661.9h0"/>
<path d="M349.5 862h0M458.8 909.6h0M522.5 817.7h0M492.2 707.9h0M466.4 919.4h0M499.2 821.1h0M525.8 819.5h0M477.2 935.3h0M351.3 864.4h0M469 922.9h0M545.4 845h0M547.5 846.9h0M557.2 839.9h0M449.2 938.2h0M469.1 670.2h0M399.9 842.9h0M476.1 808.6h0M300.5 759.2h0M298 770.8h0M466.6 687.2h0M455.3 954.8h0M514.1 885.9h0M350.6 852.2h0M503.3 857.8h0M282.2 858.8h0M458.1 833.9h0M456.8 961.3h0M311.9 809.7h0"/>
<path d="M482.5 964.7h0M484.9 895.4h0M467.4 931.1h0M534.4 865.9h0M479.7 964.7h0M532.8 869.9h0M496 792.9h0M563.3 885.3h0M497.6 888.9h0M329.7 817.1h0M557.6 788h0M507.2 707h0M467.2 888h0M555.1 885.9h0M531.5 796.7h0M312.8 817h0M299.3 816.3h0M528.3 811.1h0M562.2 867h0M484.7 688.4h0M288.3 853h0M465 874h0M311.1 840.1h0M486 887h0M453.3 919.6h0M405.9 847.8h0M275.4 847.6h0M456.2 843.8h0"/>
<path d="M420.5 881.4h0M532.8 892.1h0M563.1 782.6h0M437.4 868.4h0M505.4 899.3h0M489 705h0M471.5 800.1h0M473.7 966.8h0M486.1 944.9h0M388.7 860.1h0M577.7 900.5h0M450.8 946.8h0M493.1 822.1h0M532 890.2h0M456.9 949.9h0M392.7 864.6h0M525.8 874.3h0M485.2 910.7h0M314.4 824h0M511.4 808.9h0M556 815.8h0M558.6 889.5h0M537.7 857.6h0M489.2 880.7h0M534.7 859.4h0M431.7 876.7h0M480 893.9h0M464.6 921.6h0"/>
<path d="M465.4 924.4h0M484.3 926.8h0M472.4 904.7h0M340.3 850.5h0M423.6 907.7h0M494.4 720.7h0M540.6 852.6h0M504.4 707.2h0M520.8 839.9h0M340.9 840.6h0M565.9 807h0M340.3 828.9h0M493.1 844.3h0M475.7 674.8h0M485.1 680.7h0M557.2 830.7h0M490.1 832.8h0M495.4 753.1h0M440.6 928.2h0M511 844.4h0M516.7 861.6h0M334.1 825.7h0M477.1 687.3h0M435.2 832.3h0M456.9 888.8h0M536.3 878h0M503.6 870.5h0M332.7 825.1h0"/>
<path d="M452.8 932.3h0M439.3 865.6h0M296.7 783.7h0M433.6 860.2h0M432.1 863.6h0M311.5 831.3h0M524.8 806.1h0M448.4 821.3h0M506.1 820.6h0M524.3 874.9h0M529.1 836h0M523.4 727.3h0M457.8 939.5h0M537.2 864.3h0M345.6 855.3h0M501.6 861.1h0M453.8 738.7h0M542.2 809.2h0M570 898.2h0M462.3 853.5h0M411.9 896.9h0M468 915.3h0M458.5 666.8h0M465 886.6h0M551.2 800.8h0M443.5 867.1h0M460.4 735h0M441 944h0"/>
<path d="M324.1 835.1h0M470.3 694.4h0M489.7 708h0M521.3 849.4h0M444.3 913.7h0M482.3 827.1h0M421.6 863.1h0M566.3 821.5h0M490.4 847.4h0M290.4 831.3h0M472.5 724.1h0M463 879.1h0M565.9 813.8h0M310.9 831.6h0M496.1 717.5h0M413.6 869.4h0M565 861h0M556.6 834.8h0M486.2 858.6h0M321.9 819.6h0M392.9 867.9h0M508 905.3h0M352.4 882.9h0M476.7 865.2h0M545.3 868.1h0M436.5 911.1h0M456 899h0M511.8 896.7h0"/>
<path d="M515.5 822.7h0M425.1 854.2h0M298.4 816.5h0M460.7 673.2h0M297.2 853.3h0M286.7 784.4h0M484.8 709.7h0M484.1 691.4h0M492.9 719h0M521.3 835.9h0M441.3 932.2h0M540.1 860.5h0M538.3 807.4h0M414.7 891.4h0M404.8 874.2h0M280.9 869h0M518.1 889.3h0M452.1 845.5h0M563.8 903.1h0M563.4 885.4h0M316.6 809.6h0M345.4 834h0M492.2 915.7h0M467.8 906.4h0M563.8 833.4h0M526.2 797.3h0M508.7 897.9h0M455.9 935.7h0"/>
<path d="M500.5 909h0M527.8 800.6h0M337.4 854.9h0M478.6 798h0M475.1 956h0M535.7 858.7h0M480.2 810.6h0M463.3 689.3h0M481.8 954.6h0M466 739.8h0M457.2 678h0M526.7 847.4h0M550.6 889.7h0M550.1 845h0M486.2 702.4h0M298.1 881.2h0M444.2 814.5h0M461.9 842.3h0M408.3 899.2h0M491.3 708.1h0M461.3 739h0M500.7 890.8h0M303.4 899.9h0M501.8 775.4h0M417.4 841.3h0M505.3 833.6h0M555.7 816.2h0M388.7 894.8h0"/>
<path d="M572.1 850.2h0M463.4 938.4h0M461.7 874h0M532.3 844.8h0M404.5 876.9h0M479.1 907.2h0M517.4 817h0M562 874.3h0M483.9 682h0M527.1 899.6h0M452.2 916.3h0M397.5 852.3h0M531.9 725.4h0M471.4 830.4h0M483.2 802.2h0M498.4 869.4h0M430.7 874.7h0M453.6 909.2h0M562.1 806.5h0M456.2 852.6h0M555.2 787.8h0M454.1 935.3h0M475 790.3h0M446.6 838.1h0M526.9 859.5h0M339.4 860.2h0M486.4 923.8h0M500.8 873.3h0"/>
<path d="M494.2 817.2h0M505.5 824.8h0M460.4 860.3h0M516.8 717.8h0M444.2 858.4h0M456.3 852.1h0M475 849h0M435.4 863h0M507.2 835.1h0M456.3 841.7h0M455.1 955.6h0M467.1 879.1h0M312.4 821.7h0M550.7 812.1h0M327.9 827.7h0M469.8 696.1h0M307.3 791.6h0M494.4 911.1h0M505.8 878h0M412.7 843.1h0M556.1 826.9h0M524.9 874.4h0M481.2 709.1h0M481.4 873.8h0M514.3 718.6h0M529.6 840h0M454 686.8h0M457.6 685.5h0"/>
<path d="M465.4 700.2h0M511.9 713.3h0M492.9 962.5h0M446.7 917.8h0M308.7 821.4h0M542.1 839.3h0M546.6 874.3h0M534 728.5h0M498.6 713h0M487.7 902.2h0M547.7 840.6h0M454.7 843.6h0M476.1 867h0M560.8 887.2h0M537.7 842.7h0M544.4 896.6h0M524.6 867.6h0M508.4 704.3h0M382.7 850.7h0M465.2 827.8h0M539.3 891.3h0M432.9 848.6h0M456.9 963.7h0M492.5 811.1h0M540.2 881.9h0M436.9 860.9h0M562.2 880.8h0M549.1 853.7h0"/>
<path d="M506.4 817.9h0M473.1 873.6h0M466 959.1h0M484.4 911.9h0M459.2 922.4h0M536.9 865.3h0M479.1 888.2h0M324.6 813.2h0M512.9 836.5h0M470.6 903.1h0M331.6 815.5h0M559.3 884.2h0M498.3 849.3h0M526.1 884h0M502.7 870.4h0M479 854.2h0M519.8 850.3h0M435.5 870.9h0M517.2 723.1h0M435 854.7h0M452.6 909.9h0M490.4 864.1h0M296 800.6h0M420.6 888.2h0M486.1 689.4h0M531.9 848.2h0M462.2 838.4h0M523 725h0"/>
<path d="M444.6 907h0M457.7 663h0M541.1 870.9h0M459.2 890.2h0M512.3 712.9h0M336.1 851.6h0M552.1 876.3h0M273.8 848.9h0M539.1 855.9h0M501.5 688.6h0M456.1 683.5h0M447.4 851h0M514.9 820.6h0M496.4 834.4h0M467.8 858.6h0M459.7 694.9h0M327.4 864.8h0M507.6 897.7h0M343.2 849.4h0M491.5 886.9h0M542 804.6h0M466.9 961.5h0M497.1 794.9h0M299.2 883.7h0M511.1 818.5h0M415.7 900.7h0M564.8 888.9h0M467 684.6h0"/>
<path d="M438.3 921.1h0M543 795.6h0M489.9 716h0M547.2 800h0M487.6 854.2h0M511.6 871.5h0M494.3 703.7h0M478.8 772.4h0M465.4 663.2h0M516.3 839.1h0M453.9 670.2h0M528.6 835.9h0M550.1 808.3h0M476.6 898.2h0M324.8 817.1h0M485.2 929.9h0M460.7 680.8h0M420 890.8h0M454.7 846.3h0M405.3 872.3h0M495.7 849.7h0M517.8 831h0M564.7 910h0M429.2 866.2h0M510.3 848.3h0M305.8 796.5h0M558.2 798.7h0M471.3 967.4h0"/>
<path d="M481.6 942.9h0M424.9 913.5h0M457.8 666h0M440.9 812.5h0M527 899.6h0M455.3 667.5h0M483.1 681.5h0M525.8 876.6h0M441.4 833.5h0M471.1 687.1h0M441.9 896.8h0M467.9 948.1h0M443.1 902h0M292.6 881.8h0M449.8 899.3h0M455.3 952.7h0M523.5 862.5h0M420 865.6h0M458.9 876.9h0M473.6 867.6h0M335.4 799h0M416.1 891.2h0M482.6 700.2h0M436.9 876.6h0M579.2 897h0M446.9 906.1h0M464.8 883.3h0M440.3 904.7h0"/>
<path d="M447.5 936h0M513.4 873.4h0M549.6 873.5h0M292.6 793.7h0M446.8 873.4h0M425.6 904.3h0M479.9 934.3h0M502.2 852.5h0M476 683.9h0M483.2 851.2h0M285.6 856.8h0M300.4 841.2h0M280.4 782.5h0M467.3 678h0M500.8 810h0M467.2 701.5h0M454.3 895.2h0M564.2 856h0M398.6 889.1h0M481.2 886.4h0M328 821.5h0M508.4 706.9h0M346 867.4h0M474.3 871.2h0M496.8 863.3h0M462.5 680h0M304.6 794.8h0M475.4 966.2h0"/>
<path d="M498.2 904.4h0M330.9 830.2h0M476 857.3h0M480 846.8h0M476.3 911.2h0M291 846.5h0M463.2 664.9h0M535.8 881.7h0M461 900.9h0M465.8 916.8h0M567 823.4h0M465.6 673.5h0M429.4 853.4h0M292.6 809.1h0M520.8 819.2h0M510.8 714.7h0M299.4 870.4h0M392.7 859.5h0M473.1 885.5h0M561.6 907.3h0M543.1 844.3h0M486.5 937.1h0M441.9 870.5h0M462.3 877.7h0M468.6 917.9h0M417.4 885.9h0M443.1 908.5h0M429.2 870.4h0"/>
<path d="M406.4 857.8h0M471.4 969.2h0M550.7 842.6h0M427.9 884.2h0M559.1 823.6h0M418.4 845.1h0M437.8 853.9h0M533.3 886.5h0M566.8 792.1h0M485.9 940.5h0M536.4 895.3h0M482.7 922h0M298.3 813.8h0M504.5 821.1h0M484.6 829h0M416.4 894.3h0M492.4 858.2h0M567 862.2h0M520.1 906h0M466.3 945h0M563.2 878.9h0M467.8 858.7h0M274.5 798.6h0M337.5 825.7h0M467.9 857.3h0M525.6 814.9h0M528 906h0M425.8 894.2h0"/>
<path d="M475.1 924h0M512.1 836h0M478.5 884.8h0M441.8 850.4h0M530.1 812.5h0M506.4 809.5h0M429.6 852.5h0M296.9 795.1h0M512.5 840.2h0M454 869.1h0M472.2 698.3h0M479.4 867.1h0M572.6 863.4h0M404.8 895.1h0M487.8 689.4h0M483.1 817.1h0M523.9 819h0M569.1 789.5h0M341.4 832.5h0M453.7 897.5h0M288.1 815.9h0M565.4 832.2h0M474.7 903.1h0M557.2 814.2h0M514.9 724h0M547 802.1h0M475.4 749.7h0M521.6 889.8h0"/>
<path d="M499.5 883h0M292.5 824.8h0M518.5 832.8h0M301.3 797.6h0M503.3 716h0M282.2 864h0M334.3 841.6h0M482.4 842.5h0M508.7 894.5h0M315.8 828.1h0M474.9 931.6h0M406.8 891.5h0M508.8 862.1h0M461.5 950.2h0M452.4 844.7h0M559.7 870.8h0M512.4 810.6h0M513 813.3h0M467.2 820.6h0M498.5 912.1h0M484.1 689.4h0M523.6 869.7h0M306 800.3h0M564.7 866.4h0M483 944.9h0M564.2 793.1h0M520.6 723h0M501.3 849.3h0"/>
<path d="M494.8 832.5h0M507.8 825.6h0M544.9 862.4h0M330 814.1h0M530.5 856.9h0M303.9 829.4h0M462.1 939.1h0M556.6 852.3h0M413.7 886.9h0M310.4 810.6h0M531.6 800.8h0M494.5 719h0M288.8 803.6h0M556.8 877.5h0M469.5 943.3h0M564.2 893.9h0M481.3 680.8h0M513.5 832.5h0M556 895h0M454.6 675.6h0M561.2 892.4h0M548.6 827.2h0M430 897.4h0M471.4 910.2h0M279 798.8h0M512.8 721.1h0M466.2 947h0M562.2 856.6h0"/>
<path d="M428.1 884.3h0M483.6 921h0M443.5 934.5h0M311.2 795.1h0M468.1 933.6h0M560.6 779.3h0M505.4 696.5h0M534.1 847.4h0M289.2 812h0M310.4 813.5h0M558.1 788.9h0M473.9 679h0M307 800h0M539.3 793h0M297.3 807.1h0M496.6 867.5h0M566.7 877.5h0M547 834.8h0M525.2 890.3h0M519.6 732h0M524.8 813.8h0M278.2 811.9h0M556.1 830.9h0M508.7 849.4h0M505.8 821.7h0M284.7 810h0M479.3 852.7h0M468.5 902.3h0"/>
<path d="M492 913.2h0M574.6 842.1h0M400.4 864.4h0M495.5 879h0M537.6 828.1h0M296.7 816.6h0M464.4 888.6h0M456.5 702.5h0M456.1 692.1h0M460.8 665.3h0M297.4 803.7h0M447.4 943.9h0M479.6 874.4h0M438.9 852.2h0M492.8 899.6h0M483.9 699.7h0M513.4 856.6h0M543.2 864.2h0M499.2 903.6h0M540.3 803.7h0M307.2 796.9h0M530.4 901.1h0M557.7 875.3h0M486.1 688.7h0M313.2 807.9h0M551.6 893h0M460.7 935h0M503.4 712.3h0"/>
<path d="M308.2 807.2h0M504.8 899.9h0M471.7 966.3h0M476.1 862.1h0M470.8 827.5h0M526.7 798h0M508.1 905.9h0M462.4 933.5h0M470.6 951.4h0M487.6 813h0M451.3 895.2h0M452.4 669.7h0M520.1 893.4h0M470.4 883.7h0M543.3 868.8h0M298.6 803.5h0M558.2 893h0M515.8 841.7h0M521.6 809h0M284.4 883.5h0M444.7 909.4h0M278.8 888.2h0M292.5 831.3h0M532.9 815.2h0M567.5 870h0M419.1 864.9h0M454 934.2h0M498.2 710.1h0"/>
<path d="M492.2 905.7h0M550.9 841.6h0M469.1 945h0M462.4 958.4h0M466.4 903h0M551.8 842.9h0M270.4 809.9h0M520.1 885.9h0M573.3 902.5h0M468.5 828.1h0M462 873.4h0M423.1 880h0M528.9 811.3h0M477.1 813.8h0M490.8 894.2h0M491.8 711.9h0M547.8 783.7h0M555.2 784.7h0M469.4 798.2h0M485.2 707h0M319 834.9h0M343.7 831.7h0M486.7 890.5h0M558 875.1h0M306.7 806.7h0M281.6 847.4h0M540.6 855.4h0M498 890.8h0"/>
<path d="M335 838.5h0M556.7 772.6h0M546 886.6h0M501.2 710.3h0M566 842h0M483.5 706.7h0M466.5 898.3h0M506.2 887.4h0M521.6 884.8h0M464.9 674.9h0M503 711.3h0M463.9 703.1h0M344.9 843.9h0M474.1 824.9h0M461.2 938.8h0M492.9 836.4h0M453.4 837.5h0M521.5 863.2h0M532.5 839h0M551.1 868.6h0M453.3 904.9h0M488.8 908.1h0M484.5 678.6h0M469.3 831.8h0M548.9 884.8h0M306.5 787.3h0M474.3 874.8h0M469.9 716.2h0"/>
<path d="M454.8 669h0M519.5 891.2h0M505.7 714.5h0M492.4 917.9h0M482.5 946.8h0M451.4 855h0M569.3 852h0M508.2 897.9h0M530.6 852.8h0M507.9 712h0M465.4 669.2h0M437.5 891.5h0M482.8 929.6h0M485.4 817.6h0M285.3 819.8h0M546 800.9h0M452.5 665.5h0M506.9 724.7h0M566.8 800.3h0M461.7 889h0M481.5 792.2h0M447.8 918.2h0M437.5 886.3h0M509.8 717.2h0M490 886.4h0M279.7 807.5h0M462 939h0M456.4 858h0"/>
<path d="M568.6 859.1h0M573.9 902.1h0M479.3 922.9h0M544.9 796.4h0M526.2 850.4h0M516.2 858.7h0M513.1 729.5h0M465.3 673.3h0M491.8 959.1h0M425 863.8h0M488.4 958.7h0M509.7 832.5h0M437.3 913.5h0M563.7 830.5h0M290.5 793h0M471.7 927.9h0M420.5 894h0M570.9 841.9h0M325.9 838h0M528.8 809.7h0M505.7 883.4h0M512.1 711.7h0M484.2 881.8h0M476.4 869.2h0M494.2 815.7h0M475.1 937.7h0M456.8 898.8h0M522.7 823.1h0"/>
<path d="M475.5 912.4h0M513.8 786.6h0M454.1 669.2h0M423.3 863.6h0M469.4 914.4h0M515 830.4h0M443.2 898.5h0M442 877.9h0M483.6 840.6h0M351 853.2h0M514.2 723h0M571.3 905.3h0M525.8 893.2h0M486.9 815.9h0M320 830.3h0M528.7 902.4h0M479.1 672.3h0M556 893.4h0M313.6 872.9h0M557.9 796.9h0M476 819.1h0M439.1 865.6h0M451.4 673.3h0M310.1 816.3h0M540.1 883.8h0M403.2 884h0M516.7 823.4h0M428.5 861.4h0"/>
<path d="M274.3 854.4h0M554 883h0M491.9 891.9h0M500 901.4h0M534.5 867.2h0M549.9 806.1h0M502 874.5h0M489.9 925.1h0M505.6 816.6h0M485.2 948.2h0M476.9 905.9h0M517.7 872.2h0M470.8 960.1h0M527.7 818h0M523.8 858.4h0M510.8 828.8h0M278.7 871.5h0M486.4 714.1h0M523.7 841.3h0M485.6 844.5h0M466.2 673.1h0M498.6 885.4h0M458.1 950.6h0M288.6 860.2h0M557.5 858.3h0M523.6 722.3h0M447.5 881h0M291.1 794.1h0"/>
<path d="M493.4 842.4h0M409.5 867.9h0M535 803.9h0M563.4 896.7h0M447.7 938.7h0M429.1 901.1h0M310.7 816.1h0M540.1 858.5h0M457.5 842.9h0M525.4 871.3h0M570.9 845.9h0M335.1 822.3h0M427.3 901h0M484 691.9h0M506.9 909.6h0M462.8 962h0M345.1 863.7h0M453.5 874.5h0M343.4 846.2h0M301.3 832.1h0M470.3 835.5h0M478.6 851.8h0M545 851.9h0M547.4 793.4h0M477.6 763.8h0M506.3 830h0M399.9 844.6h0M505.1 844.6h0"/>
<path d="M479 877.5h0M484.2 911.7h0M461.6 692.4h0M570.5 803.8h0M488.3 952.8h0M318.1 891.4h0M428.7 852.9h0M495.1 714.8h0M457.7 899.6h0M457.9 842.4h0M518.2 857.9h0M531.2 829.4h0M466.7 882h0M476.5 879.5h0M326.5 831.1h0M490.3 703.3h0M482.4 927.7h0M482.7 765.8h0M527.7 858h0M453.1 671.7h0M296.1 798.2h0M486.2 896.4h0M491.3 896.3h0M510.8 726h0M565.1 853.3h0M559.5 792.9h0M559.9 789.8h0M319.3 817.3h0"/>
<path d="M355 883.7h0M354.6 894.5h0M446.1 833.6h0M564.3 837.3h0M461.9 809.7h0M533.7 846.8h0M456.1 692.8h0M477.8 887h0M352 857.6h0M570 865.6h0M565.7 826.8h0M424.8 848.8h0M524.7 840.6h0M489.5 924.6h0M467.9 946.6h0M312.7 828.2h0M477.4 896.2h0M453.5 855.3h0M479.1 945.2h0M466.3 694.5h0M472.2 968.3h0M531.1 825.9h0M564.2 892.2h0M427.5 876.8h0M447.6 899.3h0M532 786.6h0M533.4 821h0M514.6 910h0"/>
<path d="M560.3 897.7h0M468.8 886.1h0M456.1 880h0M554.9 811.1h0M471.1 705.2h0M416.5 890.2h0M291.3 849.1h0M487.9 911.8h0M508.1 730.1h0M493.5 802.8h0M476.4 886.2h0M421.1 869.1h0M561 888.1h0M456.5 867.6h0M324.8 818.8h0M482.7 913.9h0M552.1 825.3h0M525.5 724.6h0M569.7 811.8h0M458.3 919h0M467.9 901.9h0M530.6 899.6h0M348.6 860.6h0M466.9 855.4h0M506.7 878.2h0M580.1 895.4h0M480.2 890.7h0M525.5 846.1h0"/>
</g>
<g stroke="#54278f" stroke-opacity="0.7" stroke-width="7.0" stroke-linecap="round" fill="none">
<path d="M555 786.5h0M536 816.6h0M603.5 917.9h0M560.7 817.1h0M515.4 736h0M564.8 794h0M527.6 757h0M544.4 784.3h0M507.4 824.1h0M547.6 787.6h0M527.8 826.6h0M546.3 808.2h0M525.6 747.1h0M464.8 756.1h0"/>
<path d="M551 833.6h0M544.1 769.7h0M612.8 918.8h0M577.7 918.8h0M353.2 802.1h0M495.5 728.6h0M578.7 804.7h0M505.8 832.2h0M523.7 829.3h0M437.1 793.3h0M543.9 755.1h0M509.2 936.4h0M511.6 779.4h0M512.4 817.8h0"/>
<path d="M537.6 798.1h0M360 800.1h0M490.9 755.6h0M531.8 843.1h0M554 774.4h0M530.8 764.7h0M552.3 806h0M533 724.1h0M590.9 927.6h0M530 780.9h0M519.4 751.7h0M486.3 815.4h0M525.5 747.6h0M563.1 796.9h0"/>
<path d="M536 764.3h0M551.4 762.2h0M578.7 799.9h0M450.2 753h0M538.6 830.3h0M445.8 781.1h0M624.7 836.4h0M519.3 790.8h0M565.8 854.4h0M445.9 780.2h0M533.5 792.1h0M571.8 825h0M550.6 813.9h0M509.5 857.8h0"/>
<path d="M449.1 772.1h0M551.4 854h0M450.2 753.5h0M520.1 775.1h0M572.3 844.8h0M517.9 767.6h0M518.2 765.8h0M524.7 845.9h0M552.1 838.6h0M562 862h0M525.6 862h0M548.1 822.4h0M509.2 728.2h0M528.4 754.3h0"/>
<path d="M581.6 816.7h0M526.4 765.4h0M511.2 728.7h0M526.2 766.8h0M541.1 742.2h0M502.7 750.2h0M470 795.5h0M374.7 798h0M565.9 789.5h0M562.4 790.4h0M589.7 928.5h0M529.2 834.4h0M520.4 729.5h0M531.4 856.8h0"/>
<path d="M545.6 854.9h0M533.1 799.2h0M575.8 817.2h0M511 726.6h0M538.1 762.7h0M536.3 774.9h0M571.6 820.4h0M508 925.8h0M566 788.7h0M539.2 828.5h0M542.2 783.5h0M563.4 854.6h0M413 845.9h0M519.1 817.4h0"/>
<path d="M558.9 853.7h0M556.1 832.3h0M525.3 776.1h0M574.9 810.8h0M545.9 809.4h0M518.4 803.9h0M504.9 805.7h0M584.2 859.6h0M528 743.6h0M528.2 824.7h0M551.4 784.6h0M552.4 851.8h0M513.1 748.2h0M529.3 772.8h0"/>
<path d="M505.8 816.9h0M513 831.6h0M532.8 750h0M563.9 792.3h0M437.2 793.3h0M641.6 891.5h0M543.7 793.9h0M494.4 839.9h0M548.1 812h0M497.9 732.7h0M516.4 927.6h0M555.5 829.4h0M584.7 869.3h0"/>
<path d="M535.2 804.4h0M533.2 767.1h0M574.7 826.1h0M566.1 858.1h0M550.6 776.1h0M558.3 809.7h0M546.4 800.2h0M520.7 744.6h0M504.5 811.8h0M557.8 849.7h0M503.4 836.3h0M570.3 863.4h0M563.5 838.6h0"/>
<path d="M504.3 731.2h0M564.6 836.5h0M547.5 781.8h0M513.2 788.8h0M519.2 791.9h0M551.1 778.3h0M533.3 766.5h0M555.4 791.8h0M608.8 787.7h0M547.3 803.5h0M516.8 762.6h0M569.2 847.4h0M517.4 938.7h0"/>
<path d="M524.6 735.6h0M533.9 823.1h0M397.7 841.5h0M575.3 859.9h0M543.1 790.6h0M491.4 756.1h0M509.5 779.9h0M581.1 871.7h0M545 815.3h0M512.5 820.8h0M562.6 863.3h0M608.4 960.5h0M439.3 817.4h0"/>
<path d="M497.5 824.2h0M515.8 782.7h0M525.9 768.5h0M539.5 776.4h0M530.5 782.3h0M396.3 859.3h0M557.8 788.5h0M534.9 800h0M539.3 825.1h0M597.4 910.1h0M519 731.3h0M535.6 741.2h0M535.1 788.6h0"/>
<path d="M621.5 928.5h0M531 759h0M570.5 841.6h0M529.1 767.8h0M534.7 774.9h0M550.5 866.6h0M412.7 839.9h0M515.6 765.9h0M539.2 793.8h0M534.4 775.6h0M537.3 820.2h0M579 838.9h0M540 783.4h0"/>
<path d="M533.1 774.6h0M536.9 774.1h0M544.8 800.6h0M542.9 842h0M533.3 745.5h0M536.4 837.2h0M561.2 798.6h0M553.9 800.1h0M621.3 928.2h0M550.4 799.6h0M547 837.5h0M538.4 1000.6h0M448.5 824.6h0"/>
<path d="M539.2 818.5h0M544.3 780.6h0M589.8 929.3h0M606.1 941h0M506 758h0M498.7 737.5h0M551 767.5h0M513.2 837.2h0M556.5 824.6h0M545.6 786.3h0M630.3 918.8h0M564.6 798h0M537.4 837.1h0"/>
<path d="M544.9 794.8h0M509.6 773h0M532.2 795.8h0M551.4 791.5h0M538.7 861h0M547.9 806.5h0M531.6 806h0M536.1 792.7h0M531.1 770.7h0M503.6 807.2h0M506.5 752.9h0M570.8 855.7h0M539.4 851.6h0"/>
<path d="M551.4 940.7h0M527.5 783h0M538.3 934.2h0M552.2 812.9h0M530.4 734.6h0M509.9 815.4h0M549.8 869.2h0M541.9 857.5h0M637.4 887.2h0M545.2 785.4h0M537.4 767.5h0M522.7 773.1h0M516.8 845h0"/>
<path d="M555.1 831h0M558.6 804.1h0M581.8 835.8h0M528.3 868.5h0M533 753.5h0M540.7 944.5h0M543.4 784.2h0M531.3 743.3h0M564.1 960.9h0M540.1 757.7h0M561.7 779.8h0M501.6 727.9h0M557 863h0"/>
<path d="M622.6 840.7h0M523.8 749.5h0M521.8 745.1h0M540.4 789.4h0M510.2 734.4h0M542.1 813.7h0M579.4 861.8h0M544.4 755.9h0M573 848.7h0M504.5 849.6h0M465.6 756.1h0M511.9 749.2h0M523.2 1026.3h0"/>
<path d="M533.8 799.8h0M540 794.7h0M448.9 771.4h0M351.8 792.5h0M616.2 916.9h0M450.5 753.1h0M521.9 812.6h0M526.1 805.8h0M549.5 770.8h0M541.2 749.3h0M555.3 774.6h0M576.7 853.1h0M604 940.7h0"/>
<path d="M526.9 769.4h0M538.3 790.3h0M523.3 791.1h0M560.9 850.5h0M555.2 776.6h0M567.4 810.7h0M489.7 815.2h0M508.7 831.5h0M544.2 743.3h0M513.7 737.3h0M553 773.7h0M546.7 791.6h0M539 776.4h0"/>
<path d="M577 797h0M608.5 962h0M531.4 760.3h0M551.6 807.3h0M535 754.9h0M526.4 775.4h0M517.6 816.7h0M621.5 927.6h0M544.2 797h0M514.8 738.8h0M559.3 799.6h0M532.6 840.5h0M539.8 767.4h0"/>
<path d="M515 945.7h0M517.8 791.6h0M464.7 755.6h0M402.5 842h0M470.3 797.4h0M527.2 792.3h0M536.8 792h0M517.9 789.7h0M552.4 941h0M519.2 773.4h0M565 800.8h0M517.5 798.5h0M522.5 833.8h0"/>
<path d="M560.6 799.6h0M559.2 785.4h0M527.3 786.5h0M540.7 763.2h0M571 840h0M519.3 825.5h0M431.5 821.5h0M534.7 795.2h0M529.6 788.7h0M627.8 843.8h0M552.9 813.1h0M513.9 797.1h0M564.2 808.3h0"/>
<path d="M531.9 844.5h0M520.4 797.9h0M500.4 834.7h0M556.7 819.7h0M555.7 835.5h0M529.6 746.3h0M527.1 767.3h0M511.5 741.9h0M502.8 808.6h0M527.8 780.5h0M573.2 840.8h0M514.7 821.2h0M557.4 853.2h0"/>
<path d="M564.7 798h0M523.4 755.2h0M553.9 858.6h0M585.3 848.8h0M525.6 806.1h0M540.3 801.6h0M518.4 821.2h0M556.1 792.8h0M584.3 934.2h0M525.5 831.7h0M545 778h0M506.4 822.9h0M502.8 743.4h0"/>
<path d="M517.2 752.4h0M529.8 769.9h0M516.3 753.4h0M583.1 860.1h0M442.9 831.7h0M542.5 810h0M569.7 869.6h0M565.8 809.3h0M430.5 819.6h0M565.1 789.2h0M520.9 924.7h0M530.1 803.8h0M538.4 849.2h0"/>
<path d="M550.7 863.2h0M541.6 783.8h0M532.6 937.5h0M518 856.1h0M546.2 856.8h0M524.8 758.4h0M529.5 932h0M523.5 782.2h0M446.3 777.9h0M536.1 987.7h0M525 784.6h0M548.7 755.6h0M530.7 780.6h0"/>
<path d="M546.8 873.8h0M631 917.9h0M510 849.8h0M521 771.8h0M551.5 787.4h0M533.6 774.5h0M516.3 746.6h0M506.1 776.5h0M559.5 825.4h0M505.1 808.3h0M505.4 743.8h0M548.9 797.6h0M552.1 840.3h0"/>
</g>
<g stroke="#807dba" stroke-opacity="0.7" stroke-width="7.0" stroke-linecap="round" fill="none">
<path d="M597.5 853h0M433.6 906.3h0M545.6 820.4h0M520.8 832.8h0M477.4 914h0M522.3 880.4h0M477.6 949.4h0M435.7 914h0M476.3 891.2h0M481.3 832.9h0M441.1 933h0M512.9 809.3h0M582 852.5h0M547 742.9h0M514.6 966.5h0M512.5 970.8h0M467 840.7h0M462.6 913h0"/>
<path d="M438.7 891.2h0M548.6 746.5h0M560.1 802.6h0M486.6 819.1h0M451 875.3h0M594.6 857.4h0M545.1 848.2h0M490.9 870.7h0M548.6 785.8h0M557.2 940.4h0M482.8 905.7h0M550.8 856.1h0M473.1 944.5h0M522.6 888.6h0M472.7 900.1h0M480.5 939.3h0M477.1 917.5h0M446.2 935.4h0"/>
<path d="M451.7 861.5h0M507.9 825.2h0M552.8 933h0M576.7 871h0M568.9 864.5h0M453.3 863.5h0M594.5 878.1h0M545.1 811.1h0M544.6 751.5h0M526.5 973.7h0M543.8 902.9h0M575.4 864.1h0M541.1 876.5h0M595.3 817.1h0M521.5 893.5h0M531 735.4h0M548.7 756.6h0M519.6 881h0"/>
<path d="M551.1 797.7h0M563.3 804.4h0M516.8 865h0M483.5 931.2h0M472.9 875.9h0M582.7 813.1h0M542.4 747.9h0M437.2 919.6h0M580.4 882.4h0M576 810h0M519.1 824.8h0M547.7 865.5h0M428.5 856.1h0M488.4 919.2h0M564.3 878.8h0M518 944.2h0M492.6 835.2h0M531.9 853.6h0"/>
<path d="M471.4 864.2h0M413 889.8h0M543.7 795.6h0M577.9 798.1h0M512.8 867h0M535.1 742.6h0M466.1 845.6h0M523.3 859.5h0M461.5 877h0M485.6 891h0M551.2 811.4h0M486.3 947.1h0M547.5 817.9h0M457.4 918.8h0M591.2 818.4h0M533.6 872.6h0M513.4 853.7h0M549.1 888.8h0"/>
<path d="M512.6 839h0M486.9 946.9h0M435.6 868.4h0M507.8 827h0M459.8 933.5h0M493.3 875.2h0M540.6 748.8h0M471.5 923.1h0M556.2 807.8h0M492.3 849h0M561.7 940.5h0M462.2 897.1h0M546.3 797.2h0M589.6 872.7h0M488.1 842.3h0M554.6 796.9h0M506.5 872.5h0M555.6 780.9h0"/>
<path d="M597 853.4h0M543.1 845.7h0M523.7 966.4h0M584.1 800.4h0M431.4 855.5h0M507.4 892.8h0M480.2 925.3h0M430.5 903.7h0M470.6 917.1h0M544.1 730.6h0M449.7 901h0M471.3 858.9h0M555.8 819.4h0M502.2 899.6h0M449.1 884.7h0M516.3 831.8h0M464.1 920.9h0M557.7 790.1h0"/>
<path d="M584.6 858.4h0M528.9 866.3h0M510.4 810.1h0M448.4 832.6h0M452.6 887.6h0M417.7 894.4h0M476.9 875.9h0M551.2 814.1h0M471.2 881.3h0M555.6 871.1h0M428.1 849.8h0M543.7 924.3h0M513.1 836.4h0M469 969.1h0M439.8 854h0M531 879.2h0M516.3 820.5h0M545.5 885.4h0"/>
<path d="M487.7 901.6h0M503 859.6h0M420.9 861.8h0M509.5 859.4h0M594.3 851.9h0M540.8 834.5h0M516.5 886.9h0M584.4 857.9h0M455.9 835.8h0M451.9 856.1h0M553.4 779.3h0M416 869h0M500 839.9h0M426.9 883.4h0M587 874.1h0M511.2 888.6h0M591.3 855.5h0M464.8 888.9h0"/>
<path d="M507.7 872.2h0M420.8 900.6h0M484 845.9h0M543.7 756.5h0M413.8 881.2h0M461.1 853.1h0M474.5 968.6h0M433.4 891.5h0M510.7 893.5h0M482.6 938.7h0M483.4 952.9h0M552.4 833.4h0M567.6 794.4h0M559.9 837.2h0M518.6 959.6h0M536.5 974.4h0M547.1 843.8h0M456.2 903.5h0"/>
<path d="M530.6 866.3h0M422 856.3h0M453.9 940.8h0M507.2 870.2h0M491.5 859h0M505.5 832.5h0M513.2 957.9h0M551.5 801h0M494.3 855h0M564.2 852.8h0M461.1 908.6h0M595.2 808.2h0M586.1 874.7h0M445 874.5h0M547.7 823.6h0M488.9 844.2h0M510.9 892.8h0"/>
<path d="M486.3 910h0M551.4 847h0M526.6 835.4h0M429.8 845.9h0M486.1 895.6h0M496.9 820.4h0M581.6 843.1h0M588.9 823.4h0M488.5 876h0M474.1 961.2h0M494.5 850.7h0M554.2 895.2h0M598.7 794.6h0M483.5 930.4h0M596.3 813.8h0M437 923.7h0M530.4 964.3h0"/>
<path d="M495.8 906.2h0M563.6 870.2h0M576.4 850h0M421.2 870.4h0M532.5 728.5h0M545.4 884.6h0M580.2 871h0M593.2 823.2h0M443.3 827.7h0M563.4 793.3h0M549.8 811.3h0M490.8 922.4h0M494.9 885.7h0M484.8 930h0M547.9 876.3h0M460.7 885.3h0M583 865.8h0"/>
<path d="M467.7 893.6h0M539.8 800.9h0M484.9 944h0M458.3 959.3h0M582.2 872.7h0M587.9 800.6h0M454.1 851.6h0M527.9 899.9h0M532.7 831.6h0M578.7 874h0M558.5 818.7h0M571.4 800.6h0M589 811h0M508.3 938.5h0M417.1 893.8h0M542.5 859h0M466.3 886.3h0"/>
<path d="M557 848.4h0M466.2 864.7h0M423.1 854.1h0M481.1 822h0M437.2 881.4h0M537.1 884.9h0M463 903.7h0M448.7 926.5h0M531.7 728.1h0M567.5 856.7h0M510.6 841.3h0M553.1 837.1h0M553.7 884.6h0M542.5 839.4h0M552.7 791.9h0M549.2 787.6h0M570.5 860.3h0"/>
<path d="M447.9 897.5h0M492.6 892h0M450.9 867h0M454.2 862.5h0M595.4 875.3h0M561.7 864.6h0M521.5 980.7h0M548.1 867.5h0M552.3 834.5h0M454.1 876h0M595.4 854.5h0M415.1 893.5h0M536.1 834h0M551.4 869.5h0M585.9 883.7h0M596.2 791.9h0M444.8 848.7h0"/>
<path d="M492.7 846h0M592.7 873.3h0M587.6 842h0M467.3 896h0M445.4 886.7h0M559.4 886.8h0M452 935.2h0M598.7 867.6h0M549.2 910h0M532 895.5h0M580.5 800.5h0M584.9 801.9h0M525.5 887.7h0M494.4 908.4h0M417.7 861.8h0M428 864h0M514.1 884.3h0"/>
<path d="M546.2 747.7h0M459.4 943.6h0M536.2 743.1h0M445.6 870.5h0M459.5 869.4h0M597.1 791.9h0M498.2 915.4h0M469.8 898.6h0M424.8 883.6h0M467.4 893h0M511.6 811.7h0M495 897.3h0M510.7 858.6h0M506 872.4h0M445.4 945.6h0M537.5 840.3h0M531.5 810.8h0"/>
<path d="M463.2 860.9h0M528.6 727.3h0M519.7 900.8h0M474.2 876.3h0M499.1 959.4h0M457.5 888.2h0M526.4 845h0M424.6 913.9h0M492.4 901.7h0M560.5 811.7h0M589.1 792.2h0M568.1 780.7h0M502.8 832.4h0M551.1 934.9h0M533.4 838.2h0M467.9 901.4h0M544.1 741.3h0"/>
<path d="M481.8 855.8h0M535.2 737.2h0M456.2 877.1h0M585.4 809h0M566.8 889.3h0M512.7 818.4h0M563.3 811.6h0M492.6 849h0M495.8 881.8h0M456 837.3h0M500.9 834h0M517 854.3h0M524.2 836.6h0M541.8 753.8h0M541.5 789.6h0M594.7 878.4h0M585 800.9h0"/>
<path d="M576.2 804.2h0M574.3 842.8h0M519.7 895.6h0M535.9 801.5h0M557.7 832.1h0M505.6 964.1h0M457 928.1h0M560.4 881h0M544.1 787h0M531 737.8h0M506 840.7h0M548.5 835.4h0M503.9 856.2h0M565.6 880.4h0M517.8 957.4h0M508.5 846.4h0M469.7 851.2h0"/>
<path d="M440.5 836.6h0M471.2 890.2h0M477.8 944.6h0M528 899.4h0M424.4 852.4h0M462.2 844h0M558.2 896.6h0M545 797.5h0M583.4 850.6h0M580.9 800.1h0M424.1 903.7h0M517.4 855.9h0M518.5 893.8h0M527.5 891.6h0M585.9 876.9h0M514.3 830.9h0M446.8 879.1h0"/>
<path d="M537.5 944.1h0M482.2 843.2h0M430.9 854h0M551.9 836.3h0M496.7 867.2h0M468.1 952.4h0M515.9 866.7h0M444.8 863.3h0M510.5 967.6h0M550 832.8h0M521.6 812.9h0M570.4 816.5h0M466.8 824.1h0M537.4 749.4h0M477.5 958.6h0M485.4 868.1h0M525.4 848.5h0"/>
<path d="M567.7 845.2h0M472.7 926.3h0M543.4 922h0M543.7 751.6h0M561.7 812.2h0M539.4 930.4h0M509.4 893.5h0M546.1 791h0M515.7 809.3h0M508.3 822.5h0M415.9 895.5h0M551.8 937.6h0M542.6 738.7h0M523.7 809.3h0M474.1 970.6h0M454.8 899.1h0M589.6 804.3h0"/>
<path d="M487.7 913.4h0M522.9 856.3h0M592.3 873.1h0M564.4 851.2h0M583.5 795.2h0M546.9 743.8h0M543.7 839.4h0M545.4 876.4h0M527.2 984.7h0M481.7 854.3h0M515.4 958.5h0M541 800.5h0M537.9 890.1h0M591.2 848.2h0M467.7 924.1h0M556.7 800.1h0M538.6 869.3h0"/>
<path d="M582.9 879.5h0M424.2 863.7h0M511.3 974.8h0M548.4 818.9h0M582.1 872.9h0M457.7 963.2h0M519.2 980.6h0M454.9 920.3h0M430.1 868.3h0M473.2 940.1h0M545.8 840.7h0M509.4 817.8h0M516.2 903.3h0M503.6 834.1h0M451.5 944.1h0M577.3 841.4h0M511.7 836h0"/>
<path d="M590.9 868.3h0M453.1 954.2h0M455.9 834.2h0M475.8 873.1h0M537.7 884h0M472 850h0M582.8 879.6h0M555.1 785.5h0M591.9 857h0M490.4 928.1h0M440.2 848.9h0M508.3 864.8h0M592.9 854.3h0M523.8 895.4h0M590.9 811.8h0M478.3 973h0M579.7 797.8h0"/>
<path d="M463.1 899.9h0M467.2 941.2h0M558 930.1h0M466.1 936.1h0M489.1 900.2h0M520.2 855.8h0M458.5 831.3h0M536.7 800.7h0M551.1 844.4h0M422.4 857.9h0M471 920.1h0M477.2 873.9h0M473.7 835.6h0M487.7 868.2h0M561.8 825.6h0M597.4 881h0M456.4 909.4h0"/>
<path d="M518.5 867.4h0M502.1 874.6h0M479.9 892.1h0M574.6 886.5h0M484.7 849.6h0M557.1 829.9h0M568.8 815h0M539.8 792.7h0M543.1 748.3h0M508.5 835.8h0M597.5 790.2h0M541.1 750.9h0M576.7 895.3h0M471.9 966.5h0M535.3 742.5h0M546.7 919.5h0M551.3 746.4h0"/>
<path d="M492.8 857.3h0M470.7 837h0M464.5 933.6h0M547.1 752.2h0M581.9 804.4h0M460.8 951.3h0M460.9 874.2h0M499.2 910.6h0M433.6 887.8h0M572.3 850.4h0M439 903.3h0M575.3 837.9h0M430.3 862h0M475.5 831.4h0M483.9 849.4h0M515.2 932.9h0M600.6 853.4h0"/>
<path d="M533.9 813.1h0M561.2 812.7h0M568.9 803.3h0M447.4 917.9h0M532.1 878h0M459.6 839.3h0M419.5 867.2h0M458.9 918.5h0M593.5 876.1h0M508.5 875.7h0M539.9 868.1h0M511.8 906.2h0M589.6 813.6h0M459.3 876.2h0M519.3 896.4h0M454.1 898.5h0M449.5 922.3h0"/>
<path d="M431.5 854.9h0M571.7 863.4h0M493.7 872.7h0M496.1 916.2h0M530.8 960.6h0M589.5 874.3h0M453.6 893.2h0M448.4 939.2h0M564.9 831.9h0M570 953.5h0M551 808.8h0M512.3 844.2h0M433.5 920.2h0M577.5 810.8h0M488.6 913.5h0M544 735.5h0M531.4 839.4h0"/>
<path d="M541 848.3h0M536.8 841.1h0M574.4 850.9h0M562.8 865.9h0M474.4 913.7h0M552.7 890.6h0M449.7 856.6h0M575.1 876.7h0M514.8 925.6h0M508.8 897.7h0M551.4 750.8h0M517.2 899.9h0M518.7 870.9h0M546.9 898.6h0M558 838.3h0M592.5 848.3h0M498 843.2h0"/>
<path d="M527.4 866.1h0M489.8 867.7h0M470.2 854.7h0M527.5 958.2h0M486.8 870.8h0M586.2 879.2h0M513.6 875.7h0M537.2 901.5h0M454.5 835.3h0M543.3 804.9h0M507.7 885.7h0M451.3 887h0M486.9 825.4h0M457.4 948.4h0M536.8 736.2h0M504.2 830.2h0M431.5 875.8h0"/>
<path d="M550.2 747.8h0M550.7 850.5h0M463.8 849.4h0M589.2 861.9h0M441.9 889.4h0M552.6 897.8h0M535.7 796.5h0M504.1 894.4h0M479.5 839.9h0M437.6 917h0M510.6 973.7h0M495.3 873.1h0M453.4 913.5h0M481.3 864.9h0M449.1 900.5h0M549.8 928.1h0M519.9 888.2h0"/>
<path d="M531.3 887.3h0M533.7 906.7h0M589.8 825h0M533.2 878.3h0M446.5 946.8h0M580.9 800h0M439.3 874.9h0M546.8 753.6h0M529.8 971.7h0M471.3 924.7h0M453.6 875.7h0M472 936.1h0M571.7 817.3h0M435.6 914.8h0M530 966.4h0M468.3 851.1h0M439.4 893.2h0"/>
<path d="M545.4 813.7h0M486.6 823.9h0M570.5 870h0M515.5 938.2h0M538.6 957.1h0M432.7 902.1h0M539.6 895.3h0M471.9 882.8h0M426.4 891.5h0M537.7 852.9h0M547.3 876.6h0M547.5 904h0M441.5 841.7h0M522.8 895.3h0M519.3 814.4h0M479.9 919.7h0M528.5 815.3h0"/>
<path d="M549.3 843.5h0M556.1 783.5h0M585 852.6h0M534 866.8h0M543.1 973.4h0M575.1 838.9h0M545.7 826h0M468.8 906h0M517.8 900.9h0M539.4 795.2h0M594 817.7h0M512.2 862.8h0M451.7 909.7h0M592.5 841.9h0M500.7 914.5h0M474.2 917.6h0M454.2 923.2h0"/>
<path d="M568.9 821.3h0M544.7 737.9h0M439.6 878h0M528 728.2h0M507.7 910.4h0M513.7 856.6h0M509.8 850.8h0M504.6 972.3h0M594.9 861.7h0M515.6 829h0M427.8 849.2h0M481.3 883.6h0M441.9 877.9h0M590.4 881.1h0M454.9 902.7h0M484.6 847.7h0M447.1 879.7h0"/>
<path d="M473.7 959.4h0M512.3 976h0M497.3 854.8h0M525.3 809.7h0M467.6 900.2h0M515.5 846.8h0M481.4 826.4h0M569.6 837.5h0M557.1 884h0M480.7 908.6h0M529.8 821.3h0M459.2 833.5h0M522.4 958.2h0M514.2 885h0M547 930.7h0M568.2 792.9h0M447.5 908.9h0"/>
<path d="M540.4 798.9h0M556.4 887.8h0M565 816.9h0M510.6 898.5h0M519.4 960.2h0M470.8 954.9h0M561.7 835h0M512.1 982.1h0M533 853.7h0M543.1 853.6h0M465.5 889.2h0M544.9 733.9h0M492.4 889.9h0M548.3 832.5h0M444.1 859.8h0M556.6 795.3h0M437.9 891.7h0"/>
<path d="M494.8 872.6h0M455.3 928.3h0M464.4 854.3h0M557.8 846.6h0M570.6 852.3h0M489.4 877.2h0M503.1 825.9h0M558.3 877.4h0M508.5 822h0M559.9 890.4h0M486.6 855.6h0M529 852.9h0M490 842.5h0M596.6 865.3h0M476.1 887.8h0M481.9 966h0M455.8 834.2h0"/>
<path d="M496.7 824.7h0M449.5 900.4h0M448.7 871.8h0M591.8 813.1h0M466.5 968.3h0M500.1 878.8h0M537.3 863.4h0M550 863.5h0M529.6 821.8h0M471.4 903.4h0M441.6 937.8h0M592 861.3h0M451 936.8h0M540.5 743.2h0M588.3 864h0M508.8 843.5h0M593.6 871.1h0"/>
<path d="M520.9 851.1h0M531.7 725.3h0M518 890.4h0M533.4 803.2h0M595.6 866.1h0M472.9 892.3h0M412.1 876.8h0M508.8 883.6h0M511.9 842.1h0M483.2 898.3h0M432.4 852.1h0M516.5 839.8h0M540.5 883.7h0M579.1 864.1h0M479.8 909.6h0M452.5 917.4h0M562.6 779.8h0"/>
<path d="M446.1 862.7h0M509.8 945.8h0M433.6 908.1h0M553.5 843h0M486.8 887.4h0M419.9 898.9h0M433.3 858.4h0M547.9 786h0M524.4 971h0M560.1 955.2h0M592.8 855.7h0M430.8 847.1h0M506.3 965.9h0M464.9 850.5h0M464 942.2h0M509.9 963h0M499.2 820.9h0"/>
<path d="M529.6 846.7h0M491.5 854.7h0M447.4 878.6h0M451.6 863.5h0M511.8 857.8h0M566 802.4h0M490.1 964.7h0M532 947.6h0M456.6 839h0M571.3 832h0M463 945.4h0M448.2 922.7h0M536.7 842.9h0M571.4 849.8h0M551.6 828.9h0M440.3 937.9h0M534.7 871.3h0"/>
<path d="M513.7 894h0M547.2 859.9h0M598.6 849.8h0M591.4 844.5h0M553.2 796.9h0M556.9 846.1h0M527.7 961h0M593.6 876.1h0M506.7 986.1h0M548.4 884h0M499.1 918h0M528.5 725.5h0M449 937.8h0M465 898.7h0M484.3 923.2h0M508.9 851.9h0M520.5 897.2h0"/>
<path d="M442.2 876.2h0M569 853.3h0M465.3 965.5h0M478.2 841.3h0M421.8 898.2h0M528.4 811.6h0M503.1 845.2h0M537.6 856.5h0M577.9 794h0M491.9 845.3h0M477.1 958h0M488.9 903.5h0M495.6 942.3h0M505 971.1h0M563.3 876.3h0M457.6 939.6h0M462.8 874.2h0"/>
<path d="M486.3 907.1h0M596.8 856.2h0M591 804h0M537.6 900.8h0M479.1 889.2h0M529.4 852.4h0M510.1 846.4h0M524.9 967.1h0M578.7 797.4h0M477.4 936.8h0M517.1 896.4h0M581.2 854h0M560.2 825.8h0M488.1 899h0M477.8 886.4h0M570.9 811.9h0M538.7 739.8h0"/>
<path d="M463.2 918.5h0M484.2 936.7h0M541.8 962.3h0M420.4 897.2h0M527 806.2h0M572.1 861.8h0M447.7 837.7h0M433.2 886.4h0M539.3 844.8h0M460.2 929.9h0M514.5 888.1h0M472.7 868.5h0M579.7 816.1h0M589.3 819.9h0M438.6 874.9h0M423.2 876.1h0M490.1 896.3h0"/>
</g>
<g stroke="#dadaeb" stroke-opacity="0.75" stroke-width="7.0" stroke-linecap="round" fill="none">
<path d=""/>
</g>
<rect x="191.0" y="753.1" width="7" height="7" fill="#dba26e"/>
<rect x="217.3" y="766.8" width="7" height="7" fill="#dba26e"/>
<rect x="175.3" y="806.0" width="7" height="7" fill="#dba26e"/>
<rect x="217.3" y="825.9" width="7" height="7" fill="#dba26e"/>
<rect x="262.4" y="857.4" width="7" height="7" fill="#dba26e"/>
<rect x="262.4" y="865.6" width="7" height="7" fill="#dba26e"/>
<rect x="271.6" y="876.7" width="7" height="7" fill="#dba26e"/>
<rect x="266.7" y="880.0" width="7" height="7" fill="#dba26e"/>
<rect x="142.1" y="896.7" width="7" height="7" fill="#dba26e"/>
<rect x="142.1" y="919.2" width="7" height="7" fill="#dba26e"/>
<rect x="175.3" y="913.5" width="7" height="7" fill="#dba26e"/>
<rect x="143.6" y="969.3" width="7" height="7" fill="#dba26e"/>
<rect x="59.2" y="980.5" width="7" height="7" fill="#dba26e"/>
<rect x="193.9" y="935.5" width="7" height="7" fill="#dba26e"/>
<rect x="196.9" y="938.6" width="7" height="7" fill="#dba26e"/>
<rect x="202.7" y="955.4" width="7" height="7" fill="#dba26e"/>
<rect x="217.4" y="960.5" width="7" height="7" fill="#dba26e"/>
<rect x="217.4" y="975.4" width="7" height="7" fill="#dba26e"/>
<rect x="225.5" y="958.0" width="7" height="7" fill="#dba26e"/>
<rect x="225.5" y="974.4" width="7" height="7" fill="#dba26e"/>
<rect x="232.1" y="944.3" width="7" height="7" fill="#dba26e"/>
<rect x="235.8" y="955.0" width="7" height="7" fill="#dba26e"/>
<rect x="238.8" y="958.0" width="7" height="7" fill="#dba26e"/>
<rect x="244.4" y="946.8" width="7" height="7" fill="#dba26e"/>
<rect x="250.1" y="955.0" width="7" height="7" fill="#dba26e"/>
<rect x="241.9" y="971.3" width="7" height="7" fill="#dba26e"/>
<rect x="256.2" y="938.6" width="7" height="7" fill="#dba26e"/>
<rect x="266.4" y="941.3" width="7" height="7" fill="#dba26e"/>
<rect x="270.1" y="951.9" width="7" height="7" fill="#dba26e"/>
<rect x="271.5" y="955.0" width="7" height="7" fill="#dba26e"/>
<rect x="276.6" y="939.2" width="7" height="7" fill="#dba26e"/>
<rect x="262.3" y="893.7" width="7" height="7" fill="#dba26e"/>
<rect x="271.5" y="896.3" width="7" height="7" fill="#dba26e"/>
<rect x="263.4" y="975.4" width="7" height="7" fill="#dba26e"/>
<rect x="271.5" y="977.4" width="7" height="7" fill="#dba26e"/>
<rect x="284.4" y="983.6" width="7" height="7" fill="#dba26e"/>
<rect x="290.5" y="986.2" width="7" height="7" fill="#dba26e"/>
<rect x="290.5" y="946.8" width="7" height="7" fill="#dba26e"/>
<rect x="303.2" y="958.0" width="7" height="7" fill="#dba26e"/>
<rect x="307.3" y="958.0" width="7" height="7" fill="#dba26e"/>
<rect x="305.7" y="933.5" width="7" height="7" fill="#dba26e"/>
<rect x="313.8" y="935.5" width="7" height="7" fill="#dba26e"/>
<rect x="300.1" y="919.2" width="7" height="7" fill="#dba26e"/>
<rect x="315.5" y="916.1" width="7" height="7" fill="#dba26e"/>
<rect x="316.5" y="951.9" width="7" height="7" fill="#dba26e"/>
<rect x="316.5" y="963.8" width="7" height="7" fill="#dba26e"/>
<rect x="303.7" y="808.8" width="7" height="7" fill="#dba26e"/>
<rect x="305.8" y="848.3" width="7" height="7" fill="#dba26e"/>
<rect x="374.8" y="834.4" width="7" height="7" fill="#dba26e"/>
<rect x="358.5" y="858.9" width="7" height="7" fill="#dba26e"/>
<rect x="360.9" y="863.0" width="7" height="7" fill="#dba26e"/>
<rect x="373.6" y="859.3" width="7" height="7" fill="#dba26e"/>
<rect x="425.1" y="840.1" width="7" height="7" fill="#dba26e"/>
<rect x="411.7" y="845.0" width="7" height="7" fill="#dba26e"/>
<rect x="413.3" y="848.3" width="7" height="7" fill="#dba26e"/>
<rect x="401.0" y="862.6" width="7" height="7" fill="#dba26e"/>
<rect x="434.7" y="864.6" width="7" height="7" fill="#dba26e"/>
<rect x="390.8" y="865.0" width="7" height="7" fill="#dba26e"/>
<rect x="357.8" y="865.7" width="7" height="7" fill="#dba26e"/>
<rect x="321.0" y="874.5" width="7" height="7" fill="#dba26e"/>
<rect x="390.1" y="867.7" width="7" height="7" fill="#dba26e"/>
<rect x="425.3" y="867.7" width="7" height="7" fill="#dba26e"/>
<rect x="401.8" y="878.0" width="7" height="7" fill="#dba26e"/>
<rect x="365.0" y="880.0" width="7" height="7" fill="#dba26e"/>
<rect x="414.0" y="879.4" width="7" height="7" fill="#dba26e"/>
<rect x="419.1" y="883.1" width="7" height="7" fill="#dba26e"/>
<rect x="331.2" y="887.6" width="7" height="7" fill="#dba26e"/>
<rect x="337.4" y="887.2" width="7" height="7" fill="#dba26e"/>
<rect x="355.4" y="887.6" width="7" height="7" fill="#dba26e"/>
<rect x="402.8" y="884.1" width="7" height="7" fill="#dba26e"/>
<rect x="407.9" y="890.2" width="7" height="7" fill="#dba26e"/>
<rect x="318.0" y="896.4" width="7" height="7" fill="#dba26e"/>
<rect x="402.8" y="894.3" width="7" height="7" fill="#dba26e"/>
<rect x="403.8" y="902.5" width="7" height="7" fill="#dba26e"/>
<rect x="353.7" y="902.5" width="7" height="7" fill="#dba26e"/>
<rect x="333.3" y="904.5" width="7" height="7" fill="#dba26e"/>
<rect x="329.2" y="910.7" width="7" height="7" fill="#dba26e"/>
<rect x="353.7" y="907.6" width="7" height="7" fill="#dba26e"/>
<rect x="423.2" y="910.0" width="7" height="7" fill="#dba26e"/>
<rect x="339.4" y="923.9" width="7" height="7" fill="#dba26e"/>
<rect x="313.9" y="927.0" width="7" height="7" fill="#dba26e"/>
<rect x="339.4" y="933.1" width="7" height="7" fill="#dba26e"/>
<rect x="379.3" y="927.0" width="7" height="7" fill="#dba26e"/>
<rect x="378.2" y="934.2" width="7" height="7" fill="#dba26e"/>
<rect x="369.1" y="944.0" width="7" height="7" fill="#dba26e"/>
<rect x="383.4" y="957.7" width="7" height="7" fill="#dba26e"/>
<rect x="426.3" y="960.7" width="7" height="7" fill="#dba26e"/>
<rect x="356.2" y="986.5" width="7" height="7" fill="#dba26e"/>
<rect x="316.9" y="966.5" width="7" height="7" fill="#dba26e"/>
<rect x="479.6" y="885.1" width="7" height="7" fill="#dba26e"/>
<rect x="450.6" y="890.6" width="7" height="7" fill="#dba26e"/>
<rect x="441.8" y="899.4" width="7" height="7" fill="#dba26e"/>
<rect x="503.8" y="904.5" width="7" height="7" fill="#dba26e"/>
<rect x="484.7" y="930.5" width="7" height="7" fill="#dba26e"/>
<rect x="524.2" y="941.3" width="7" height="7" fill="#dba26e"/>
<rect x="514.4" y="949.5" width="7" height="7" fill="#dba26e"/>
<rect x="521.5" y="949.5" width="7" height="7" fill="#dba26e"/>
<rect x="561.0" y="946.4" width="7" height="7" fill="#dba26e"/>
<rect x="493.9" y="966.9" width="7" height="7" fill="#dba26e"/>
<rect x="477.6" y="968.9" width="7" height="7" fill="#dba26e"/>
<rect x="462.3" y="966.9" width="7" height="7" fill="#dba26e"/>
<rect x="509.3" y="974.0" width="7" height="7" fill="#dba26e"/>
<path d="M470.0 925.6L480.0 925.6L475.0 917.0Z" fill="#b4733f" stroke="none" stroke-width="0"/>
<path d="M468.3 933.8L478.3 933.8L473.3 925.2Z" fill="#b4733f" stroke="none" stroke-width="0"/>
<path d="M456.7 951.2L466.7 951.2L461.7 942.5Z" fill="#b4733f" stroke="none" stroke-width="0"/>
<path d="M473.6 955.3L483.6 955.3L478.6 946.6Z" fill="#b4733f" stroke="none" stroke-width="0"/>
<path d="M473.0 961.4L483.0 961.4L478.0 952.7Z" fill="#b4733f" stroke="none" stroke-width="0"/>
<path d="M339.6 865.5L349.6 865.5L344.6 874.1Z" fill="#5e2a0a" stroke="none" stroke-width="0"/>
<path d="M333.4 872.4L343.4 872.4L338.4 881.1Z" fill="#5e2a0a" stroke="none" stroke-width="0"/>
<path d="M362.0 877.7L372.0 877.7L367.0 886.4Z" fill="#5e2a0a" stroke="none" stroke-width="0"/>
<path d="M365.5 890.8L375.5 890.8L370.5 899.5Z" fill="#5e2a0a" stroke="none" stroke-width="0"/>
<path d="M327.3 894.1L337.3 894.1L332.3 902.8Z" fill="#5e2a0a" stroke="none" stroke-width="0"/>
<path d="M339.6 892.5L349.6 892.5L344.6 901.1Z" fill="#5e2a0a" stroke="none" stroke-width="0"/>
<path d="M339.6 899.6L349.6 899.6L344.6 908.3Z" fill="#5e2a0a" stroke="none" stroke-width="0"/>
<path d="M338.9 907.8L348.9 907.8L343.9 916.4Z" fill="#5e2a0a" stroke="none" stroke-width="0"/>
<path d="M303.2 910.9L313.2 910.9L308.2 919.5Z" fill="#5e2a0a" stroke="none" stroke-width="0"/>
<path d="M349.2 913.3L359.2 913.3L354.2 922.0Z" fill="#5e2a0a" stroke="none" stroke-width="0"/>
<path d="M362.0 911.3L372.0 911.3L367.0 919.9Z" fill="#5e2a0a" stroke="none" stroke-width="0"/>
<path d="M303.2 920.7L313.2 920.7L308.2 929.3Z" fill="#5e2a0a" stroke="none" stroke-width="0"/>
<path d="M366.1 922.1L376.1 922.1L371.1 930.8Z" fill="#5e2a0a" stroke="none" stroke-width="0"/>
<path d="M372.3 924.1L382.3 924.1L377.3 932.8Z" fill="#5e2a0a" stroke="none" stroke-width="0"/>
<path d="M380.4 919.4L390.4 919.4L385.4 928.1Z" fill="#5e2a0a" stroke="none" stroke-width="0"/>
<path d="M374.3 930.9L384.3 930.9L379.3 939.5Z" fill="#5e2a0a" stroke="none" stroke-width="0"/>
<path d="M388.6 922.1L398.6 922.1L393.6 930.8Z" fill="#5e2a0a" stroke="none" stroke-width="0"/>
<path d="M395.1 921.5L405.1 921.5L400.1 930.1Z" fill="#5e2a0a" stroke="none" stroke-width="0"/>
<path d="M402.3 917.0L412.3 917.0L407.3 925.6Z" fill="#5e2a0a" stroke="none" stroke-width="0"/>
<path d="M408.4 919.0L418.4 919.0L413.4 927.7Z" fill="#5e2a0a" stroke="none" stroke-width="0"/>
<path d="M405.4 924.1L415.4 924.1L410.4 932.8Z" fill="#5e2a0a" stroke="none" stroke-width="0"/>
<path d="M421.7 917.0L431.7 917.0L426.7 925.6Z" fill="#5e2a0a" stroke="none" stroke-width="0"/>
<path d="M422.7 923.1L432.7 923.1L427.7 931.8Z" fill="#5e2a0a" stroke="none" stroke-width="0"/>
<path d="M415.6 927.2L425.6 927.2L420.6 935.9Z" fill="#5e2a0a" stroke="none" stroke-width="0"/>
<path d="M425.8 929.2L435.8 929.2L430.8 937.9Z" fill="#5e2a0a" stroke="none" stroke-width="0"/>
<path d="M405.4 932.3L415.4 932.3L410.4 941.0Z" fill="#5e2a0a" stroke="none" stroke-width="0"/>
<path d="M410.5 933.3L420.5 933.3L415.5 942.0Z" fill="#5e2a0a" stroke="none" stroke-width="0"/>
<path d="M337.9 938.4L347.9 938.4L342.9 947.1Z" fill="#5e2a0a" stroke="none" stroke-width="0"/>
<path d="M347.7 941.5L357.7 941.5L352.7 950.2Z" fill="#5e2a0a" stroke="none" stroke-width="0"/>
<path d="M378.8 939.1L388.8 939.1L383.8 947.7Z" fill="#5e2a0a" stroke="none" stroke-width="0"/>
<path d="M384.9 938.4L394.9 938.4L389.9 947.1Z" fill="#5e2a0a" stroke="none" stroke-width="0"/>
<path d="M396.2 938.4L406.2 938.4L401.2 947.1Z" fill="#5e2a0a" stroke="none" stroke-width="0"/>
<path d="M399.2 941.5L409.2 941.5L404.2 950.2Z" fill="#5e2a0a" stroke="none" stroke-width="0"/>
<path d="M384.5 944.6L394.5 944.6L389.5 953.2Z" fill="#5e2a0a" stroke="none" stroke-width="0"/>
<path d="M425.8 938.4L435.8 938.4L430.8 947.1Z" fill="#5e2a0a" stroke="none" stroke-width="0"/>
<path d="M422.7 946.6L432.7 946.6L427.7 955.3Z" fill="#5e2a0a" stroke="none" stroke-width="0"/>
<path d="M364.5 952.7L374.5 952.7L369.5 961.4Z" fill="#5e2a0a" stroke="none" stroke-width="0"/>
<path d="M383.9 955.4L393.9 955.4L388.9 964.1Z" fill="#5e2a0a" stroke="none" stroke-width="0"/>
<path d="M393.1 953.8L403.1 953.8L398.1 962.4Z" fill="#5e2a0a" stroke="none" stroke-width="0"/>
<path d="M402.9 952.7L412.9 952.7L407.9 961.4Z" fill="#5e2a0a" stroke="none" stroke-width="0"/>
<path d="M401.3 958.9L411.3 958.9L406.3 967.5Z" fill="#5e2a0a" stroke="none" stroke-width="0"/>
<path d="M336.9 957.4L346.9 957.4L341.9 966.1Z" fill="#5e2a0a" stroke="none" stroke-width="0"/>
<path d="M429.9 959.9L439.9 959.9L434.9 968.6Z" fill="#5e2a0a" stroke="none" stroke-width="0"/>
<path d="M394.1 966.0L404.1 966.0L399.1 974.7Z" fill="#5e2a0a" stroke="none" stroke-width="0"/>
<path d="M405.4 971.1L415.4 971.1L410.4 979.8Z" fill="#5e2a0a" stroke="none" stroke-width="0"/>
<path d="M377.8 972.2L387.8 972.2L382.8 980.8Z" fill="#5e2a0a" stroke="none" stroke-width="0"/>
<path d="M339.6 974.2L349.6 974.2L344.6 982.9Z" fill="#5e2a0a" stroke="none" stroke-width="0"/>
<path d="M434.0 910.9L444.0 910.9L439.0 919.5Z" fill="#5e2a0a" stroke="none" stroke-width="0"/>
<path d="M312.4 981.6L322.4 981.6L317.4 990.3Z" fill="#5e2a0a" stroke="none" stroke-width="0"/>
<path d="M349.8 984.5L359.8 984.5L354.8 993.1Z" fill="#5e2a0a" stroke="none" stroke-width="0"/>
<path d="M353.9 997.3L363.9 997.3L358.9 1006.0Z" fill="#5e2a0a" stroke="none" stroke-width="0"/>
<path d="M353.9 1011.7L363.9 1011.7L358.9 1020.3Z" fill="#5e2a0a" stroke="none" stroke-width="0"/>
<path d="M365.5 1009.0L375.5 1009.0L370.5 1017.7Z" fill="#5e2a0a" stroke="none" stroke-width="0"/>
<path d="M372.3 979.0L382.3 979.0L377.3 987.6Z" fill="#5e2a0a" stroke="none" stroke-width="0"/>
<path d="M393.1 967.7L403.1 967.7L398.1 976.4Z" fill="#5e2a0a" stroke="none" stroke-width="0"/>
<path d="M397.2 976.9L407.2 976.9L402.2 985.6Z" fill="#5e2a0a" stroke="none" stroke-width="0"/>
<path d="M389.0 981.0L399.0 981.0L394.0 989.7Z" fill="#5e2a0a" stroke="none" stroke-width="0"/>
<path d="M375.7 986.1L385.7 986.1L380.7 994.8Z" fill="#5e2a0a" stroke="none" stroke-width="0"/>
<path d="M397.2 983.0L407.2 983.0L402.2 991.7Z" fill="#5e2a0a" stroke="none" stroke-width="0"/>
<path d="M405.4 977.9L415.4 977.9L410.4 986.6Z" fill="#5e2a0a" stroke="none" stroke-width="0"/>
<path d="M400.3 986.1L410.3 986.1L405.3 994.8Z" fill="#5e2a0a" stroke="none" stroke-width="0"/>
<path d="M392.1 999.4L402.1 999.4L397.1 1008.1Z" fill="#5e2a0a" stroke="none" stroke-width="0"/>
<path d="M401.3 1003.5L411.3 1003.5L406.3 1012.1Z" fill="#5e2a0a" stroke="none" stroke-width="0"/>
<path d="M378.8 1009.6L388.8 1009.6L383.8 1018.3Z" fill="#5e2a0a" stroke="none" stroke-width="0"/>
<path d="M384.9 1008.6L394.9 1008.6L389.9 1017.2Z" fill="#5e2a0a" stroke="none" stroke-width="0"/>
<path d="M374.7 1013.7L384.7 1013.7L379.7 1022.4Z" fill="#5e2a0a" stroke="none" stroke-width="0"/>
<path d="M380.8 1014.7L390.8 1014.7L385.8 1023.4Z" fill="#5e2a0a" stroke="none" stroke-width="0"/>
<path d="M385.9 1014.7L395.9 1014.7L390.9 1023.4Z" fill="#5e2a0a" stroke="none" stroke-width="0"/>
<path d="M375.7 1018.4L385.7 1018.4L380.7 1027.1Z" fill="#5e2a0a" stroke="none" stroke-width="0"/>
<path d="M403.3 1015.7L413.3 1015.7L408.3 1024.4Z" fill="#5e2a0a" stroke="none" stroke-width="0"/>
<path d="M391.1 1026.0L401.1 1026.0L396.1 1034.6Z" fill="#5e2a0a" stroke="none" stroke-width="0"/>
<path d="M401.3 1024.9L411.3 1024.9L406.3 1033.6Z" fill="#5e2a0a" stroke="none" stroke-width="0"/>
<path d="M383.3 1035.2L393.3 1035.2L388.3 1043.8Z" fill="#5e2a0a" stroke="none" stroke-width="0"/>
<path d="M383.3 1042.3L393.3 1042.3L388.3 1051.0Z" fill="#5e2a0a" stroke="none" stroke-width="0"/>
<path d="M338.9 1049.1L348.9 1049.1L343.9 1057.7Z" fill="#5e2a0a" stroke="none" stroke-width="0"/>
<path d="M345.1 1048.4L355.1 1048.4L350.1 1057.1Z" fill="#5e2a0a" stroke="none" stroke-width="0"/>
<path d="M319.9 1074.0L329.9 1074.0L324.9 1082.6Z" fill="#5e2a0a" stroke="none" stroke-width="0"/>
<path d="M409.4 1020.9L419.4 1020.9L414.4 1029.5Z" fill="#5e2a0a" stroke="none" stroke-width="0"/>
<path d="M414.6 1021.9L424.6 1021.9L419.6 1030.5Z" fill="#5e2a0a" stroke="none" stroke-width="0"/>
<path d="M419.7 1015.7L429.7 1015.7L424.7 1024.4Z" fill="#5e2a0a" stroke="none" stroke-width="0"/>
<path d="M425.8 1013.7L435.8 1013.7L430.8 1022.4Z" fill="#5e2a0a" stroke="none" stroke-width="0"/>
<path d="M421.7 1019.8L431.7 1019.8L426.7 1028.5Z" fill="#5e2a0a" stroke="none" stroke-width="0"/>
<path d="M412.5 1028.0L422.5 1028.0L417.5 1036.7Z" fill="#5e2a0a" stroke="none" stroke-width="0"/>
<path d="M418.6 1027.0L428.6 1027.0L423.6 1035.6Z" fill="#5e2a0a" stroke="none" stroke-width="0"/>
<path d="M424.8 1024.9L434.8 1024.9L429.8 1033.6Z" fill="#5e2a0a" stroke="none" stroke-width="0"/>
<path d="M415.6 1033.1L425.6 1033.1L420.6 1041.8Z" fill="#5e2a0a" stroke="none" stroke-width="0"/>
<path d="M421.7 1034.1L431.7 1034.1L426.7 1042.8Z" fill="#5e2a0a" stroke="none" stroke-width="0"/>
<path d="M426.8 1033.1L436.8 1033.1L431.8 1041.8Z" fill="#5e2a0a" stroke="none" stroke-width="0"/>
<path d="M409.4 1040.3L419.4 1040.3L414.4 1048.9Z" fill="#5e2a0a" stroke="none" stroke-width="0"/>
<path d="M422.7 1040.3L432.7 1040.3L427.7 1048.9Z" fill="#5e2a0a" stroke="none" stroke-width="0"/>
<path d="M419.7 976.9L429.7 976.9L424.7 985.6Z" fill="#5e2a0a" stroke="none" stroke-width="0"/>
<path d="M425.8 975.9L435.8 975.9L430.8 984.5Z" fill="#5e2a0a" stroke="none" stroke-width="0"/>
<path d="M430.9 973.8L440.9 973.8L435.9 982.5Z" fill="#5e2a0a" stroke="none" stroke-width="0"/>
<path d="M422.7 983.0L432.7 983.0L427.7 991.7Z" fill="#5e2a0a" stroke="none" stroke-width="0"/>
<path d="M428.9 982.0L438.9 982.0L433.9 990.7Z" fill="#5e2a0a" stroke="none" stroke-width="0"/>
<path d="M434.0 980.0L444.0 980.0L439.0 988.6Z" fill="#5e2a0a" stroke="none" stroke-width="0"/>
<path d="M425.8 989.2L435.8 989.2L430.8 997.8Z" fill="#5e2a0a" stroke="none" stroke-width="0"/>
<path d="M431.9 988.2L441.9 988.2L436.9 996.8Z" fill="#5e2a0a" stroke="none" stroke-width="0"/>
<path d="M429.9 996.3L439.9 996.3L434.9 1005.0Z" fill="#5e2a0a" stroke="none" stroke-width="0"/>
<path d="M434.0 994.3L444.0 994.3L439.0 1002.9Z" fill="#5e2a0a" stroke="none" stroke-width="0"/>
<path d="M435.0 1018.8L445.0 1018.8L440.0 1027.5Z" fill="#5e2a0a" stroke="none" stroke-width="0"/>
<path d="M472.4 984.1L482.4 984.1L477.4 992.7Z" fill="#5e2a0a" stroke="none" stroke-width="0"/>
<path d="M486.3 984.1L496.3 984.1L491.3 992.7Z" fill="#5e2a0a" stroke="none" stroke-width="0"/>
<path d="M483.2 989.2L493.2 989.2L488.2 997.8Z" fill="#5e2a0a" stroke="none" stroke-width="0"/>
<path d="M488.8 996.3L498.8 996.3L493.8 1005.0Z" fill="#5e2a0a" stroke="none" stroke-width="0"/>
<path d="M502.3 990.6L512.3 990.6L507.3 999.3Z" fill="#5e2a0a" stroke="none" stroke-width="0"/>
<path d="M508.4 983.7L518.4 983.7L513.4 992.3Z" fill="#5e2a0a" stroke="none" stroke-width="0"/>
<path d="M483.2 968.7L493.2 968.7L488.2 977.4Z" fill="#5e2a0a" stroke="none" stroke-width="0"/>
<path d="M464.9 966.7L474.9 966.7L469.9 975.4Z" fill="#5e2a0a" stroke="none" stroke-width="0"/>
<path d="M428.7 1013.1L438.7 1013.1L433.7 1021.7Z" fill="#5e2a0a" stroke="none" stroke-width="0"/>
<path d="M450.5 1014.7L460.5 1014.7L455.5 1023.4Z" fill="#5e2a0a" stroke="none" stroke-width="0"/>
<path d="M461.4 1014.7L471.4 1014.7L466.4 1023.4Z" fill="#5e2a0a" stroke="none" stroke-width="0"/>
<path d="M462.8 1018.4L472.8 1018.4L467.8 1027.1Z" fill="#5e2a0a" stroke="none" stroke-width="0"/>
<path d="M437.3 1020.4L447.3 1020.4L442.3 1029.1Z" fill="#5e2a0a" stroke="none" stroke-width="0"/>
<path d="M472.4 1021.3L482.4 1021.3L477.4 1029.9Z" fill="#5e2a0a" stroke="none" stroke-width="0"/>
<path d="M427.0 1022.9L437.0 1022.9L432.0 1031.6Z" fill="#5e2a0a" stroke="none" stroke-width="0"/>
<path d="M473.0 1029.0L483.0 1029.0L478.0 1037.7Z" fill="#5e2a0a" stroke="none" stroke-width="0"/>
<path d="M427.0 1035.2L437.0 1035.2L432.0 1043.8Z" fill="#5e2a0a" stroke="none" stroke-width="0"/>
<path d="M486.7 1037.2L496.7 1037.2L491.7 1045.9Z" fill="#5e2a0a" stroke="none" stroke-width="0"/>
<path d="M503.1 1042.9L513.1 1042.9L508.1 1051.6Z" fill="#5e2a0a" stroke="none" stroke-width="0"/>
<path d="M522.7 1045.4L532.7 1045.4L527.7 1054.0Z" fill="#5e2a0a" stroke="none" stroke-width="0"/>
<path d="M499.0 1051.5L509.0 1051.5L504.0 1060.2Z" fill="#5e2a0a" stroke="none" stroke-width="0"/>
<path d="M505.7 1051.5L515.7 1051.5L510.7 1060.2Z" fill="#5e2a0a" stroke="none" stroke-width="0"/>
<path d="M546.0 1021.9L556.0 1021.9L551.0 1030.5Z" fill="#5e2a0a" stroke="none" stroke-width="0"/>
<path d="M488.8 1073.6L498.8 1073.6L493.8 1082.2Z" fill="#5e2a0a" stroke="none" stroke-width="0"/>
<path d="M498.6 1079.1L508.6 1079.1L503.6 1087.8Z" fill="#5e2a0a" stroke="none" stroke-width="0"/>
<path d="M515.9 1079.1L525.9 1079.1L520.9 1087.8Z" fill="#5e2a0a" stroke="none" stroke-width="0"/>
<path d="M429.1 971.8L439.1 971.8L434.1 980.5Z" fill="#5e2a0a" stroke="none" stroke-width="0"/>
<path d="M435.2 969.8L445.2 969.8L440.2 978.4Z" fill="#5e2a0a" stroke="none" stroke-width="0"/>
<path d="M441.3 967.7L451.3 967.7L446.3 976.4Z" fill="#5e2a0a" stroke="none" stroke-width="0"/>
<path d="M447.5 970.8L457.5 970.8L452.5 979.4Z" fill="#5e2a0a" stroke="none" stroke-width="0"/>
<path d="M453.6 973.8L463.6 973.8L458.6 982.5Z" fill="#5e2a0a" stroke="none" stroke-width="0"/>
<path d="M431.1 977.9L441.1 977.9L436.1 986.6Z" fill="#5e2a0a" stroke="none" stroke-width="0"/>
<path d="M437.3 976.9L447.3 976.9L442.3 985.6Z" fill="#5e2a0a" stroke="none" stroke-width="0"/>
<path d="M443.4 979.0L453.4 979.0L448.4 987.6Z" fill="#5e2a0a" stroke="none" stroke-width="0"/>
<path d="M449.5 980.0L459.5 980.0L454.5 988.6Z" fill="#5e2a0a" stroke="none" stroke-width="0"/>
<path d="M429.1 985.1L439.1 985.1L434.1 993.7Z" fill="#5e2a0a" stroke="none" stroke-width="0"/>
<path d="M435.2 986.1L445.2 986.1L440.2 994.8Z" fill="#5e2a0a" stroke="none" stroke-width="0"/>
<path d="M441.3 987.1L451.3 987.1L446.3 995.8Z" fill="#5e2a0a" stroke="none" stroke-width="0"/>
<path d="M447.5 986.1L457.5 986.1L452.5 994.8Z" fill="#5e2a0a" stroke="none" stroke-width="0"/>
<path d="M455.7 983.0L465.7 983.0L460.7 991.7Z" fill="#5e2a0a" stroke="none" stroke-width="0"/>
<path d="M428.1 992.2L438.1 992.2L433.1 1000.9Z" fill="#5e2a0a" stroke="none" stroke-width="0"/>
<path d="M440.3 995.3L450.3 995.3L445.3 1004.0Z" fill="#5e2a0a" stroke="none" stroke-width="0"/>
<path d="M446.5 992.2L456.5 992.2L451.5 1000.9Z" fill="#5e2a0a" stroke="none" stroke-width="0"/>
<path d="M452.6 991.2L462.6 991.2L457.6 999.9Z" fill="#5e2a0a" stroke="none" stroke-width="0"/>
<path d="M458.7 994.3L468.7 994.3L463.7 1002.9Z" fill="#5e2a0a" stroke="none" stroke-width="0"/>
<path d="M463.8 996.3L473.8 996.3L468.8 1005.0Z" fill="#5e2a0a" stroke="none" stroke-width="0"/>
<path d="M432.2 1000.4L442.2 1000.4L437.2 1009.1Z" fill="#5e2a0a" stroke="none" stroke-width="0"/>
<path d="M438.3 999.4L448.3 999.4L443.3 1008.1Z" fill="#5e2a0a" stroke="none" stroke-width="0"/>
<path d="M457.7 998.4L467.7 998.4L462.7 1007.0Z" fill="#5e2a0a" stroke="none" stroke-width="0"/>
<path d="M462.8 998.4L472.8 998.4L467.8 1007.0Z" fill="#5e2a0a" stroke="none" stroke-width="0"/>
<path d="M436.2 912.9L446.2 912.9L441.2 921.6Z" fill="#5e2a0a" stroke="none" stroke-width="0"/>
<path d="M484.3 911.9L494.3 911.9L489.3 920.5Z" fill="#5e2a0a" stroke="none" stroke-width="0"/>
<path d="M498.2 912.9L508.2 912.9L503.2 921.6Z" fill="#5e2a0a" stroke="none" stroke-width="0"/>
<path d="M507.8 905.7L517.8 905.7L512.8 914.4Z" fill="#5e2a0a" stroke="none" stroke-width="0"/>
<path d="M546.6 903.7L556.6 903.7L551.6 912.4Z" fill="#5e2a0a" stroke="none" stroke-width="0"/>
<path d="M453.6 935.8L463.6 935.8L458.6 944.4Z" fill="#5e2a0a" stroke="none" stroke-width="0"/>
<path d="M440.3 954.8L450.3 954.8L445.3 963.5Z" fill="#5e2a0a" stroke="none" stroke-width="0"/>
<path d="M437.3 964.0L447.3 964.0L442.3 972.6Z" fill="#5e2a0a" stroke="none" stroke-width="0"/>
<path d="M445.4 969.1L455.4 969.1L450.4 977.8Z" fill="#5e2a0a" stroke="none" stroke-width="0"/>
<path d="M453.6 972.2L463.6 972.2L458.6 980.8Z" fill="#5e2a0a" stroke="none" stroke-width="0"/>
<path d="M465.5 965.0L475.5 965.0L470.5 973.7Z" fill="#5e2a0a" stroke="none" stroke-width="0"/>
<path d="M483.9 964.0L493.9 964.0L488.9 972.6Z" fill="#5e2a0a" stroke="none" stroke-width="0"/>
<path d="M431.1 972.2L441.1 972.2L436.1 980.8Z" fill="#5e2a0a" stroke="none" stroke-width="0"/>
<path d="M425.0 917.0L435.0 917.0L430.0 925.6Z" fill="#5e2a0a" stroke="none" stroke-width="0"/>
<path d="M344.7 800.4L354.7 800.4L349.7 809.1Z" fill="#5e2a0a" stroke="none" stroke-width="0"/>
<path d="M302.6 832.5L312.6 832.5L307.6 841.2Z" fill="#5e2a0a" stroke="none" stroke-width="0"/>
<path d="M280.3 933.1L290.3 933.1L285.3 941.7Z" fill="#5e2a0a" stroke="none" stroke-width="0"/>
<path d="M303.3 909.2L313.3 909.2L308.3 917.8Z" fill="#5e2a0a" stroke="none" stroke-width="0"/>
<path d="M303.3 913.3L313.3 913.3L308.3 921.9Z" fill="#5e2a0a" stroke="none" stroke-width="0"/>
<path d="M301.7 921.4L311.7 921.4L306.7 930.1Z" fill="#5e2a0a" stroke="none" stroke-width="0"/>
<path d="M242.4 975.2L252.4 975.2L247.4 983.8Z" fill="#5e2a0a" stroke="none" stroke-width="0"/>
<path d="M596.8 1015.3L606.8 1015.3L601.8 1023.9Z" fill="#5e2a0a" stroke="none" stroke-width="0"/>
<path d="M426.4 973.4L436.4 973.4L431.4 982.1Z" fill="#5e2a0a" stroke="none" stroke-width="0"/>
<path d="M433.0 973.4L443.0 973.4L438.0 982.1Z" fill="#5e2a0a" stroke="none" stroke-width="0"/>
<path d="M438.8 973.4L448.8 973.4L443.8 982.1Z" fill="#5e2a0a" stroke="none" stroke-width="0"/>
<path d="M445.4 973.4L455.4 973.4L450.4 982.1Z" fill="#5e2a0a" stroke="none" stroke-width="0"/>
<path d="M451.9 973.4L461.9 973.4L456.9 982.1Z" fill="#5e2a0a" stroke="none" stroke-width="0"/>
<path d="M421.3 979.2L431.3 979.2L426.3 987.9Z" fill="#5e2a0a" stroke="none" stroke-width="0"/>
<path d="M428.6 979.2L438.6 979.2L433.6 987.9Z" fill="#5e2a0a" stroke="none" stroke-width="0"/>
<path d="M441.7 979.2L451.7 979.2L446.7 987.9Z" fill="#5e2a0a" stroke="none" stroke-width="0"/>
<path d="M454.9 979.2L464.9 979.2L459.9 987.9Z" fill="#5e2a0a" stroke="none" stroke-width="0"/>
<path d="M424.2 985.1L434.2 985.1L429.2 993.7Z" fill="#5e2a0a" stroke="none" stroke-width="0"/>
<path d="M431.5 985.1L441.5 985.1L436.5 993.7Z" fill="#5e2a0a" stroke="none" stroke-width="0"/>
<path d="M438.1 985.1L448.1 985.1L443.1 993.7Z" fill="#5e2a0a" stroke="none" stroke-width="0"/>
<path d="M444.6 985.1L454.6 985.1L449.6 993.7Z" fill="#5e2a0a" stroke="none" stroke-width="0"/>
<path d="M451.2 985.1L461.2 985.1L456.2 993.7Z" fill="#5e2a0a" stroke="none" stroke-width="0"/>
<path d="M435.9 990.9L445.9 990.9L440.9 999.6Z" fill="#5e2a0a" stroke="none" stroke-width="0"/>
<path d="M442.4 990.9L452.4 990.9L447.4 999.6Z" fill="#5e2a0a" stroke="none" stroke-width="0"/>
<path d="M449.0 990.9L459.0 990.9L454.0 999.6Z" fill="#5e2a0a" stroke="none" stroke-width="0"/>
<path d="M456.3 990.9L466.3 990.9L461.3 999.6Z" fill="#5e2a0a" stroke="none" stroke-width="0"/>
<path d="M460.7 990.9L470.7 990.9L465.7 999.6Z" fill="#5e2a0a" stroke="none" stroke-width="0"/>
<path d="M437.3 996.8L447.3 996.8L442.3 1005.4Z" fill="#5e2a0a" stroke="none" stroke-width="0"/>
<path d="M459.2 996.8L469.2 996.8L464.2 1005.4Z" fill="#5e2a0a" stroke="none" stroke-width="0"/>
<path d="M438.8 967.6L448.8 967.6L443.8 976.2Z" fill="#5e2a0a" stroke="none" stroke-width="0"/>
<path d="M444.6 967.6L454.6 967.6L449.6 976.2Z" fill="#5e2a0a" stroke="none" stroke-width="0"/>
<path d="M405.9 980.0L415.9 980.0L410.9 988.6Z" fill="#5e2a0a" stroke="none" stroke-width="0"/>
<path d="M484.1 987.3L494.1 987.3L489.1 995.9Z" fill="#5e2a0a" stroke="none" stroke-width="0"/>
<path d="M402.3 1000.4L412.3 1000.4L407.3 1009.1Z" fill="#5e2a0a" stroke="none" stroke-width="0"/>
<path d="M422.0 1014.3L432.0 1014.3L427.0 1022.9Z" fill="#5e2a0a" stroke="none" stroke-width="0"/>
<path d="M416.9 1029.6L426.9 1029.6L421.9 1038.3Z" fill="#5e2a0a" stroke="none" stroke-width="0"/>
<path d="M422.7 1031.1L432.7 1031.1L427.7 1039.7Z" fill="#5e2a0a" stroke="none" stroke-width="0"/>
<path d="M411.8 1033.3L421.8 1033.3L416.8 1041.9Z" fill="#5e2a0a" stroke="none" stroke-width="0"/>
<path d="M418.4 1036.2L428.4 1036.2L423.4 1044.8Z" fill="#5e2a0a" stroke="none" stroke-width="0"/>
<path d="M393.6 922.4L403.6 922.4L398.6 931.0Z" fill="#5e2a0a" stroke="none" stroke-width="0"/>
<path d="M399.5 917.3L409.5 917.3L404.5 925.9Z" fill="#5e2a0a" stroke="none" stroke-width="0"/>
<path d="M406.8 916.5L416.8 916.5L411.8 925.2Z" fill="#5e2a0a" stroke="none" stroke-width="0"/>
<path d="M403.8 922.4L413.8 922.4L408.8 931.0Z" fill="#5e2a0a" stroke="none" stroke-width="0"/>
<path d="M397.3 942.1L407.3 942.1L402.3 950.8Z" fill="#5e2a0a" stroke="none" stroke-width="0"/>
<path d="M424.3 934.1L434.3 934.1L429.3 942.7Z" fill="#5e2a0a" stroke="none" stroke-width="0"/>
<circle cx="113.4" cy="946.2" r="4.1" fill="#109c72" stroke="#000" stroke-width="1.1"/>
<circle cx="171.2" cy="956.4" r="4.1" fill="#109c72" stroke="#000" stroke-width="1.1"/>
<circle cx="184.3" cy="956.8" r="4.1" fill="#109c72" stroke="#000" stroke-width="1.1"/>
<circle cx="139.3" cy="978.3" r="4.1" fill="#109c72" stroke="#000" stroke-width="1.1"/>
<circle cx="232.1" cy="908.4" r="4.1" fill="#109c72" stroke="#000" stroke-width="1.1"/>
<circle cx="238.9" cy="936.0" r="4.1" fill="#109c72" stroke="#000" stroke-width="1.1"/>
<circle cx="264.2" cy="972.8" r="4.1" fill="#109c72" stroke="#000" stroke-width="1.1"/>
<circle cx="301.0" cy="952.3" r="4.1" fill="#109c72" stroke="#000" stroke-width="1.1"/>
<circle cx="308.8" cy="896.1" r="4.1" fill="#109c72" stroke="#000" stroke-width="1.1"/>
<circle cx="313.9" cy="927.2" r="4.1" fill="#109c72" stroke="#000" stroke-width="1.1"/>
<circle cx="319.0" cy="910.4" r="4.1" fill="#109c72" stroke="#000" stroke-width="1.1"/>
<circle cx="189.0" cy="977.5" r="4.1" fill="#56b4e9" stroke="#000" stroke-width="1.1"/>
<circle cx="206.2" cy="985.0" r="4.1" fill="#56b4e9" stroke="#000" stroke-width="1.1"/>
<circle cx="226.6" cy="965.2" r="4.1" fill="#56b4e9" stroke="#000" stroke-width="1.1"/>
<circle cx="232.1" cy="968.3" r="4.1" fill="#56b4e9" stroke="#000" stroke-width="1.1"/>
<circle cx="251.5" cy="963.6" r="4.1" fill="#56b4e9" stroke="#000" stroke-width="1.1"/>
<circle cx="226.6" cy="979.5" r="4.1" fill="#56b4e9" stroke="#000" stroke-width="1.1"/>
<circle cx="256.6" cy="978.9" r="4.1" fill="#56b4e9" stroke="#000" stroke-width="1.1"/>
<circle cx="242.3" cy="986.5" r="4.1" fill="#56b4e9" stroke="#000" stroke-width="1.1"/>
<circle cx="272.4" cy="990.1" r="4.1" fill="#56b4e9" stroke="#000" stroke-width="1.1"/>
<circle cx="272.4" cy="993.2" r="4.1" fill="#56b4e9" stroke="#000" stroke-width="1.1"/>
<circle cx="298.9" cy="998.3" r="4.1" fill="#56b4e9" stroke="#000" stroke-width="1.1"/>
<circle cx="294.4" cy="1009.6" r="4.1" fill="#56b4e9" stroke="#000" stroke-width="1.1"/>
<circle cx="301.0" cy="998.6" r="4.1" fill="#56b4e9" stroke="#000" stroke-width="1.1"/>
<circle cx="371.9" cy="973.1" r="4.1" fill="#e69f00" stroke="#000" stroke-width="1.1"/>
<circle cx="418.1" cy="972.5" r="4.1" fill="#e69f00" stroke="#000" stroke-width="1.1"/>
<circle cx="415.5" cy="985.9" r="4.1" fill="#e69f00" stroke="#000" stroke-width="1.1"/>
<circle cx="384.8" cy="996.6" r="4.1" fill="#e69f00" stroke="#000" stroke-width="1.1"/>
<circle cx="404.2" cy="1000.7" r="4.1" fill="#e69f00" stroke="#000" stroke-width="1.1"/>
<circle cx="393.6" cy="1006.8" r="4.1" fill="#e69f00" stroke="#000" stroke-width="1.1"/>
<circle cx="403.8" cy="1012.9" r="4.1" fill="#e69f00" stroke="#000" stroke-width="1.1"/>
</g>
<rect x="62.7" y="601.6" width="621.6" height="506.7" fill="none" stroke="#111" stroke-width="1.5"/>
<text transform="translate(63.1,1131.2) scale(0.987,1)" font-size="20.4" text-anchor="middle">0</text>
<line x1="200.8" y1="1108.3" x2="200.8" y2="1101.6" stroke="#111" stroke-width="1.4"/>
<line x1="200.8" y1="601.6" x2="200.8" y2="608.3" stroke="#111" stroke-width="1.4"/>
<text transform="translate(201.2,1131.2) scale(0.987,1)" font-size="20.4" text-anchor="middle">1</text>
<line x1="338.9" y1="1108.3" x2="338.9" y2="1101.6" stroke="#111" stroke-width="1.4"/>
<line x1="338.9" y1="601.6" x2="338.9" y2="608.3" stroke="#111" stroke-width="1.4"/>
<text transform="translate(339.3,1131.2) scale(0.987,1)" font-size="20.4" text-anchor="middle">2</text>
<line x1="477.0" y1="1108.3" x2="477.0" y2="1101.6" stroke="#111" stroke-width="1.4"/>
<line x1="477.0" y1="601.6" x2="477.0" y2="608.3" stroke="#111" stroke-width="1.4"/>
<text transform="translate(477.4,1131.2) scale(0.987,1)" font-size="20.4" text-anchor="middle">3</text>
<line x1="615.1" y1="1108.3" x2="615.1" y2="1101.6" stroke="#111" stroke-width="1.4"/>
<line x1="615.1" y1="601.6" x2="615.1" y2="608.3" stroke="#111" stroke-width="1.4"/>
<text transform="translate(615.5,1131.2) scale(0.987,1)" font-size="20.4" text-anchor="middle">4</text>
<text transform="translate(54.3,1115.1) scale(0.987,1)" font-size="20.4" text-anchor="end">−2</text>
<line x1="62.7" y1="1052.1" x2="69.4" y2="1052.1" stroke="#111" stroke-width="1.4"/>
<line x1="684.3" y1="1052.1" x2="677.6" y2="1052.1" stroke="#111" stroke-width="1.4"/>
<text transform="translate(54.3,1058.9) scale(0.987,1)" font-size="20.4" text-anchor="end">0</text>
<line x1="62.7" y1="995.9" x2="69.4" y2="995.9" stroke="#111" stroke-width="1.4"/>
<line x1="684.3" y1="995.9" x2="677.6" y2="995.9" stroke="#111" stroke-width="1.4"/>
<text transform="translate(54.3,1002.7) scale(0.987,1)" font-size="20.4" text-anchor="end">2</text>
<line x1="62.7" y1="939.7" x2="69.4" y2="939.7" stroke="#111" stroke-width="1.4"/>
<line x1="684.3" y1="939.7" x2="677.6" y2="939.7" stroke="#111" stroke-width="1.4"/>
<text transform="translate(54.3,946.5) scale(0.987,1)" font-size="20.4" text-anchor="end">4</text>
<line x1="62.7" y1="883.5" x2="69.4" y2="883.5" stroke="#111" stroke-width="1.4"/>
<line x1="684.3" y1="883.5" x2="677.6" y2="883.5" stroke="#111" stroke-width="1.4"/>
<text transform="translate(54.3,890.3) scale(0.987,1)" font-size="20.4" text-anchor="end">6</text>
<line x1="62.7" y1="827.3" x2="69.4" y2="827.3" stroke="#111" stroke-width="1.4"/>
<line x1="684.3" y1="827.3" x2="677.6" y2="827.3" stroke="#111" stroke-width="1.4"/>
<text transform="translate(54.3,834.1) scale(0.987,1)" font-size="20.4" text-anchor="end">8</text>
<line x1="62.7" y1="771.1" x2="69.4" y2="771.1" stroke="#111" stroke-width="1.4"/>
<line x1="684.3" y1="771.1" x2="677.6" y2="771.1" stroke="#111" stroke-width="1.4"/>
<text transform="translate(54.3,777.9) scale(0.987,1)" font-size="20.4" text-anchor="end">10</text>
<line x1="62.7" y1="714.9" x2="69.4" y2="714.9" stroke="#111" stroke-width="1.4"/>
<line x1="684.3" y1="714.9" x2="677.6" y2="714.9" stroke="#111" stroke-width="1.4"/>
<text transform="translate(54.3,721.7) scale(0.987,1)" font-size="20.4" text-anchor="end">12</text>
<line x1="62.7" y1="658.7" x2="69.4" y2="658.7" stroke="#111" stroke-width="1.4"/>
<line x1="684.3" y1="658.7" x2="677.6" y2="658.7" stroke="#111" stroke-width="1.4"/>
<text transform="translate(54.3,665.5) scale(0.987,1)" font-size="20.4" text-anchor="end">14</text>
<text transform="translate(-0.5,571.2) scale(1.08,1)" font-size="27.5" font-weight="bold">b</text>
<text transform="translate(372.3,1158.3) scale(0.987,1)" font-size="20.4" text-anchor="middle">Log<tspan font-size="14" dy="6">10</tspan><tspan dy="-6"> whole rock N concentration (p.p.m.)</tspan></text>
<text transform="translate(18.4,891.6) rotate(-90) scale(0.987,1)" font-size="20.4"><tspan font-style="italic">δ</tspan><tspan font-size="13" dy="-7.6">15</tspan><tspan dy="7.6">N (‰)</tspan></text>
<rect x="83.8" y="561.7" width="239.6" height="167.9" fill="#fff" stroke="#111" stroke-width="1.2"/>
<circle cx="95.2" cy="571.6" r="4.8" fill="#54278f"/>
<circle cx="95.2" cy="589.9" r="4.8" fill="#807dba"/>
<circle cx="95.2" cy="608.2" r="4.8" fill="#dadaeb"/>
<path d="M89.5 631.2L101.0 631.2L95.2 621.2Z" fill="#b4733f" stroke="none" stroke-width="0"/>
<rect x="91.0" y="641.0" width="8.4" height="8.4" fill="#dba26e"/>
<path d="M89.5 659.1L101.0 659.1L95.2 669.1Z" fill="#5e2a0a" stroke="none" stroke-width="0"/>
<circle cx="95.2" cy="682.0" r="4.3" fill="#109c72" stroke="#111" stroke-width="0.9"/>
<circle cx="95.2" cy="700.5" r="4.3" fill="#56b4e9" stroke="#111" stroke-width="0.9"/>
<circle cx="95.2" cy="719.0" r="4.3" fill="#e69f00" stroke="#111" stroke-width="0.9"/>
<text transform="translate(105.8,577.6) scale(0.987,1)" font-size="17.4">Holocene</text>
<text transform="translate(105.8,595.9) scale(0.987,1)" font-size="17.4">Last deglacial</text>
<text transform="translate(105.8,614.2) scale(0.987,1)" font-size="17.4">Last glacial maximum</text>
<text transform="translate(105.8,632.7) scale(0.987,1)" font-size="17.4">Cryogenian</text>
<text transform="translate(105.8,651.2) scale(0.987,1)" font-size="17.4">Ediacaran</text>
<text transform="translate(105.8,669.6) scale(0.987,1)" font-size="17.4">Cambrian</text>
<text transform="translate(105.8,688.0) scale(0.987,1)" font-size="17.4">Deglacial</text>
<text transform="translate(105.8,706.5) scale(0.987,1)" font-size="17.4">Synglacial detrital carbonate</text>
<text transform="translate(105.8,725.0) scale(0.987,1)" font-size="17.4">Synglacial siliciclastic</text>
</svg>
</body></html>
